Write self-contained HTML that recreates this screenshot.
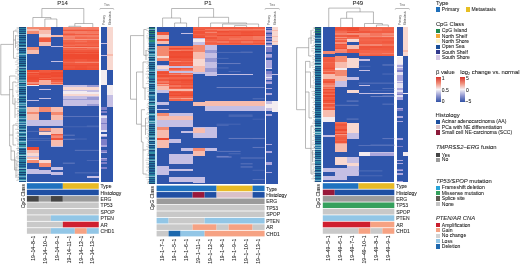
<!DOCTYPE html>
<html><head><meta charset="utf-8"><style>
html,body{margin:0;padding:0;background:#fff;}
body{width:520px;height:264px;overflow:hidden;}
svg{display:block;font-family:"Liberation Sans",sans-serif;filter:blur(0.4px);}
rect{shape-rendering:crispEdges;}
rect.a{shape-rendering:auto;}
text{stroke:currentColor;stroke-width:0.07px;}
</style></head><body>
<svg width="520" height="264" viewBox="0 0 520 264">
<rect width="520" height="264" fill="#fff"/>
<rect x="26.90" y="27.00" width="71.88" height="154.50" fill="#2f55ab"/>
<rect x="26.90" y="27.00" width="11.98" height="2.00" fill="#f48a70"/>
<rect x="26.90" y="29.00" width="11.98" height="2.00" fill="#f7bcae"/>
<rect x="26.90" y="31.00" width="11.98" height="2.80" fill="#f48a70"/>
<rect x="26.90" y="47.00" width="11.98" height="3.00" fill="#f48a70"/>
<rect x="26.90" y="50.00" width="11.98" height="3.70" fill="#f7bcae"/>
<rect x="26.90" y="70.00" width="11.98" height="1.10" fill="#ee4c32"/>
<rect x="26.90" y="71.10" width="11.98" height="0.90" fill="#ee4c32"/>
<rect x="26.90" y="72.00" width="11.98" height="0.90" fill="#f46e55"/>
<rect x="26.90" y="72.90" width="11.98" height="0.90" fill="#ee4a30"/>
<rect x="26.90" y="73.80" width="11.98" height="1.60" fill="#f1593f"/>
<rect x="26.90" y="75.40" width="11.98" height="2.00" fill="#ef5036"/>
<rect x="26.90" y="77.40" width="11.98" height="1.60" fill="#ee4a30"/>
<rect x="26.90" y="79.00" width="11.98" height="1.10" fill="#ee4c32"/>
<rect x="26.90" y="80.10" width="11.98" height="0.30" fill="#ee4a30"/>
<rect x="26.90" y="80.40" width="11.98" height="1.60" fill="#f05339"/>
<rect x="26.90" y="82.00" width="11.98" height="2.00" fill="#f68e7a"/>
<rect x="26.90" y="84.00" width="11.98" height="0.80" fill="#f15a40"/>
<rect x="26.90" y="84.80" width="11.98" height="1.20" fill="#f3ecf0"/>
<rect x="26.90" y="100.00" width="11.98" height="1.00" fill="#c5bfe4"/>
<rect x="26.90" y="107.20" width="11.98" height="4.80" fill="#f7bcae"/>
<rect x="26.90" y="112.00" width="11.98" height="2.00" fill="#f48a70"/>
<rect x="26.90" y="114.00" width="11.98" height="6.20" fill="#f7bcae"/>
<rect x="26.90" y="120.20" width="11.98" height="6.00" fill="#c5bfe4"/>
<rect x="26.90" y="146.60" width="11.98" height="2.90" fill="#ec4a30"/>
<rect x="26.90" y="149.50" width="11.98" height="3.50" fill="#f7bcae"/>
<rect x="26.90" y="153.00" width="11.98" height="3.00" fill="#f8d8d0"/>
<rect x="26.90" y="156.00" width="11.98" height="1.00" fill="#c5bfe4"/>
<rect x="26.90" y="157.00" width="11.98" height="2.00" fill="#f7bcae"/>
<rect x="26.90" y="159.00" width="11.98" height="1.00" fill="#f3ecf0"/>
<rect x="26.90" y="160.00" width="11.98" height="3.40" fill="#f48a70"/>
<rect x="26.90" y="169.40" width="11.98" height="4.30" fill="#c5bfe4"/>
<rect x="38.88" y="27.00" width="11.98" height="3.00" fill="#f48a70"/>
<rect x="38.88" y="30.00" width="11.98" height="3.80" fill="#f7bcae"/>
<rect x="38.88" y="33.80" width="11.98" height="2.70" fill="#f8d8d0"/>
<rect x="38.88" y="36.50" width="11.98" height="1.00" fill="#f48a70"/>
<rect x="38.88" y="37.50" width="11.98" height="0.60" fill="#f7bcae"/>
<rect x="38.88" y="38.10" width="11.98" height="4.30" fill="#f05a40"/>
<rect x="38.88" y="42.40" width="11.98" height="3.50" fill="#f7bcae"/>
<rect x="38.88" y="70.00" width="11.98" height="1.30" fill="#f15b41"/>
<rect x="38.88" y="71.30" width="11.98" height="0.90" fill="#f1593f"/>
<rect x="38.88" y="72.20" width="11.98" height="1.10" fill="#f0563c"/>
<rect x="38.88" y="73.30" width="11.98" height="1.30" fill="#ee4a30"/>
<rect x="38.88" y="74.60" width="11.98" height="2.00" fill="#ef5036"/>
<rect x="38.88" y="76.60" width="11.98" height="1.30" fill="#ee4a30"/>
<rect x="38.88" y="77.90" width="11.98" height="0.90" fill="#f3664c"/>
<rect x="38.88" y="78.80" width="11.98" height="1.60" fill="#ee4a30"/>
<rect x="38.88" y="80.40" width="11.98" height="1.10" fill="#f8ae9e"/>
<rect x="38.88" y="81.50" width="11.98" height="1.30" fill="#f8ad9d"/>
<rect x="38.88" y="82.80" width="11.98" height="0.90" fill="#f8ae9e"/>
<rect x="38.88" y="83.70" width="11.98" height="0.90" fill="#f8ae9e"/>
<rect x="38.88" y="84.60" width="11.98" height="0.20" fill="#f7a08e"/>
<rect x="38.88" y="89.00" width="11.98" height="1.00" fill="#c5bfe4"/>
<rect x="38.88" y="97.70" width="11.98" height="1.30" fill="#c5bfe4"/>
<rect x="38.88" y="107.20" width="11.98" height="5.20" fill="#f48a70"/>
<rect x="38.88" y="120.20" width="11.98" height="6.00" fill="#c5bfe4"/>
<rect x="38.88" y="128.00" width="11.98" height="4.00" fill="#f48a70"/>
<rect x="38.88" y="132.00" width="11.98" height="2.90" fill="#f8d8d0"/>
<rect x="38.88" y="160.00" width="11.98" height="3.40" fill="#f8d8d0"/>
<rect x="38.88" y="163.40" width="11.98" height="3.40" fill="#f48a70"/>
<rect x="38.88" y="170.30" width="11.98" height="3.40" fill="#c5bfe4"/>
<rect x="50.86" y="34.60" width="11.98" height="2.60" fill="#f7bcae"/>
<rect x="50.86" y="45.90" width="11.98" height="0.90" fill="#c5bfe4"/>
<rect x="50.86" y="61.00" width="11.98" height="1.00" fill="#c5bfe4"/>
<rect x="50.86" y="70.00" width="11.98" height="1.10" fill="#ef5238"/>
<rect x="50.86" y="71.10" width="11.98" height="0.90" fill="#f15a40"/>
<rect x="50.86" y="72.00" width="11.98" height="1.60" fill="#ee4a30"/>
<rect x="50.86" y="73.60" width="11.98" height="1.10" fill="#ef4d33"/>
<rect x="50.86" y="74.70" width="11.98" height="1.10" fill="#ee4a30"/>
<rect x="50.86" y="75.80" width="11.98" height="1.30" fill="#ee4a30"/>
<rect x="50.86" y="77.10" width="11.98" height="2.00" fill="#f1593f"/>
<rect x="50.86" y="79.10" width="11.98" height="1.30" fill="#ee4a30"/>
<rect x="50.86" y="80.40" width="11.98" height="1.10" fill="#f25f45"/>
<rect x="50.86" y="81.50" width="11.98" height="1.30" fill="#f5836d"/>
<rect x="50.86" y="82.80" width="11.98" height="1.10" fill="#f3644a"/>
<rect x="50.86" y="83.90" width="11.98" height="0.90" fill="#f7a694"/>
<rect x="50.86" y="107.20" width="11.98" height="4.80" fill="#f7bcae"/>
<rect x="50.86" y="112.00" width="11.98" height="3.00" fill="#f48a70"/>
<rect x="50.86" y="115.00" width="11.98" height="5.20" fill="#f7bcae"/>
<rect x="50.86" y="120.20" width="11.98" height="6.00" fill="#c5bfe4"/>
<rect x="50.86" y="128.00" width="11.98" height="6.00" fill="#f7bcae"/>
<rect x="50.86" y="134.00" width="11.98" height="1.30" fill="#f15d43"/>
<rect x="50.86" y="135.30" width="11.98" height="1.10" fill="#f47962"/>
<rect x="50.86" y="136.40" width="11.98" height="1.60" fill="#f58772"/>
<rect x="50.86" y="138.00" width="11.98" height="2.00" fill="#f0553b"/>
<rect x="50.86" y="140.00" width="11.98" height="6.00" fill="#f7bcae"/>
<rect x="50.86" y="146.00" width="11.98" height="1.00" fill="#c5bfe4"/>
<rect x="50.86" y="166.80" width="11.98" height="3.50" fill="#c5bfe4"/>
<rect x="50.86" y="172.00" width="11.98" height="2.60" fill="#c5bfe4"/>
<rect x="62.84" y="27.00" width="11.98" height="1.60" fill="#f5826c"/>
<rect x="74.82" y="27.00" width="11.98" height="1.60" fill="#f5826b"/>
<rect x="86.80" y="27.00" width="11.98" height="1.60" fill="#f57c65"/>
<rect x="62.84" y="28.60" width="11.98" height="1.30" fill="#f4765e"/>
<rect x="74.82" y="28.60" width="11.98" height="1.30" fill="#f4745c"/>
<rect x="86.80" y="28.60" width="11.98" height="1.30" fill="#f4755e"/>
<rect x="62.84" y="29.90" width="11.98" height="0.90" fill="#f0563c"/>
<rect x="74.82" y="29.90" width="11.98" height="0.90" fill="#f0573d"/>
<rect x="86.80" y="29.90" width="11.98" height="0.90" fill="#f1593f"/>
<rect x="62.84" y="30.80" width="11.98" height="2.00" fill="#f57c65"/>
<rect x="74.82" y="30.80" width="11.98" height="2.00" fill="#f57d66"/>
<rect x="86.80" y="30.80" width="11.98" height="2.00" fill="#f4775f"/>
<rect x="62.84" y="32.80" width="11.98" height="1.10" fill="#f46d54"/>
<rect x="74.82" y="32.80" width="11.98" height="1.10" fill="#f47c65"/>
<rect x="86.80" y="32.80" width="11.98" height="1.10" fill="#f57c65"/>
<rect x="62.84" y="33.90" width="11.98" height="0.90" fill="#f0583e"/>
<rect x="74.82" y="33.90" width="11.98" height="0.90" fill="#f15c42"/>
<rect x="86.80" y="33.90" width="11.98" height="0.90" fill="#f25f45"/>
<rect x="62.84" y="34.80" width="11.98" height="1.30" fill="#f4745c"/>
<rect x="74.82" y="34.80" width="11.98" height="1.30" fill="#f57d66"/>
<rect x="86.80" y="34.80" width="11.98" height="1.30" fill="#f57d66"/>
<rect x="62.84" y="36.10" width="11.98" height="1.30" fill="#f58772"/>
<rect x="74.82" y="36.10" width="11.98" height="1.30" fill="#f47a63"/>
<rect x="86.80" y="36.10" width="11.98" height="1.30" fill="#f57d66"/>
<rect x="62.84" y="37.40" width="11.98" height="1.30" fill="#f57e67"/>
<rect x="74.82" y="37.40" width="11.98" height="1.30" fill="#f3684e"/>
<rect x="86.80" y="37.40" width="11.98" height="1.30" fill="#f36b52"/>
<rect x="62.84" y="38.70" width="11.98" height="0.90" fill="#f68e79"/>
<rect x="74.82" y="38.70" width="11.98" height="0.90" fill="#f79986"/>
<rect x="86.80" y="38.70" width="11.98" height="0.90" fill="#f6937f"/>
<rect x="62.84" y="39.60" width="11.98" height="1.30" fill="#f26349"/>
<rect x="74.82" y="39.60" width="11.98" height="1.30" fill="#f3664c"/>
<rect x="86.80" y="39.60" width="11.98" height="1.30" fill="#f26147"/>
<rect x="62.84" y="40.90" width="11.98" height="0.90" fill="#f3664c"/>
<rect x="74.82" y="40.90" width="11.98" height="0.90" fill="#f4725a"/>
<rect x="86.80" y="40.90" width="11.98" height="0.90" fill="#f26147"/>
<rect x="62.84" y="41.80" width="11.98" height="0.90" fill="#f25f45"/>
<rect x="74.82" y="41.80" width="11.98" height="0.90" fill="#f26147"/>
<rect x="86.80" y="41.80" width="11.98" height="0.90" fill="#f15d43"/>
<rect x="62.84" y="42.70" width="11.98" height="1.10" fill="#f15b41"/>
<rect x="74.82" y="42.70" width="11.98" height="1.10" fill="#f15c42"/>
<rect x="86.80" y="42.70" width="11.98" height="1.10" fill="#f26046"/>
<rect x="62.84" y="43.80" width="11.98" height="0.90" fill="#f36349"/>
<rect x="74.82" y="43.80" width="11.98" height="0.90" fill="#f36b52"/>
<rect x="86.80" y="43.80" width="11.98" height="0.90" fill="#f36349"/>
<rect x="62.84" y="44.70" width="11.98" height="1.10" fill="#f36d54"/>
<rect x="74.82" y="44.70" width="11.98" height="1.10" fill="#f3694f"/>
<rect x="86.80" y="44.70" width="11.98" height="1.10" fill="#f3664c"/>
<rect x="62.84" y="45.80" width="11.98" height="1.30" fill="#f0573d"/>
<rect x="74.82" y="45.80" width="11.98" height="1.30" fill="#ef5137"/>
<rect x="86.80" y="45.80" width="11.98" height="1.30" fill="#f0543a"/>
<rect x="62.84" y="47.10" width="11.98" height="0.90" fill="#f68e7a"/>
<rect x="74.82" y="47.10" width="11.98" height="0.90" fill="#f6927e"/>
<rect x="86.80" y="47.10" width="11.98" height="0.90" fill="#f68e7a"/>
<rect x="62.84" y="48.00" width="11.98" height="1.10" fill="#f26349"/>
<rect x="74.82" y="48.00" width="11.98" height="1.10" fill="#f25f45"/>
<rect x="86.80" y="48.00" width="11.98" height="1.10" fill="#f36d54"/>
<rect x="62.84" y="49.10" width="11.98" height="1.30" fill="#f3674d"/>
<rect x="74.82" y="49.10" width="11.98" height="1.30" fill="#f36a50"/>
<rect x="86.80" y="49.10" width="11.98" height="1.30" fill="#f3674e"/>
<rect x="62.84" y="50.40" width="11.98" height="1.60" fill="#f0553b"/>
<rect x="74.82" y="50.40" width="11.98" height="1.60" fill="#f0573d"/>
<rect x="86.80" y="50.40" width="11.98" height="1.60" fill="#f0563c"/>
<rect x="62.84" y="52.00" width="11.98" height="0.90" fill="#ee4c32"/>
<rect x="74.82" y="52.00" width="11.98" height="0.90" fill="#ee4a30"/>
<rect x="86.80" y="52.00" width="11.98" height="0.90" fill="#ee4a30"/>
<rect x="62.84" y="52.90" width="11.98" height="1.30" fill="#f15a40"/>
<rect x="74.82" y="52.90" width="11.98" height="1.30" fill="#f25f45"/>
<rect x="86.80" y="52.90" width="11.98" height="1.30" fill="#f15a40"/>
<rect x="62.84" y="54.20" width="11.98" height="2.00" fill="#ee4a30"/>
<rect x="74.82" y="54.20" width="11.98" height="2.00" fill="#ee4a30"/>
<rect x="86.80" y="54.20" width="11.98" height="2.00" fill="#ee4a30"/>
<rect x="62.84" y="56.20" width="11.98" height="1.10" fill="#ee4a30"/>
<rect x="74.82" y="56.20" width="11.98" height="1.10" fill="#ee4a30"/>
<rect x="86.80" y="56.20" width="11.98" height="1.10" fill="#ee4a30"/>
<rect x="62.84" y="57.30" width="11.98" height="2.00" fill="#ee4b31"/>
<rect x="74.82" y="57.30" width="11.98" height="2.00" fill="#ee4a30"/>
<rect x="86.80" y="57.30" width="11.98" height="2.00" fill="#ee4a30"/>
<rect x="62.84" y="59.30" width="11.98" height="2.00" fill="#f05339"/>
<rect x="74.82" y="59.30" width="11.98" height="2.00" fill="#f0573d"/>
<rect x="86.80" y="59.30" width="11.98" height="2.00" fill="#ef5137"/>
<rect x="62.84" y="61.30" width="11.98" height="0.70" fill="#f1593f"/>
<rect x="74.82" y="61.30" width="11.98" height="0.70" fill="#f26046"/>
<rect x="86.80" y="61.30" width="11.98" height="0.70" fill="#f15e44"/>
<rect x="62.84" y="62.00" width="11.98" height="1.30" fill="#f36b52"/>
<rect x="74.82" y="62.00" width="11.98" height="1.30" fill="#f5816b"/>
<rect x="86.80" y="62.00" width="11.98" height="1.30" fill="#f5836d"/>
<rect x="62.84" y="63.30" width="11.98" height="2.00" fill="#f0573d"/>
<rect x="74.82" y="63.30" width="11.98" height="2.00" fill="#f1583e"/>
<rect x="86.80" y="63.30" width="11.98" height="2.00" fill="#f0553b"/>
<rect x="62.84" y="65.30" width="11.98" height="1.10" fill="#ef4e34"/>
<rect x="74.82" y="65.30" width="11.98" height="1.10" fill="#ef4e34"/>
<rect x="86.80" y="65.30" width="11.98" height="1.10" fill="#ef5036"/>
<rect x="62.84" y="66.40" width="11.98" height="1.30" fill="#f0573d"/>
<rect x="74.82" y="66.40" width="11.98" height="1.30" fill="#ef5238"/>
<rect x="86.80" y="66.40" width="11.98" height="1.30" fill="#f0573d"/>
<rect x="62.84" y="67.70" width="11.98" height="1.30" fill="#ef5238"/>
<rect x="74.82" y="67.70" width="11.98" height="1.30" fill="#ef4e34"/>
<rect x="86.80" y="67.70" width="11.98" height="1.30" fill="#ef5238"/>
<rect x="62.84" y="69.00" width="11.98" height="1.00" fill="#ef4d33"/>
<rect x="74.82" y="69.00" width="11.98" height="1.00" fill="#ef4d33"/>
<rect x="86.80" y="69.00" width="11.98" height="1.00" fill="#f05339"/>
<rect x="62.84" y="84.80" width="35.94" height="1.70" fill="#c5bfe4"/>
<rect x="62.84" y="86.50" width="35.94" height="3.50" fill="#f8d8d0"/>
<rect x="62.84" y="90.00" width="35.94" height="1.00" fill="#c5bfe4"/>
<rect x="62.84" y="91.00" width="35.94" height="3.00" fill="#f3ecf0"/>
<rect x="62.84" y="94.00" width="35.94" height="2.00" fill="#f8d8d0"/>
<rect x="62.84" y="96.00" width="35.94" height="3.00" fill="#c5bfe4"/>
<rect x="62.84" y="99.00" width="35.94" height="1.00" fill="#9a9bd4"/>
<rect x="62.84" y="100.00" width="35.94" height="4.00" fill="#c5bfe4"/>
<rect x="62.84" y="104.00" width="35.94" height="2.30" fill="#c5bfe4"/>
<rect x="86.80" y="84.80" width="11.98" height="1.70" fill="#9a9bd4"/>
<rect x="86.80" y="89.70" width="11.98" height="2.50" fill="#c5bfe4"/>
<rect x="86.80" y="97.20" width="11.98" height="2.50" fill="#9a9bd4"/>
<rect x="86.80" y="103.50" width="11.98" height="2.80" fill="#9a9bd4"/>
<rect x="86.80" y="176.30" width="11.98" height="1.70" fill="#c5bfe4"/>
<rect x="62.84" y="134.81" width="11.98" height="0.65" fill="#7c8cc8" class="a"/>
<rect x="74.82" y="172.44" width="23.96" height="0.84" fill="#5c74bc" class="a"/>
<rect x="62.84" y="162.72" width="11.98" height="0.84" fill="#7083c4" class="a"/>
<rect x="62.84" y="139.08" width="11.98" height="0.63" fill="#808fca" class="a"/>
<rect x="86.80" y="125.80" width="11.98" height="0.55" fill="#6c80c2" class="a"/>
<rect x="74.82" y="149.91" width="23.96" height="0.59" fill="#7989c7" class="a"/>
<rect x="86.80" y="160.02" width="11.98" height="0.77" fill="#546fb9" class="a"/>
<rect x="62.84" y="116.04" width="35.94" height="0.57" fill="#7c8cc8" class="a"/>
<rect x="62.84" y="126.46" width="35.94" height="0.73" fill="#4e6bb7" class="a"/>
<rect x="62.84" y="138.75" width="23.96" height="0.54" fill="#6279be" class="a"/>
<rect x="26.90" y="138.51" width="23.96" height="0.59" fill="#5b74bc" class="a"/>
<rect x="26.90" y="140.26" width="23.96" height="0.51" fill="#637abf" class="a"/>
<rect x="26.90" y="130.94" width="23.96" height="0.76" fill="#5772ba" class="a"/>
<rect x="101.00" y="27.00" width="5.90" height="16.00" fill="#2f55ab"/>
<rect x="101.00" y="43.00" width="5.90" height="1.00" fill="#c5bfe4"/>
<rect x="101.00" y="44.00" width="5.90" height="11.00" fill="#2f55ab"/>
<rect x="101.00" y="55.00" width="5.90" height="1.00" fill="#c5bfe4"/>
<rect x="101.00" y="56.00" width="5.90" height="14.00" fill="#2f55ab"/>
<rect x="101.00" y="70.00" width="5.90" height="14.80" fill="#f3ecf0"/>
<rect x="101.00" y="84.80" width="5.90" height="21.70" fill="#2f55ab"/>
<rect x="101.00" y="106.50" width="5.90" height="5.50" fill="#f3ecf0"/>
<rect x="101.00" y="112.00" width="5.90" height="2.00" fill="#c5bfe4"/>
<rect x="101.00" y="114.00" width="5.90" height="2.00" fill="#2f55ab"/>
<rect x="101.00" y="116.00" width="5.90" height="2.00" fill="#c5bfe4"/>
<rect x="101.00" y="118.00" width="5.90" height="3.00" fill="#9a9bd4"/>
<rect x="101.00" y="121.00" width="5.90" height="2.00" fill="#c5bfe4"/>
<rect x="101.00" y="123.00" width="5.90" height="3.00" fill="#2f55ab"/>
<rect x="101.00" y="126.00" width="5.90" height="2.00" fill="#c5bfe4"/>
<rect x="101.00" y="128.00" width="5.90" height="3.00" fill="#2f55ab"/>
<rect x="101.00" y="131.00" width="5.90" height="2.00" fill="#9a9bd4"/>
<rect x="101.00" y="133.00" width="5.90" height="3.00" fill="#2f55ab"/>
<rect x="101.00" y="136.00" width="5.90" height="2.00" fill="#c5bfe4"/>
<rect x="101.00" y="138.00" width="5.90" height="3.00" fill="#2f55ab"/>
<rect x="101.00" y="141.00" width="5.90" height="2.00" fill="#c5bfe4"/>
<rect x="101.00" y="143.00" width="5.90" height="3.00" fill="#2f55ab"/>
<rect x="101.00" y="146.00" width="5.90" height="1.00" fill="#c5bfe4"/>
<rect x="101.00" y="147.00" width="5.90" height="13.00" fill="#2f55ab"/>
<rect x="101.00" y="160.00" width="5.90" height="2.00" fill="#c5bfe4"/>
<rect x="101.00" y="162.00" width="5.90" height="2.00" fill="#2f55ab"/>
<rect x="101.00" y="164.00" width="5.90" height="2.00" fill="#9a9bd4"/>
<rect x="101.00" y="166.00" width="5.90" height="2.00" fill="#2f55ab"/>
<rect x="101.00" y="168.00" width="5.90" height="4.00" fill="#c5bfe4"/>
<rect x="101.00" y="172.00" width="5.90" height="9.50" fill="#2f55ab"/>
<rect x="101.00" y="106.50" width="5.90" height="1.57" fill="#7e7fc8"/>
<rect x="101.00" y="108.07" width="5.90" height="1.85" fill="#7e7fc8"/>
<rect x="101.00" y="109.91" width="5.90" height="1.20" fill="#2f55ab"/>
<rect x="101.00" y="111.11" width="5.90" height="1.59" fill="#7e7fc8"/>
<rect x="101.00" y="112.71" width="5.90" height="1.86" fill="#2f55ab"/>
<rect x="101.00" y="114.56" width="5.90" height="1.18" fill="#aba6dc"/>
<rect x="101.00" y="115.75" width="5.90" height="1.80" fill="#e4e0f0"/>
<rect x="101.00" y="117.55" width="5.90" height="1.85" fill="#aba6dc"/>
<rect x="101.00" y="119.40" width="5.90" height="2.14" fill="#aba6dc"/>
<rect x="101.00" y="121.54" width="5.90" height="1.81" fill="#aba6dc"/>
<rect x="101.00" y="123.35" width="5.90" height="0.84" fill="#7e7fc8"/>
<rect x="101.00" y="124.19" width="5.90" height="0.87" fill="#aba6dc"/>
<rect x="101.00" y="125.06" width="5.90" height="1.25" fill="#aba6dc"/>
<rect x="101.00" y="126.31" width="5.90" height="1.03" fill="#aba6dc"/>
<rect x="101.00" y="127.34" width="5.90" height="1.98" fill="#aba6dc"/>
<rect x="101.00" y="129.33" width="5.90" height="1.03" fill="#aba6dc"/>
<rect x="101.00" y="130.35" width="5.90" height="2.07" fill="#e4e0f0"/>
<rect x="101.00" y="132.43" width="5.90" height="1.95" fill="#2f55ab"/>
<rect x="101.00" y="134.38" width="5.90" height="1.49" fill="#e4e0f0"/>
<rect x="101.00" y="135.87" width="5.90" height="1.34" fill="#aba6dc"/>
<rect x="101.00" y="137.22" width="5.90" height="1.63" fill="#2f55ab"/>
<rect x="101.00" y="138.85" width="5.90" height="1.15" fill="#7e7fc8"/>
<rect x="101.00" y="140.00" width="5.90" height="1.26" fill="#7e7fc8"/>
<rect x="101.00" y="141.26" width="5.90" height="2.14" fill="#7e7fc8"/>
<rect x="101.00" y="143.40" width="5.90" height="1.91" fill="#7e7fc8"/>
<rect x="101.00" y="145.31" width="5.90" height="0.80" fill="#aba6dc"/>
<rect x="101.00" y="146.11" width="5.90" height="1.15" fill="#aba6dc"/>
<rect x="101.00" y="147.26" width="5.90" height="1.41" fill="#2f55ab"/>
<rect x="101.00" y="148.66" width="5.90" height="1.56" fill="#2f55ab"/>
<rect x="101.00" y="150.22" width="5.90" height="1.96" fill="#7e7fc8"/>
<rect x="101.00" y="152.18" width="5.90" height="1.28" fill="#aba6dc"/>
<rect x="101.00" y="153.46" width="5.90" height="2.04" fill="#2f55ab"/>
<rect x="101.00" y="155.51" width="5.90" height="0.97" fill="#2f55ab"/>
<rect x="101.00" y="156.48" width="5.90" height="1.87" fill="#2f55ab"/>
<rect x="101.00" y="158.35" width="5.90" height="1.06" fill="#aba6dc"/>
<rect x="101.00" y="159.41" width="5.90" height="1.25" fill="#7e7fc8"/>
<rect x="101.00" y="160.66" width="5.90" height="1.04" fill="#2f55ab"/>
<rect x="101.00" y="161.70" width="5.90" height="1.34" fill="#7e7fc8"/>
<rect x="101.00" y="163.04" width="5.90" height="0.99" fill="#7e7fc8"/>
<rect x="101.00" y="164.03" width="5.90" height="1.38" fill="#2f55ab"/>
<rect x="101.00" y="165.42" width="5.90" height="1.09" fill="#2f55ab"/>
<rect x="101.00" y="166.51" width="5.90" height="2.10" fill="#7e7fc8"/>
<rect x="101.00" y="168.61" width="5.90" height="2.12" fill="#2f55ab"/>
<rect x="101.00" y="170.73" width="5.90" height="1.13" fill="#2f55ab"/>
<rect x="101.00" y="171.86" width="5.90" height="1.71" fill="#2f55ab"/>
<rect x="101.00" y="173.57" width="5.90" height="2.18" fill="#2f55ab"/>
<rect x="101.00" y="175.75" width="5.90" height="1.13" fill="#2f55ab"/>
<rect x="101.00" y="176.88" width="5.90" height="1.03" fill="#2f55ab"/>
<rect x="101.00" y="177.91" width="5.90" height="1.14" fill="#2f55ab"/>
<rect x="101.00" y="179.05" width="5.90" height="2.11" fill="#2f55ab"/>
<rect x="101.00" y="181.16" width="5.90" height="0.34" fill="#2f55ab"/>
<rect x="106.90" y="27.00" width="5.90" height="27.00" fill="#f8d8d0"/>
<rect x="106.90" y="54.00" width="5.90" height="2.00" fill="#f7bcae"/>
<rect x="106.90" y="56.00" width="5.90" height="14.00" fill="#f8d8d0"/>
<rect x="106.90" y="70.00" width="5.90" height="14.80" fill="#2f55ab"/>
<rect x="106.90" y="84.80" width="5.90" height="10.20" fill="#f3ecf0"/>
<rect x="106.90" y="95.00" width="5.90" height="11.50" fill="#c5bfe4"/>
<rect x="106.90" y="106.50" width="5.90" height="75.00" fill="#2f55ab"/>
<rect x="18.60" y="27.00" width="7.00" height="154.50" fill="#1f5e8c"/>
<rect x="18.60" y="27.00" width="7.00" height="0.73" fill="#19467a"/>
<rect x="18.60" y="27.73" width="7.00" height="1.05" fill="#2a84a0"/>
<rect x="18.60" y="28.78" width="7.00" height="0.50" fill="#6aa8c4"/>
<rect x="18.60" y="29.28" width="7.00" height="0.65" fill="#1c5086"/>
<rect x="18.60" y="29.92" width="7.00" height="0.81" fill="#2578a0"/>
<rect x="18.60" y="30.74" width="7.00" height="0.95" fill="#1c5086"/>
<rect x="18.60" y="31.68" width="7.00" height="0.93" fill="#2a84a0"/>
<rect x="18.60" y="32.62" width="7.00" height="1.05" fill="#174272"/>
<rect x="18.60" y="33.67" width="7.00" height="0.82" fill="#2a84a0"/>
<rect x="18.60" y="34.48" width="7.00" height="0.50" fill="#6aa8c4"/>
<rect x="18.60" y="34.98" width="7.00" height="0.94" fill="#19467a"/>
<rect x="18.60" y="35.93" width="7.00" height="1.28" fill="#2270a0"/>
<rect x="18.60" y="37.21" width="7.00" height="0.98" fill="#174272"/>
<rect x="18.60" y="38.19" width="7.00" height="1.27" fill="#2578a0"/>
<rect x="18.60" y="39.46" width="7.00" height="0.94" fill="#1c5086"/>
<rect x="18.60" y="40.40" width="7.00" height="1.18" fill="#2578a0"/>
<rect x="18.60" y="41.58" width="7.00" height="1.02" fill="#19467a"/>
<rect x="18.60" y="42.60" width="7.00" height="1.08" fill="#2270a0"/>
<rect x="18.60" y="43.68" width="7.00" height="0.66" fill="#19467a"/>
<rect x="18.60" y="44.34" width="7.00" height="0.97" fill="#318ea4"/>
<rect x="18.60" y="45.31" width="7.00" height="0.85" fill="#174272"/>
<rect x="18.60" y="46.16" width="7.00" height="1.26" fill="#2270a0"/>
<rect x="18.60" y="47.41" width="7.00" height="0.50" fill="#8cc4d8"/>
<rect x="18.60" y="47.91" width="7.00" height="1.02" fill="#174272"/>
<rect x="18.60" y="48.94" width="7.00" height="1.05" fill="#2270a0"/>
<rect x="18.60" y="49.99" width="7.00" height="0.72" fill="#19467a"/>
<rect x="18.60" y="50.71" width="7.00" height="1.20" fill="#2270a0"/>
<rect x="18.60" y="51.91" width="7.00" height="0.50" fill="#78b4cc"/>
<rect x="18.60" y="52.41" width="7.00" height="0.64" fill="#1c5086"/>
<rect x="18.60" y="53.05" width="7.00" height="1.13" fill="#318ea4"/>
<rect x="18.60" y="54.19" width="7.00" height="0.50" fill="#78b4cc"/>
<rect x="18.60" y="54.69" width="7.00" height="0.79" fill="#174272"/>
<rect x="18.60" y="55.47" width="7.00" height="1.17" fill="#2270a0"/>
<rect x="18.60" y="56.64" width="7.00" height="0.50" fill="#8cc4d8"/>
<rect x="18.60" y="57.14" width="7.00" height="0.92" fill="#174272"/>
<rect x="18.60" y="58.06" width="7.00" height="0.88" fill="#2270a0"/>
<rect x="18.60" y="58.94" width="7.00" height="0.50" fill="#78b4cc"/>
<rect x="18.60" y="59.44" width="7.00" height="0.80" fill="#19467a"/>
<rect x="18.60" y="60.25" width="7.00" height="0.97" fill="#2578a0"/>
<rect x="18.60" y="61.22" width="7.00" height="1.05" fill="#1c5086"/>
<rect x="18.60" y="62.27" width="7.00" height="1.13" fill="#2270a0"/>
<rect x="18.60" y="63.40" width="7.00" height="0.79" fill="#174272"/>
<rect x="18.60" y="64.20" width="7.00" height="1.23" fill="#2a84a0"/>
<rect x="18.60" y="65.42" width="7.00" height="0.86" fill="#174272"/>
<rect x="18.60" y="66.28" width="7.00" height="1.08" fill="#2578a0"/>
<rect x="18.60" y="67.36" width="7.00" height="0.50" fill="#78b4cc"/>
<rect x="18.60" y="67.86" width="7.00" height="0.88" fill="#1c5086"/>
<rect x="18.60" y="68.75" width="7.00" height="0.90" fill="#318ea4"/>
<rect x="18.60" y="69.65" width="7.00" height="0.81" fill="#1c5086"/>
<rect x="18.60" y="70.46" width="7.00" height="0.80" fill="#318ea4"/>
<rect x="18.60" y="71.26" width="7.00" height="0.83" fill="#174272"/>
<rect x="18.60" y="72.09" width="7.00" height="0.81" fill="#318ea4"/>
<rect x="18.60" y="72.90" width="7.00" height="0.50" fill="#78b4cc"/>
<rect x="18.60" y="73.40" width="7.00" height="1.03" fill="#174272"/>
<rect x="18.60" y="74.43" width="7.00" height="1.20" fill="#2578a0"/>
<rect x="18.60" y="75.63" width="7.00" height="1.02" fill="#1c5086"/>
<rect x="18.60" y="76.65" width="7.00" height="1.14" fill="#2a84a0"/>
<rect x="18.60" y="77.79" width="7.00" height="0.50" fill="#78b4cc"/>
<rect x="18.60" y="78.29" width="7.00" height="0.98" fill="#1c5086"/>
<rect x="18.60" y="79.26" width="7.00" height="0.94" fill="#2a84a0"/>
<rect x="18.60" y="80.20" width="7.00" height="0.50" fill="#6aa8c4"/>
<rect x="18.60" y="80.70" width="7.00" height="0.75" fill="#19467a"/>
<rect x="18.60" y="81.45" width="7.00" height="0.88" fill="#318ea4"/>
<rect x="18.60" y="82.33" width="7.00" height="0.50" fill="#78b4cc"/>
<rect x="18.60" y="82.83" width="7.00" height="0.92" fill="#174272"/>
<rect x="18.60" y="83.76" width="7.00" height="0.95" fill="#318ea4"/>
<rect x="18.60" y="84.70" width="7.00" height="0.66" fill="#1c5086"/>
<rect x="18.60" y="85.36" width="7.00" height="0.96" fill="#2270a0"/>
<rect x="18.60" y="86.32" width="7.00" height="0.50" fill="#78b4cc"/>
<rect x="18.60" y="86.82" width="7.00" height="0.73" fill="#1c5086"/>
<rect x="18.60" y="87.54" width="7.00" height="1.17" fill="#2a84a0"/>
<rect x="18.60" y="88.71" width="7.00" height="1.01" fill="#174272"/>
<rect x="18.60" y="89.72" width="7.00" height="0.81" fill="#2270a0"/>
<rect x="18.60" y="90.53" width="7.00" height="0.50" fill="#78b4cc"/>
<rect x="18.60" y="91.03" width="7.00" height="0.82" fill="#19467a"/>
<rect x="18.60" y="91.85" width="7.00" height="1.05" fill="#2578a0"/>
<rect x="18.60" y="92.90" width="7.00" height="0.50" fill="#78b4cc"/>
<rect x="18.60" y="93.40" width="7.00" height="0.71" fill="#174272"/>
<rect x="18.60" y="94.12" width="7.00" height="1.12" fill="#2270a0"/>
<rect x="18.60" y="95.24" width="7.00" height="0.50" fill="#6aa8c4"/>
<rect x="18.60" y="95.74" width="7.00" height="0.63" fill="#1c5086"/>
<rect x="18.60" y="96.37" width="7.00" height="0.95" fill="#2270a0"/>
<rect x="18.60" y="97.32" width="7.00" height="0.64" fill="#19467a"/>
<rect x="18.60" y="97.95" width="7.00" height="0.84" fill="#318ea4"/>
<rect x="18.60" y="98.79" width="7.00" height="0.81" fill="#1c5086"/>
<rect x="18.60" y="99.60" width="7.00" height="0.93" fill="#2578a0"/>
<rect x="18.60" y="100.53" width="7.00" height="0.50" fill="#78b4cc"/>
<rect x="18.60" y="101.03" width="7.00" height="1.08" fill="#174272"/>
<rect x="18.60" y="102.11" width="7.00" height="1.09" fill="#2578a0"/>
<rect x="18.60" y="103.19" width="7.00" height="0.50" fill="#6aa8c4"/>
<rect x="18.60" y="103.69" width="7.00" height="0.79" fill="#174272"/>
<rect x="18.60" y="104.48" width="7.00" height="0.97" fill="#2a84a0"/>
<rect x="18.60" y="105.46" width="7.00" height="0.50" fill="#6aa8c4"/>
<rect x="18.60" y="105.96" width="7.00" height="0.85" fill="#1c5086"/>
<rect x="18.60" y="106.80" width="7.00" height="1.27" fill="#2578a0"/>
<rect x="18.60" y="108.07" width="7.00" height="0.50" fill="#6aa8c4"/>
<rect x="18.60" y="108.57" width="7.00" height="0.76" fill="#1c5086"/>
<rect x="18.60" y="109.33" width="7.00" height="1.24" fill="#2a84a0"/>
<rect x="18.60" y="110.57" width="7.00" height="0.70" fill="#19467a"/>
<rect x="18.60" y="111.27" width="7.00" height="0.96" fill="#2578a0"/>
<rect x="18.60" y="112.23" width="7.00" height="0.81" fill="#19467a"/>
<rect x="18.60" y="113.05" width="7.00" height="0.93" fill="#318ea4"/>
<rect x="18.60" y="113.98" width="7.00" height="0.50" fill="#8cc4d8"/>
<rect x="18.60" y="114.48" width="7.00" height="1.06" fill="#174272"/>
<rect x="18.60" y="115.54" width="7.00" height="1.22" fill="#318ea4"/>
<rect x="18.60" y="116.76" width="7.00" height="0.63" fill="#174272"/>
<rect x="18.60" y="117.39" width="7.00" height="0.82" fill="#2578a0"/>
<rect x="18.60" y="118.21" width="7.00" height="0.50" fill="#78b4cc"/>
<rect x="18.60" y="118.71" width="7.00" height="0.73" fill="#174272"/>
<rect x="18.60" y="119.44" width="7.00" height="0.97" fill="#2578a0"/>
<rect x="18.60" y="120.41" width="7.00" height="0.77" fill="#1c5086"/>
<rect x="18.60" y="121.18" width="7.00" height="0.86" fill="#318ea4"/>
<rect x="18.60" y="122.04" width="7.00" height="0.50" fill="#6aa8c4"/>
<rect x="18.60" y="122.54" width="7.00" height="0.67" fill="#174272"/>
<rect x="18.60" y="123.20" width="7.00" height="1.08" fill="#2270a0"/>
<rect x="18.60" y="124.28" width="7.00" height="0.50" fill="#78b4cc"/>
<rect x="18.60" y="124.78" width="7.00" height="0.79" fill="#1c5086"/>
<rect x="18.60" y="125.57" width="7.00" height="1.30" fill="#2a84a0"/>
<rect x="18.60" y="126.87" width="7.00" height="0.50" fill="#78b4cc"/>
<rect x="18.60" y="127.37" width="7.00" height="0.91" fill="#1c5086"/>
<rect x="18.60" y="128.27" width="7.00" height="1.19" fill="#2a84a0"/>
<rect x="18.60" y="129.46" width="7.00" height="0.50" fill="#6aa8c4"/>
<rect x="18.60" y="129.96" width="7.00" height="0.88" fill="#174272"/>
<rect x="18.60" y="130.85" width="7.00" height="1.28" fill="#2578a0"/>
<rect x="18.60" y="132.12" width="7.00" height="0.50" fill="#8cc4d8"/>
<rect x="18.60" y="132.62" width="7.00" height="0.83" fill="#174272"/>
<rect x="18.60" y="133.45" width="7.00" height="0.94" fill="#2a84a0"/>
<rect x="18.60" y="134.39" width="7.00" height="0.91" fill="#1c5086"/>
<rect x="18.60" y="135.30" width="7.00" height="0.81" fill="#2a84a0"/>
<rect x="18.60" y="136.11" width="7.00" height="0.50" fill="#78b4cc"/>
<rect x="18.60" y="136.61" width="7.00" height="0.99" fill="#19467a"/>
<rect x="18.60" y="137.60" width="7.00" height="1.09" fill="#2578a0"/>
<rect x="18.60" y="138.69" width="7.00" height="0.50" fill="#8cc4d8"/>
<rect x="18.60" y="139.19" width="7.00" height="0.68" fill="#19467a"/>
<rect x="18.60" y="139.87" width="7.00" height="1.22" fill="#2578a0"/>
<rect x="18.60" y="141.09" width="7.00" height="0.50" fill="#8cc4d8"/>
<rect x="18.60" y="141.59" width="7.00" height="0.88" fill="#174272"/>
<rect x="18.60" y="142.47" width="7.00" height="1.16" fill="#318ea4"/>
<rect x="18.60" y="143.62" width="7.00" height="0.50" fill="#78b4cc"/>
<rect x="18.60" y="144.12" width="7.00" height="0.62" fill="#174272"/>
<rect x="18.60" y="144.74" width="7.00" height="0.81" fill="#318ea4"/>
<rect x="18.60" y="145.55" width="7.00" height="0.82" fill="#1c5086"/>
<rect x="18.60" y="146.37" width="7.00" height="0.96" fill="#318ea4"/>
<rect x="18.60" y="147.33" width="7.00" height="0.50" fill="#8cc4d8"/>
<rect x="18.60" y="147.83" width="7.00" height="0.66" fill="#174272"/>
<rect x="18.60" y="148.49" width="7.00" height="0.91" fill="#2270a0"/>
<rect x="18.60" y="149.39" width="7.00" height="0.93" fill="#174272"/>
<rect x="18.60" y="150.33" width="7.00" height="0.93" fill="#2270a0"/>
<rect x="18.60" y="151.25" width="7.00" height="0.72" fill="#1c5086"/>
<rect x="18.60" y="151.98" width="7.00" height="0.84" fill="#2578a0"/>
<rect x="18.60" y="152.82" width="7.00" height="0.50" fill="#8cc4d8"/>
<rect x="18.60" y="153.32" width="7.00" height="1.07" fill="#19467a"/>
<rect x="18.60" y="154.39" width="7.00" height="1.00" fill="#318ea4"/>
<rect x="18.60" y="155.38" width="7.00" height="0.50" fill="#8cc4d8"/>
<rect x="18.60" y="155.88" width="7.00" height="1.00" fill="#19467a"/>
<rect x="18.60" y="156.88" width="7.00" height="1.09" fill="#318ea4"/>
<rect x="18.60" y="157.97" width="7.00" height="0.65" fill="#19467a"/>
<rect x="18.60" y="158.62" width="7.00" height="1.11" fill="#318ea4"/>
<rect x="18.60" y="159.73" width="7.00" height="0.71" fill="#19467a"/>
<rect x="18.60" y="160.44" width="7.00" height="1.20" fill="#2578a0"/>
<rect x="18.60" y="161.64" width="7.00" height="0.50" fill="#8cc4d8"/>
<rect x="18.60" y="162.14" width="7.00" height="0.96" fill="#174272"/>
<rect x="18.60" y="163.10" width="7.00" height="0.81" fill="#2a84a0"/>
<rect x="18.60" y="163.92" width="7.00" height="0.50" fill="#8cc4d8"/>
<rect x="18.60" y="164.42" width="7.00" height="1.03" fill="#1c5086"/>
<rect x="18.60" y="165.45" width="7.00" height="0.88" fill="#2270a0"/>
<rect x="18.60" y="166.32" width="7.00" height="0.85" fill="#1c5086"/>
<rect x="18.60" y="167.18" width="7.00" height="1.13" fill="#2a84a0"/>
<rect x="18.60" y="168.31" width="7.00" height="0.50" fill="#78b4cc"/>
<rect x="18.60" y="168.81" width="7.00" height="0.75" fill="#19467a"/>
<rect x="18.60" y="169.56" width="7.00" height="1.15" fill="#318ea4"/>
<rect x="18.60" y="170.72" width="7.00" height="0.66" fill="#174272"/>
<rect x="18.60" y="171.38" width="7.00" height="0.90" fill="#318ea4"/>
<rect x="18.60" y="172.29" width="7.00" height="0.99" fill="#174272"/>
<rect x="18.60" y="173.28" width="7.00" height="1.21" fill="#2a84a0"/>
<rect x="18.60" y="174.49" width="7.00" height="0.69" fill="#174272"/>
<rect x="18.60" y="175.17" width="7.00" height="1.02" fill="#2578a0"/>
<rect x="18.60" y="176.19" width="7.00" height="0.50" fill="#6aa8c4"/>
<rect x="18.60" y="176.69" width="7.00" height="0.73" fill="#174272"/>
<rect x="18.60" y="177.42" width="7.00" height="0.83" fill="#2578a0"/>
<rect x="18.60" y="178.25" width="7.00" height="0.87" fill="#1c5086"/>
<rect x="18.60" y="179.12" width="7.00" height="1.23" fill="#318ea4"/>
<rect x="18.60" y="180.35" width="7.00" height="0.50" fill="#8cc4d8"/>
<rect x="18.60" y="180.85" width="7.00" height="0.65" fill="#1c5086"/>
<rect x="25.60" y="27.00" width="1.20" height="154.50" fill="#c4e6f5"/>
<rect x="17.70" y="27.50" width="0.8" height="1.15" fill="#3a3a4a" opacity="0.51" class="a"/>
<rect x="17.70" y="30.70" width="0.8" height="0.56" fill="#3a3a4a" opacity="0.48" class="a"/>
<rect x="17.70" y="32.37" width="0.8" height="0.63" fill="#3a3a4a" opacity="0.43" class="a"/>
<rect x="17.70" y="35.62" width="0.8" height="0.90" fill="#3a3a4a" opacity="0.50" class="a"/>
<rect x="17.70" y="38.66" width="0.8" height="0.73" fill="#3a3a4a" opacity="0.30" class="a"/>
<rect x="17.70" y="41.36" width="0.8" height="1.00" fill="#3a3a4a" opacity="0.62" class="a"/>
<rect x="17.70" y="44.12" width="0.8" height="1.19" fill="#3a3a4a" opacity="0.67" class="a"/>
<rect x="17.70" y="46.64" width="0.8" height="1.00" fill="#3a3a4a" opacity="0.54" class="a"/>
<rect x="17.70" y="48.93" width="0.8" height="0.91" fill="#3a3a4a" opacity="0.58" class="a"/>
<rect x="17.70" y="52.63" width="0.8" height="1.42" fill="#3a3a4a" opacity="0.44" class="a"/>
<rect x="17.70" y="56.27" width="0.8" height="0.55" fill="#3a3a4a" opacity="0.34" class="a"/>
<rect x="17.70" y="58.75" width="0.8" height="1.38" fill="#3a3a4a" opacity="0.38" class="a"/>
<rect x="17.70" y="62.61" width="0.8" height="1.38" fill="#3a3a4a" opacity="0.46" class="a"/>
<rect x="17.70" y="66.32" width="0.8" height="1.35" fill="#3a3a4a" opacity="0.49" class="a"/>
<rect x="17.70" y="70.01" width="0.8" height="1.24" fill="#3a3a4a" opacity="0.60" class="a"/>
<rect x="17.70" y="73.93" width="0.8" height="1.40" fill="#3a3a4a" opacity="0.78" class="a"/>
<rect x="17.70" y="77.38" width="0.8" height="0.68" fill="#3a3a4a" opacity="0.43" class="a"/>
<rect x="17.70" y="79.34" width="0.8" height="1.07" fill="#3a3a4a" opacity="0.68" class="a"/>
<rect x="17.70" y="81.32" width="0.8" height="1.18" fill="#3a3a4a" opacity="0.66" class="a"/>
<rect x="17.70" y="84.07" width="0.8" height="1.02" fill="#3a3a4a" opacity="0.38" class="a"/>
<rect x="17.70" y="87.49" width="0.8" height="0.54" fill="#3a3a4a" opacity="0.79" class="a"/>
<rect x="17.70" y="90.61" width="0.8" height="1.13" fill="#3a3a4a" opacity="0.43" class="a"/>
<rect x="17.70" y="94.54" width="0.8" height="1.46" fill="#3a3a4a" opacity="0.37" class="a"/>
<rect x="17.70" y="98.51" width="0.8" height="1.34" fill="#3a3a4a" opacity="0.63" class="a"/>
<rect x="17.70" y="102.19" width="0.8" height="0.95" fill="#3a3a4a" opacity="0.76" class="a"/>
<rect x="17.70" y="106.07" width="0.8" height="0.88" fill="#3a3a4a" opacity="0.70" class="a"/>
<rect x="17.70" y="108.71" width="0.8" height="0.66" fill="#3a3a4a" opacity="0.46" class="a"/>
<rect x="17.70" y="110.45" width="0.8" height="1.41" fill="#3a3a4a" opacity="0.78" class="a"/>
<rect x="17.70" y="112.92" width="0.8" height="1.10" fill="#3a3a4a" opacity="0.50" class="a"/>
<rect x="17.70" y="115.08" width="0.8" height="0.80" fill="#3a3a4a" opacity="0.42" class="a"/>
<rect x="17.70" y="118.33" width="0.8" height="0.50" fill="#3a3a4a" opacity="0.39" class="a"/>
<rect x="17.70" y="120.60" width="0.8" height="0.52" fill="#3a3a4a" opacity="0.61" class="a"/>
<rect x="17.70" y="123.25" width="0.8" height="1.34" fill="#3a3a4a" opacity="0.40" class="a"/>
<rect x="17.70" y="126.01" width="0.8" height="1.04" fill="#3a3a4a" opacity="0.44" class="a"/>
<rect x="17.70" y="129.14" width="0.8" height="0.75" fill="#3a3a4a" opacity="0.64" class="a"/>
<rect x="17.70" y="132.43" width="0.8" height="1.31" fill="#3a3a4a" opacity="0.79" class="a"/>
<rect x="17.70" y="135.74" width="0.8" height="0.99" fill="#3a3a4a" opacity="0.73" class="a"/>
<rect x="17.70" y="139.23" width="0.8" height="1.07" fill="#3a3a4a" opacity="0.49" class="a"/>
<rect x="17.70" y="141.72" width="0.8" height="0.61" fill="#3a3a4a" opacity="0.70" class="a"/>
<rect x="17.70" y="143.39" width="0.8" height="1.25" fill="#3a3a4a" opacity="0.57" class="a"/>
<rect x="17.70" y="147.56" width="0.8" height="1.26" fill="#3a3a4a" opacity="0.79" class="a"/>
<rect x="17.70" y="149.92" width="0.8" height="1.00" fill="#3a3a4a" opacity="0.59" class="a"/>
<rect x="17.70" y="152.41" width="0.8" height="1.00" fill="#3a3a4a" opacity="0.48" class="a"/>
<rect x="17.70" y="155.37" width="0.8" height="0.50" fill="#3a3a4a" opacity="0.52" class="a"/>
<rect x="17.70" y="157.66" width="0.8" height="0.80" fill="#3a3a4a" opacity="0.50" class="a"/>
<rect x="17.70" y="160.99" width="0.8" height="1.18" fill="#3a3a4a" opacity="0.55" class="a"/>
<rect x="17.70" y="164.40" width="0.8" height="0.88" fill="#3a3a4a" opacity="0.40" class="a"/>
<rect x="17.70" y="166.08" width="0.8" height="0.78" fill="#3a3a4a" opacity="0.60" class="a"/>
<rect x="17.70" y="169.60" width="0.8" height="1.33" fill="#3a3a4a" opacity="0.56" class="a"/>
<rect x="17.70" y="173.90" width="0.8" height="0.96" fill="#3a3a4a" opacity="0.72" class="a"/>
<rect x="17.70" y="176.56" width="0.8" height="1.24" fill="#3a3a4a" opacity="0.79" class="a"/>
<rect x="17.70" y="179.28" width="0.8" height="0.67" fill="#3a3a4a" opacity="0.61" class="a"/>
<rect x="156.60" y="27.30" width="108.00" height="156.70" fill="#2f55ab"/>
<rect x="156.60" y="31.70" width="12.00" height="3.30" fill="#f05a40"/>
<rect x="156.60" y="35.00" width="12.00" height="3.50" fill="#f7bcae"/>
<rect x="156.60" y="38.50" width="12.00" height="2.50" fill="#f05a40"/>
<rect x="156.60" y="41.00" width="12.00" height="2.80" fill="#f7bcae"/>
<rect x="156.60" y="45.90" width="12.00" height="10.10" fill="#f48a70"/>
<rect x="156.60" y="56.00" width="12.00" height="2.00" fill="#f8d8d0"/>
<rect x="156.60" y="58.00" width="12.00" height="2.70" fill="#f48a70"/>
<rect x="156.60" y="64.70" width="12.00" height="6.10" fill="#c5bfe4"/>
<rect x="156.60" y="66.00" width="12.00" height="3.00" fill="#f8d8d0"/>
<rect x="156.60" y="70.80" width="12.00" height="0.90" fill="#f0573d"/>
<rect x="156.60" y="71.70" width="12.00" height="2.00" fill="#ef4e34"/>
<rect x="156.60" y="73.70" width="12.00" height="1.10" fill="#f26147"/>
<rect x="156.60" y="74.80" width="12.00" height="2.00" fill="#ef4e34"/>
<rect x="156.60" y="76.80" width="12.00" height="1.20" fill="#f3654b"/>
<rect x="156.60" y="78.00" width="12.00" height="0.90" fill="#f47058"/>
<rect x="156.60" y="78.90" width="12.00" height="2.00" fill="#f1593f"/>
<rect x="156.60" y="80.90" width="12.00" height="1.60" fill="#f47962"/>
<rect x="156.60" y="82.50" width="12.00" height="1.30" fill="#f15b41"/>
<rect x="156.60" y="83.80" width="12.00" height="0.90" fill="#f7a492"/>
<rect x="156.60" y="84.70" width="12.00" height="0.90" fill="#f5816b"/>
<rect x="156.60" y="85.60" width="12.00" height="0.70" fill="#f5806a"/>
<rect x="156.60" y="86.30" width="12.00" height="4.00" fill="#f7bcae"/>
<rect x="156.60" y="90.30" width="12.00" height="2.70" fill="#c5bfe4"/>
<rect x="156.60" y="102.40" width="12.00" height="2.10" fill="#c5bfe4"/>
<rect x="156.60" y="108.50" width="12.00" height="1.30" fill="#c5bfe4"/>
<rect x="156.60" y="112.50" width="12.00" height="3.50" fill="#f48a70"/>
<rect x="156.60" y="116.00" width="12.00" height="4.00" fill="#f7bcae"/>
<rect x="156.60" y="120.00" width="12.00" height="6.70" fill="#c5bfe4"/>
<rect x="156.60" y="127.40" width="12.00" height="2.60" fill="#f48a70"/>
<rect x="156.60" y="130.00" width="12.00" height="7.50" fill="#f7bcae"/>
<rect x="156.60" y="137.50" width="12.00" height="2.50" fill="#ec4a30"/>
<rect x="156.60" y="140.00" width="12.00" height="8.00" fill="#f7bcae"/>
<rect x="156.60" y="165.70" width="12.00" height="8.80" fill="#c5bfe4"/>
<rect x="168.60" y="45.90" width="12.00" height="2.00" fill="#f46e55"/>
<rect x="180.60" y="45.90" width="12.00" height="2.00" fill="#f46d54"/>
<rect x="168.60" y="47.90" width="12.00" height="1.10" fill="#ee4a30"/>
<rect x="180.60" y="47.90" width="12.00" height="1.10" fill="#ee4c32"/>
<rect x="168.60" y="49.00" width="12.00" height="1.10" fill="#f15b41"/>
<rect x="180.60" y="49.00" width="12.00" height="1.10" fill="#f25f45"/>
<rect x="168.60" y="50.10" width="12.00" height="1.10" fill="#f5826b"/>
<rect x="180.60" y="50.10" width="12.00" height="1.10" fill="#f4775f"/>
<rect x="168.60" y="51.20" width="12.00" height="1.60" fill="#ef4d33"/>
<rect x="180.60" y="51.20" width="12.00" height="1.60" fill="#ee4c32"/>
<rect x="168.60" y="52.80" width="12.00" height="1.10" fill="#ef4f35"/>
<rect x="180.60" y="52.80" width="12.00" height="1.10" fill="#ef5036"/>
<rect x="168.60" y="53.90" width="12.00" height="1.60" fill="#ef5036"/>
<rect x="180.60" y="53.90" width="12.00" height="1.60" fill="#ef5036"/>
<rect x="168.60" y="55.50" width="12.00" height="2.00" fill="#ee4a30"/>
<rect x="180.60" y="55.50" width="12.00" height="2.00" fill="#ee4b31"/>
<rect x="168.60" y="57.50" width="12.00" height="1.60" fill="#f0573d"/>
<rect x="180.60" y="57.50" width="12.00" height="1.60" fill="#f0553b"/>
<rect x="168.60" y="59.10" width="12.00" height="0.90" fill="#f0563c"/>
<rect x="180.60" y="59.10" width="12.00" height="0.90" fill="#f15a40"/>
<rect x="168.60" y="60.00" width="12.00" height="1.30" fill="#f0563c"/>
<rect x="180.60" y="60.00" width="12.00" height="1.30" fill="#f0573d"/>
<rect x="168.60" y="61.30" width="12.00" height="1.10" fill="#f58069"/>
<rect x="180.60" y="61.30" width="12.00" height="1.10" fill="#f46e55"/>
<rect x="168.60" y="62.40" width="12.00" height="1.60" fill="#f0553b"/>
<rect x="180.60" y="62.40" width="12.00" height="1.60" fill="#f1583e"/>
<rect x="168.60" y="64.00" width="12.00" height="1.30" fill="#f15c42"/>
<rect x="180.60" y="64.00" width="12.00" height="1.30" fill="#f26248"/>
<rect x="168.60" y="65.30" width="12.00" height="0.70" fill="#f0543a"/>
<rect x="180.60" y="65.30" width="12.00" height="0.70" fill="#f1593f"/>
<rect x="168.60" y="66.00" width="24.00" height="2.00" fill="#c5bfe4"/>
<rect x="168.60" y="68.00" width="12.00" height="1.30" fill="#f0553b"/>
<rect x="180.60" y="68.00" width="12.00" height="1.30" fill="#f15e44"/>
<rect x="168.60" y="69.30" width="12.00" height="0.90" fill="#f26046"/>
<rect x="180.60" y="69.30" width="12.00" height="0.90" fill="#f46e56"/>
<rect x="168.60" y="70.20" width="12.00" height="0.60" fill="#f57f69"/>
<rect x="180.60" y="70.20" width="12.00" height="0.60" fill="#f5846e"/>
<rect x="168.60" y="70.80" width="24.00" height="2.00" fill="#c5bfe4"/>
<rect x="168.60" y="72.80" width="12.00" height="1.30" fill="#f26147"/>
<rect x="180.60" y="72.80" width="12.00" height="1.30" fill="#f47158"/>
<rect x="168.60" y="74.10" width="12.00" height="1.30" fill="#f57e67"/>
<rect x="180.60" y="74.10" width="12.00" height="1.30" fill="#f68d79"/>
<rect x="168.60" y="75.40" width="12.00" height="1.30" fill="#ef5137"/>
<rect x="180.60" y="75.40" width="12.00" height="1.30" fill="#ef5036"/>
<rect x="168.60" y="76.70" width="12.00" height="2.00" fill="#f3654b"/>
<rect x="180.60" y="76.70" width="12.00" height="2.00" fill="#f3654b"/>
<rect x="168.60" y="78.70" width="12.00" height="1.30" fill="#f0563c"/>
<rect x="180.60" y="78.70" width="12.00" height="1.30" fill="#ef5238"/>
<rect x="168.60" y="80.00" width="12.00" height="1.30" fill="#ee4b31"/>
<rect x="180.60" y="80.00" width="12.00" height="1.30" fill="#ee4a30"/>
<rect x="168.60" y="81.30" width="12.00" height="2.00" fill="#f15b41"/>
<rect x="180.60" y="81.30" width="12.00" height="2.00" fill="#ef5238"/>
<rect x="168.60" y="83.30" width="12.00" height="0.90" fill="#f1593f"/>
<rect x="180.60" y="83.30" width="12.00" height="0.90" fill="#f0583e"/>
<rect x="168.60" y="84.20" width="12.00" height="1.10" fill="#ef4f35"/>
<rect x="180.60" y="84.20" width="12.00" height="1.10" fill="#ef4e34"/>
<rect x="168.60" y="85.30" width="12.00" height="1.30" fill="#f4745c"/>
<rect x="180.60" y="85.30" width="12.00" height="1.30" fill="#f36349"/>
<rect x="168.60" y="86.60" width="12.00" height="0.90" fill="#f0573d"/>
<rect x="180.60" y="86.60" width="12.00" height="0.90" fill="#ef5036"/>
<rect x="168.60" y="87.50" width="12.00" height="0.90" fill="#ef4f35"/>
<rect x="180.60" y="87.50" width="12.00" height="0.90" fill="#f0583e"/>
<rect x="168.60" y="88.40" width="12.00" height="0.60" fill="#f3674d"/>
<rect x="180.60" y="88.40" width="12.00" height="0.60" fill="#f3674d"/>
<rect x="168.60" y="89.00" width="24.00" height="2.00" fill="#f7bcae"/>
<rect x="168.60" y="91.00" width="12.00" height="1.30" fill="#f15c42"/>
<rect x="180.60" y="91.00" width="12.00" height="1.30" fill="#f26248"/>
<rect x="168.60" y="92.30" width="12.00" height="1.10" fill="#ef4e34"/>
<rect x="180.60" y="92.30" width="12.00" height="1.10" fill="#f05339"/>
<rect x="168.60" y="93.40" width="12.00" height="1.30" fill="#f0573d"/>
<rect x="180.60" y="93.40" width="12.00" height="1.30" fill="#ef5137"/>
<rect x="168.60" y="94.70" width="12.00" height="0.90" fill="#ee4a30"/>
<rect x="180.60" y="94.70" width="12.00" height="0.90" fill="#ee4b31"/>
<rect x="168.60" y="95.60" width="12.00" height="0.40" fill="#f26349"/>
<rect x="180.60" y="95.60" width="12.00" height="0.40" fill="#f47159"/>
<rect x="168.60" y="96.00" width="12.00" height="1.60" fill="#f26349"/>
<rect x="180.60" y="96.00" width="12.00" height="1.60" fill="#f26147"/>
<rect x="168.60" y="97.60" width="12.00" height="1.60" fill="#f6907c"/>
<rect x="180.60" y="97.60" width="12.00" height="1.60" fill="#f7a594"/>
<rect x="168.60" y="99.20" width="12.00" height="1.30" fill="#f3664c"/>
<rect x="180.60" y="99.20" width="12.00" height="1.30" fill="#f36d54"/>
<rect x="168.60" y="100.50" width="12.00" height="0.50" fill="#f3654b"/>
<rect x="180.60" y="100.50" width="12.00" height="0.50" fill="#f47a63"/>
<rect x="168.60" y="112.50" width="24.00" height="3.50" fill="#c5bfe4"/>
<rect x="168.60" y="116.00" width="24.00" height="4.00" fill="#f7bcae"/>
<rect x="168.60" y="120.00" width="24.00" height="6.70" fill="#c5bfe4"/>
<rect x="168.60" y="157.00" width="24.00" height="6.70" fill="#c5bfe4"/>
<rect x="168.60" y="169.00" width="24.00" height="2.00" fill="#c5bfe4"/>
<rect x="168.60" y="177.00" width="24.00" height="5.00" fill="#c5bfe4"/>
<rect x="168.60" y="138.80" width="12.00" height="4.00" fill="#c5bfe4"/>
<rect x="168.60" y="153.60" width="12.00" height="3.40" fill="#c5bfe4"/>
<rect x="180.60" y="33.20" width="12.00" height="1.00" fill="#c5bfe4"/>
<rect x="180.60" y="130.70" width="12.00" height="2.70" fill="#c5bfe4"/>
<rect x="180.60" y="148.00" width="12.00" height="3.00" fill="#c5bfe4"/>
<rect x="180.60" y="153.60" width="12.00" height="3.40" fill="#c5bfe4"/>
<rect x="192.60" y="27.30" width="12.00" height="2.00" fill="#f25e44"/>
<rect x="192.60" y="29.30" width="12.00" height="1.10" fill="#f0573d"/>
<rect x="192.60" y="30.40" width="12.00" height="0.90" fill="#f3654b"/>
<rect x="192.60" y="31.30" width="12.00" height="1.30" fill="#f05339"/>
<rect x="192.60" y="32.60" width="12.00" height="1.10" fill="#f0543a"/>
<rect x="192.60" y="33.70" width="12.00" height="1.60" fill="#f26248"/>
<rect x="192.60" y="35.30" width="12.00" height="0.90" fill="#f0563c"/>
<rect x="192.60" y="36.20" width="12.00" height="0.90" fill="#f0553b"/>
<rect x="192.60" y="37.10" width="12.00" height="0.70" fill="#ee4b31"/>
<rect x="192.60" y="37.80" width="12.00" height="6.70" fill="#c5bfe4"/>
<rect x="192.60" y="39.00" width="12.00" height="3.00" fill="#f3ecf0"/>
<rect x="192.60" y="45.00" width="12.00" height="7.00" fill="#f48a70"/>
<rect x="192.60" y="52.00" width="12.00" height="6.60" fill="#f7bcae"/>
<rect x="192.60" y="58.60" width="12.00" height="7.40" fill="#f8d8d0"/>
<rect x="192.60" y="66.00" width="12.00" height="5.50" fill="#f7bcae"/>
<rect x="192.60" y="71.50" width="12.00" height="2.50" fill="#c5bfe4"/>
<rect x="192.60" y="101.80" width="12.00" height="4.00" fill="#f7bcae"/>
<rect x="192.60" y="126.70" width="12.00" height="10.80" fill="#c5bfe4"/>
<rect x="192.60" y="128.00" width="12.00" height="5.00" fill="#f7bcae"/>
<rect x="192.60" y="147.50" width="12.00" height="3.50" fill="#f48a70"/>
<rect x="192.60" y="151.00" width="12.00" height="5.00" fill="#f7bcae"/>
<rect x="192.60" y="177.00" width="12.00" height="6.00" fill="#c5bfe4"/>
<rect x="204.60" y="27.30" width="12.00" height="1.30" fill="#f15c42"/>
<rect x="204.60" y="28.60" width="12.00" height="0.90" fill="#f47962"/>
<rect x="204.60" y="29.50" width="12.00" height="2.00" fill="#f25e44"/>
<rect x="204.60" y="31.50" width="12.00" height="1.10" fill="#f5846e"/>
<rect x="204.60" y="32.60" width="12.00" height="2.00" fill="#f15d43"/>
<rect x="204.60" y="34.60" width="12.00" height="1.30" fill="#f26147"/>
<rect x="204.60" y="35.90" width="12.00" height="1.10" fill="#f46e55"/>
<rect x="204.60" y="37.00" width="12.00" height="2.00" fill="#f0553b"/>
<rect x="204.60" y="39.00" width="12.00" height="1.60" fill="#f26248"/>
<rect x="204.60" y="40.60" width="12.00" height="1.60" fill="#f4735b"/>
<rect x="204.60" y="42.20" width="12.00" height="0.90" fill="#f3644a"/>
<rect x="204.60" y="43.10" width="12.00" height="1.30" fill="#f25e44"/>
<rect x="204.60" y="44.40" width="12.00" height="0.60" fill="#f36b51"/>
<rect x="204.60" y="45.00" width="12.00" height="5.00" fill="#c5bfe4"/>
<rect x="204.60" y="50.00" width="12.00" height="3.00" fill="#9a9bd4"/>
<rect x="204.60" y="53.00" width="12.00" height="5.00" fill="#c5bfe4"/>
<rect x="204.60" y="58.00" width="12.00" height="4.00" fill="#9a9bd4"/>
<rect x="204.60" y="62.00" width="12.00" height="6.00" fill="#c5bfe4"/>
<rect x="204.60" y="68.00" width="12.00" height="4.00" fill="#9a9bd4"/>
<rect x="204.60" y="72.00" width="12.00" height="3.50" fill="#c5bfe4"/>
<rect x="204.60" y="101.00" width="12.00" height="4.80" fill="#f7bcae"/>
<rect x="204.60" y="105.80" width="12.00" height="5.20" fill="#c5bfe4"/>
<rect x="204.60" y="126.70" width="12.00" height="10.80" fill="#c5bfe4"/>
<rect x="204.60" y="148.00" width="12.00" height="3.00" fill="#c5bfe4"/>
<rect x="216.60" y="27.30" width="12.00" height="1.60" fill="#f15a40"/>
<rect x="228.60" y="27.30" width="12.00" height="1.60" fill="#f1593f"/>
<rect x="240.60" y="27.30" width="12.00" height="1.60" fill="#f15a40"/>
<rect x="252.60" y="27.30" width="12.00" height="1.60" fill="#f15e44"/>
<rect x="216.60" y="28.90" width="12.00" height="0.90" fill="#f47a63"/>
<rect x="228.60" y="28.90" width="12.00" height="0.90" fill="#f57e68"/>
<rect x="240.60" y="28.90" width="12.00" height="0.90" fill="#f4775f"/>
<rect x="252.60" y="28.90" width="12.00" height="0.90" fill="#f57d66"/>
<rect x="216.60" y="29.80" width="12.00" height="1.30" fill="#f47158"/>
<rect x="228.60" y="29.80" width="12.00" height="1.30" fill="#f3674e"/>
<rect x="240.60" y="29.80" width="12.00" height="1.30" fill="#f3674d"/>
<rect x="252.60" y="29.80" width="12.00" height="1.30" fill="#f3654b"/>
<rect x="216.60" y="31.10" width="12.00" height="1.10" fill="#ef4e34"/>
<rect x="228.60" y="31.10" width="12.00" height="1.10" fill="#f0543a"/>
<rect x="240.60" y="31.10" width="12.00" height="1.10" fill="#f05339"/>
<rect x="252.60" y="31.10" width="12.00" height="1.10" fill="#ef5238"/>
<rect x="216.60" y="32.20" width="12.00" height="1.10" fill="#f0563c"/>
<rect x="228.60" y="32.20" width="12.00" height="1.10" fill="#f15a40"/>
<rect x="240.60" y="32.20" width="12.00" height="1.10" fill="#ef5137"/>
<rect x="252.60" y="32.20" width="12.00" height="1.10" fill="#f0563c"/>
<rect x="216.60" y="33.30" width="12.00" height="2.00" fill="#f25e44"/>
<rect x="228.60" y="33.30" width="12.00" height="2.00" fill="#f15c42"/>
<rect x="240.60" y="33.30" width="12.00" height="2.00" fill="#f0553b"/>
<rect x="252.60" y="33.30" width="12.00" height="2.00" fill="#f0573d"/>
<rect x="216.60" y="35.30" width="12.00" height="1.10" fill="#ee4a30"/>
<rect x="228.60" y="35.30" width="12.00" height="1.10" fill="#ee4a30"/>
<rect x="240.60" y="35.30" width="12.00" height="1.10" fill="#ee4a30"/>
<rect x="252.60" y="35.30" width="12.00" height="1.10" fill="#ef4d33"/>
<rect x="216.60" y="36.40" width="12.00" height="1.60" fill="#f3684e"/>
<rect x="228.60" y="36.40" width="12.00" height="1.60" fill="#f3674d"/>
<rect x="240.60" y="36.40" width="12.00" height="1.60" fill="#f46e55"/>
<rect x="252.60" y="36.40" width="12.00" height="1.60" fill="#f47b63"/>
<rect x="216.60" y="38.00" width="12.00" height="1.60" fill="#f3664c"/>
<rect x="228.60" y="38.00" width="12.00" height="1.60" fill="#f4735b"/>
<rect x="240.60" y="38.00" width="12.00" height="1.60" fill="#f46f56"/>
<rect x="252.60" y="38.00" width="12.00" height="1.60" fill="#f47962"/>
<rect x="216.60" y="39.60" width="12.00" height="1.60" fill="#f0573d"/>
<rect x="228.60" y="39.60" width="12.00" height="1.60" fill="#f1593f"/>
<rect x="240.60" y="39.60" width="12.00" height="1.60" fill="#f1593f"/>
<rect x="252.60" y="39.60" width="12.00" height="1.60" fill="#f05339"/>
<rect x="216.60" y="41.20" width="12.00" height="1.60" fill="#f47760"/>
<rect x="228.60" y="41.20" width="12.00" height="1.60" fill="#f26349"/>
<rect x="240.60" y="41.20" width="12.00" height="1.60" fill="#f4765e"/>
<rect x="252.60" y="41.20" width="12.00" height="1.60" fill="#f3664c"/>
<rect x="216.60" y="42.80" width="12.00" height="1.60" fill="#f0573d"/>
<rect x="228.60" y="42.80" width="12.00" height="1.60" fill="#f0543a"/>
<rect x="240.60" y="42.80" width="12.00" height="1.60" fill="#f15d43"/>
<rect x="252.60" y="42.80" width="12.00" height="1.60" fill="#f0553b"/>
<rect x="216.60" y="44.40" width="12.00" height="0.80" fill="#f3644a"/>
<rect x="228.60" y="44.40" width="12.00" height="0.80" fill="#f3654b"/>
<rect x="240.60" y="44.40" width="12.00" height="0.80" fill="#f25f45"/>
<rect x="252.60" y="44.40" width="12.00" height="0.80" fill="#f3684f"/>
<rect x="216.60" y="101.00" width="48.00" height="5.00" fill="#f7bcae"/>
<rect x="216.60" y="106.00" width="48.00" height="5.20" fill="#c5bfe4"/>
<rect x="204.60" y="73.70" width="48.00" height="1.00" fill="#c5bfe4"/>
<rect x="228.60" y="114.72" width="24.00" height="0.78" fill="#6078be" class="a"/>
<rect x="252.60" y="118.79" width="12.00" height="0.67" fill="#4e6bb7" class="a"/>
<rect x="252.60" y="138.25" width="12.00" height="0.84" fill="#5671ba" class="a"/>
<rect x="252.60" y="169.83" width="12.00" height="0.70" fill="#526eb8" class="a"/>
<rect x="252.60" y="146.97" width="12.00" height="0.61" fill="#808eca" class="a"/>
<rect x="216.60" y="124.82" width="12.00" height="0.57" fill="#6b80c2" class="a"/>
<rect x="228.60" y="116.33" width="24.00" height="0.53" fill="#5b74bc" class="a"/>
<rect x="216.60" y="155.96" width="12.00" height="0.68" fill="#798ac7" class="a"/>
<rect x="240.60" y="157.62" width="24.00" height="0.78" fill="#697ec1" class="a"/>
<rect x="216.60" y="123.76" width="24.00" height="0.74" fill="#506cb7" class="a"/>
<rect x="228.60" y="137.95" width="36.00" height="0.89" fill="#6d81c2" class="a"/>
<rect x="216.60" y="150.91" width="24.00" height="0.81" fill="#677dc0" class="a"/>
<rect x="252.60" y="179.34" width="12.00" height="0.67" fill="#667cc0" class="a"/>
<rect x="240.60" y="166.54" width="12.00" height="0.85" fill="#6f82c3" class="a"/>
<rect x="240.60" y="163.54" width="12.00" height="0.67" fill="#7184c4" class="a"/>
<rect x="228.60" y="153.39" width="12.00" height="0.82" fill="#536eb9" class="a"/>
<rect x="216.60" y="67.65" width="12.00" height="0.62" fill="#6178be" class="a"/>
<rect x="216.60" y="57.91" width="12.00" height="0.71" fill="#5570ba" class="a"/>
<rect x="252.60" y="98.44" width="12.00" height="0.78" fill="#6279be" class="a"/>
<rect x="216.60" y="63.28" width="24.00" height="0.75" fill="#7989c7" class="a"/>
<rect x="216.60" y="51.94" width="36.00" height="0.88" fill="#526eb8" class="a"/>
<rect x="240.60" y="51.71" width="12.00" height="0.54" fill="#5f77bd" class="a"/>
<rect x="228.60" y="71.23" width="12.00" height="0.80" fill="#546fb9" class="a"/>
<rect x="216.60" y="87.16" width="48.00" height="0.77" fill="#7f8eca" class="a"/>
<rect x="216.60" y="156.60" width="15.00" height="0.80" fill="#8890d0" class="a"/>
<rect x="266.20" y="27.30" width="6.10" height="2.70" fill="#9a9bd4"/>
<rect x="266.20" y="30.00" width="6.10" height="2.00" fill="#2f55ab"/>
<rect x="266.20" y="32.00" width="6.10" height="2.00" fill="#c5bfe4"/>
<rect x="266.20" y="34.00" width="6.10" height="2.00" fill="#9a9bd4"/>
<rect x="266.20" y="36.00" width="6.10" height="2.00" fill="#2f55ab"/>
<rect x="266.20" y="38.00" width="6.10" height="2.00" fill="#f7bcae"/>
<rect x="266.20" y="40.00" width="6.10" height="2.00" fill="#9a9bd4"/>
<rect x="266.20" y="42.00" width="6.10" height="3.20" fill="#2f55ab"/>
<rect x="266.20" y="45.20" width="6.10" height="2.80" fill="#c5bfe4"/>
<rect x="266.20" y="48.00" width="6.10" height="2.00" fill="#9a9bd4"/>
<rect x="266.20" y="50.00" width="6.10" height="4.00" fill="#c5bfe4"/>
<rect x="266.20" y="54.00" width="6.10" height="2.00" fill="#9a9bd4"/>
<rect x="266.20" y="56.00" width="6.10" height="4.00" fill="#c5bfe4"/>
<rect x="266.20" y="60.00" width="6.10" height="2.00" fill="#9a9bd4"/>
<rect x="266.20" y="62.00" width="6.10" height="4.00" fill="#c5bfe4"/>
<rect x="266.20" y="66.00" width="6.10" height="2.00" fill="#9a9bd4"/>
<rect x="266.20" y="68.00" width="6.10" height="4.00" fill="#c5bfe4"/>
<rect x="266.20" y="72.00" width="6.10" height="2.00" fill="#9a9bd4"/>
<rect x="266.20" y="74.00" width="6.10" height="4.00" fill="#c5bfe4"/>
<rect x="266.20" y="78.00" width="6.10" height="3.00" fill="#9a9bd4"/>
<rect x="266.20" y="81.00" width="6.10" height="103.00" fill="#2f55ab"/>
<rect x="266.20" y="101.00" width="6.10" height="3.00" fill="#c5bfe4"/>
<rect x="266.20" y="104.00" width="6.10" height="4.00" fill="#f3ecf0"/>
<rect x="266.20" y="108.00" width="6.10" height="2.50" fill="#c5bfe4"/>
<rect x="266.20" y="126.00" width="6.10" height="1.00" fill="#c5bfe4"/>
<rect x="266.20" y="130.00" width="6.10" height="1.00" fill="#c5bfe4"/>
<rect x="266.20" y="27.30" width="6.10" height="0.82" fill="#2f55ab"/>
<rect x="266.20" y="28.12" width="6.10" height="1.35" fill="#7e7fc8"/>
<rect x="266.20" y="29.47" width="6.10" height="0.99" fill="#2f55ab"/>
<rect x="266.20" y="30.46" width="6.10" height="1.12" fill="#aba6dc"/>
<rect x="266.20" y="31.59" width="6.10" height="1.01" fill="#7e7fc8"/>
<rect x="266.20" y="32.59" width="6.10" height="1.73" fill="#2f55ab"/>
<rect x="266.20" y="34.32" width="6.10" height="1.55" fill="#7e7fc8"/>
<rect x="266.20" y="35.87" width="6.10" height="1.38" fill="#aba6dc"/>
<rect x="266.20" y="37.25" width="6.10" height="0.93" fill="#2f55ab"/>
<rect x="266.20" y="38.18" width="6.10" height="2.12" fill="#7e7fc8"/>
<rect x="266.20" y="40.29" width="6.10" height="1.08" fill="#2f55ab"/>
<rect x="266.20" y="41.37" width="6.10" height="1.31" fill="#aba6dc"/>
<rect x="266.20" y="42.68" width="6.10" height="1.09" fill="#2f55ab"/>
<rect x="266.20" y="43.78" width="6.10" height="1.42" fill="#7e7fc8"/>
<rect x="266.20" y="45.20" width="6.10" height="0.91" fill="#aba6dc"/>
<rect x="266.20" y="46.11" width="6.10" height="1.22" fill="#e4e0f0"/>
<rect x="266.20" y="47.33" width="6.10" height="1.49" fill="#7e7fc8"/>
<rect x="266.20" y="48.83" width="6.10" height="0.94" fill="#7e7fc8"/>
<rect x="266.20" y="49.77" width="6.10" height="1.98" fill="#7e7fc8"/>
<rect x="266.20" y="51.75" width="6.10" height="2.12" fill="#2f55ab"/>
<rect x="266.20" y="53.87" width="6.10" height="1.32" fill="#aba6dc"/>
<rect x="266.20" y="55.19" width="6.10" height="1.86" fill="#aba6dc"/>
<rect x="266.20" y="57.05" width="6.10" height="0.81" fill="#7e7fc8"/>
<rect x="266.20" y="57.86" width="6.10" height="1.98" fill="#2f55ab"/>
<rect x="266.20" y="59.84" width="6.10" height="2.13" fill="#aba6dc"/>
<rect x="266.20" y="61.98" width="6.10" height="0.91" fill="#aba6dc"/>
<rect x="266.20" y="62.89" width="6.10" height="2.17" fill="#aba6dc"/>
<rect x="266.20" y="65.06" width="6.10" height="1.02" fill="#aba6dc"/>
<rect x="266.20" y="66.08" width="6.10" height="0.87" fill="#aba6dc"/>
<rect x="266.20" y="66.95" width="6.10" height="1.29" fill="#aba6dc"/>
<rect x="266.20" y="68.25" width="6.10" height="1.23" fill="#e4e0f0"/>
<rect x="266.20" y="69.48" width="6.10" height="1.03" fill="#2f55ab"/>
<rect x="266.20" y="70.51" width="6.10" height="1.83" fill="#7e7fc8"/>
<rect x="266.20" y="72.35" width="6.10" height="1.61" fill="#7e7fc8"/>
<rect x="266.20" y="73.95" width="6.10" height="1.62" fill="#aba6dc"/>
<rect x="266.20" y="75.57" width="6.10" height="1.26" fill="#aba6dc"/>
<rect x="266.20" y="76.84" width="6.10" height="1.36" fill="#e4e0f0"/>
<rect x="266.20" y="78.20" width="6.10" height="1.40" fill="#aba6dc"/>
<rect x="266.20" y="79.59" width="6.10" height="1.47" fill="#2f55ab"/>
<rect x="266.20" y="81.06" width="6.10" height="1.42" fill="#7e7fc8"/>
<rect x="266.20" y="82.49" width="6.10" height="0.93" fill="#aba6dc"/>
<rect x="266.20" y="83.41" width="6.10" height="0.59" fill="#aba6dc"/>
<rect x="266.20" y="84.00" width="6.10" height="1.60" fill="#2f55ab"/>
<rect x="266.20" y="85.60" width="6.10" height="1.94" fill="#2f55ab"/>
<rect x="266.20" y="87.54" width="6.10" height="1.71" fill="#aba6dc"/>
<rect x="266.20" y="89.25" width="6.10" height="2.07" fill="#2f55ab"/>
<rect x="266.20" y="91.33" width="6.10" height="1.71" fill="#2f55ab"/>
<rect x="266.20" y="93.04" width="6.10" height="1.50" fill="#aba6dc"/>
<rect x="266.20" y="94.54" width="6.10" height="1.54" fill="#2f55ab"/>
<rect x="266.20" y="96.08" width="6.10" height="2.12" fill="#2f55ab"/>
<rect x="266.20" y="98.20" width="6.10" height="1.22" fill="#2f55ab"/>
<rect x="266.20" y="99.43" width="6.10" height="0.57" fill="#2f55ab"/>
<rect x="266.20" y="112.00" width="6.10" height="1.54" fill="#2f55ab"/>
<rect x="266.20" y="113.54" width="6.10" height="1.98" fill="#aba6dc"/>
<rect x="266.20" y="115.52" width="6.10" height="2.04" fill="#2f55ab"/>
<rect x="266.20" y="117.56" width="6.10" height="2.13" fill="#2f55ab"/>
<rect x="266.20" y="119.68" width="6.10" height="1.23" fill="#2f55ab"/>
<rect x="266.20" y="120.91" width="6.10" height="1.52" fill="#2f55ab"/>
<rect x="266.20" y="122.43" width="6.10" height="1.18" fill="#2f55ab"/>
<rect x="266.20" y="123.61" width="6.10" height="1.89" fill="#2f55ab"/>
<rect x="266.20" y="125.50" width="6.10" height="0.92" fill="#2f55ab"/>
<rect x="266.20" y="126.42" width="6.10" height="1.16" fill="#2f55ab"/>
<rect x="266.20" y="127.58" width="6.10" height="1.97" fill="#2f55ab"/>
<rect x="266.20" y="129.55" width="6.10" height="2.11" fill="#2f55ab"/>
<rect x="266.20" y="131.66" width="6.10" height="1.69" fill="#2f55ab"/>
<rect x="266.20" y="133.35" width="6.10" height="1.24" fill="#2f55ab"/>
<rect x="266.20" y="134.59" width="6.10" height="1.55" fill="#2f55ab"/>
<rect x="266.20" y="136.14" width="6.10" height="1.60" fill="#2f55ab"/>
<rect x="266.20" y="137.74" width="6.10" height="1.39" fill="#2f55ab"/>
<rect x="266.20" y="139.14" width="6.10" height="1.94" fill="#2f55ab"/>
<rect x="266.20" y="141.08" width="6.10" height="1.85" fill="#2f55ab"/>
<rect x="266.20" y="142.93" width="6.10" height="1.19" fill="#2f55ab"/>
<rect x="266.20" y="144.12" width="6.10" height="1.20" fill="#aba6dc"/>
<rect x="266.20" y="145.32" width="6.10" height="1.91" fill="#2f55ab"/>
<rect x="266.20" y="147.22" width="6.10" height="1.89" fill="#2f55ab"/>
<rect x="266.20" y="149.11" width="6.10" height="2.01" fill="#2f55ab"/>
<rect x="266.20" y="151.12" width="6.10" height="1.84" fill="#aba6dc"/>
<rect x="266.20" y="152.96" width="6.10" height="1.39" fill="#2f55ab"/>
<rect x="266.20" y="154.35" width="6.10" height="0.98" fill="#2f55ab"/>
<rect x="266.20" y="155.33" width="6.10" height="1.13" fill="#2f55ab"/>
<rect x="266.20" y="156.46" width="6.10" height="0.90" fill="#2f55ab"/>
<rect x="266.20" y="157.35" width="6.10" height="0.95" fill="#2f55ab"/>
<rect x="266.20" y="158.30" width="6.10" height="1.37" fill="#2f55ab"/>
<rect x="266.20" y="159.67" width="6.10" height="2.12" fill="#2f55ab"/>
<rect x="266.20" y="161.79" width="6.10" height="1.54" fill="#aba6dc"/>
<rect x="266.20" y="163.33" width="6.10" height="1.86" fill="#aba6dc"/>
<rect x="266.20" y="165.20" width="6.10" height="1.65" fill="#2f55ab"/>
<rect x="266.20" y="166.85" width="6.10" height="0.89" fill="#2f55ab"/>
<rect x="266.20" y="167.74" width="6.10" height="1.27" fill="#2f55ab"/>
<rect x="266.20" y="169.01" width="6.10" height="1.88" fill="#2f55ab"/>
<rect x="266.20" y="170.89" width="6.10" height="1.28" fill="#2f55ab"/>
<rect x="266.20" y="172.17" width="6.10" height="1.19" fill="#aba6dc"/>
<rect x="266.20" y="173.36" width="6.10" height="1.66" fill="#2f55ab"/>
<rect x="266.20" y="175.02" width="6.10" height="1.55" fill="#2f55ab"/>
<rect x="266.20" y="176.56" width="6.10" height="1.18" fill="#2f55ab"/>
<rect x="266.20" y="177.74" width="6.10" height="2.16" fill="#2f55ab"/>
<rect x="266.20" y="179.90" width="6.10" height="1.57" fill="#2f55ab"/>
<rect x="266.20" y="181.47" width="6.10" height="1.15" fill="#2f55ab"/>
<rect x="266.20" y="182.62" width="6.10" height="1.38" fill="#2f55ab"/>
<rect x="272.30" y="27.30" width="6.10" height="17.90" fill="#f8d8d0"/>
<rect x="272.30" y="30.00" width="6.10" height="1.00" fill="#f7bcae"/>
<rect x="272.30" y="36.00" width="6.10" height="1.00" fill="#f7bcae"/>
<rect x="272.30" y="41.00" width="6.10" height="1.00" fill="#f7bcae"/>
<rect x="272.30" y="45.20" width="6.10" height="55.80" fill="#2f55ab"/>
<rect x="272.30" y="73.70" width="6.10" height="1.00" fill="#c5bfe4"/>
<rect x="272.30" y="101.00" width="6.10" height="11.00" fill="#f3ecf0"/>
<rect x="272.30" y="112.00" width="6.10" height="72.00" fill="#2f55ab"/>
<rect x="149.20" y="27.30" width="6.20" height="156.70" fill="#1f5e8c"/>
<rect x="149.20" y="27.30" width="6.20" height="0.97" fill="#19467a"/>
<rect x="149.20" y="28.27" width="6.20" height="1.13" fill="#25836a"/>
<rect x="149.20" y="29.40" width="6.20" height="0.50" fill="#6aa8c4"/>
<rect x="149.20" y="29.90" width="6.20" height="1.10" fill="#19467a"/>
<rect x="149.20" y="31.00" width="6.20" height="1.12" fill="#25836a"/>
<rect x="149.20" y="32.12" width="6.20" height="0.85" fill="#174272"/>
<rect x="149.20" y="32.97" width="6.20" height="1.25" fill="#2d8f70"/>
<rect x="149.20" y="34.22" width="6.20" height="1.05" fill="#1c5086"/>
<rect x="149.20" y="35.28" width="6.20" height="1.01" fill="#2270a0"/>
<rect x="149.20" y="36.29" width="6.20" height="0.69" fill="#19467a"/>
<rect x="149.20" y="36.98" width="6.20" height="0.89" fill="#25836a"/>
<rect x="149.20" y="37.86" width="6.20" height="0.82" fill="#1c5086"/>
<rect x="149.20" y="38.69" width="6.20" height="1.01" fill="#2578a0"/>
<rect x="149.20" y="39.69" width="6.20" height="0.68" fill="#1c5086"/>
<rect x="149.20" y="40.38" width="6.20" height="1.18" fill="#2d8f70"/>
<rect x="149.20" y="41.55" width="6.20" height="0.85" fill="#1c5086"/>
<rect x="149.20" y="42.40" width="6.20" height="1.26" fill="#2578a0"/>
<rect x="149.20" y="43.66" width="6.20" height="1.05" fill="#1c5086"/>
<rect x="149.20" y="44.71" width="6.20" height="1.03" fill="#2270a0"/>
<rect x="149.20" y="45.74" width="6.20" height="0.84" fill="#174272"/>
<rect x="149.20" y="46.58" width="6.20" height="0.91" fill="#2270a0"/>
<rect x="149.20" y="47.49" width="6.20" height="0.50" fill="#6aa8c4"/>
<rect x="149.20" y="47.99" width="6.20" height="0.99" fill="#19467a"/>
<rect x="149.20" y="48.98" width="6.20" height="1.04" fill="#318ea4"/>
<rect x="149.20" y="50.02" width="6.20" height="0.50" fill="#6aa8c4"/>
<rect x="149.20" y="50.52" width="6.20" height="0.76" fill="#174272"/>
<rect x="149.20" y="51.28" width="6.20" height="0.90" fill="#2270a0"/>
<rect x="149.20" y="52.18" width="6.20" height="0.99" fill="#174272"/>
<rect x="149.20" y="53.17" width="6.20" height="0.97" fill="#2a84a0"/>
<rect x="149.20" y="54.14" width="6.20" height="0.50" fill="#78b4cc"/>
<rect x="149.20" y="54.64" width="6.20" height="0.63" fill="#174272"/>
<rect x="149.20" y="55.27" width="6.20" height="1.13" fill="#2a84a0"/>
<rect x="149.20" y="56.40" width="6.20" height="0.50" fill="#78b4cc"/>
<rect x="149.20" y="56.90" width="6.20" height="0.98" fill="#174272"/>
<rect x="149.20" y="57.88" width="6.20" height="0.87" fill="#2a84a0"/>
<rect x="149.20" y="58.74" width="6.20" height="0.50" fill="#78b4cc"/>
<rect x="149.20" y="59.24" width="6.20" height="1.05" fill="#19467a"/>
<rect x="149.20" y="60.29" width="6.20" height="1.18" fill="#2270a0"/>
<rect x="149.20" y="61.47" width="6.20" height="0.50" fill="#8cc4d8"/>
<rect x="149.20" y="61.97" width="6.20" height="0.94" fill="#19467a"/>
<rect x="149.20" y="62.91" width="6.20" height="0.84" fill="#2578a0"/>
<rect x="149.20" y="63.75" width="6.20" height="0.96" fill="#19467a"/>
<rect x="149.20" y="64.72" width="6.20" height="0.81" fill="#2a84a0"/>
<rect x="149.20" y="65.53" width="6.20" height="0.50" fill="#78b4cc"/>
<rect x="149.20" y="66.03" width="6.20" height="0.86" fill="#174272"/>
<rect x="149.20" y="66.89" width="6.20" height="0.80" fill="#2578a0"/>
<rect x="149.20" y="67.69" width="6.20" height="1.09" fill="#19467a"/>
<rect x="149.20" y="68.77" width="6.20" height="0.80" fill="#2578a0"/>
<rect x="149.20" y="69.58" width="6.20" height="0.74" fill="#174272"/>
<rect x="149.20" y="70.32" width="6.20" height="1.04" fill="#2a84a0"/>
<rect x="149.20" y="71.36" width="6.20" height="0.50" fill="#6aa8c4"/>
<rect x="149.20" y="71.86" width="6.20" height="1.05" fill="#174272"/>
<rect x="149.20" y="72.91" width="6.20" height="1.18" fill="#2a84a0"/>
<rect x="149.20" y="74.09" width="6.20" height="0.84" fill="#174272"/>
<rect x="149.20" y="74.93" width="6.20" height="0.91" fill="#2578a0"/>
<rect x="149.20" y="75.84" width="6.20" height="0.61" fill="#1c5086"/>
<rect x="149.20" y="76.45" width="6.20" height="1.19" fill="#2a84a0"/>
<rect x="149.20" y="77.65" width="6.20" height="0.84" fill="#174272"/>
<rect x="149.20" y="78.49" width="6.20" height="0.96" fill="#2270a0"/>
<rect x="149.20" y="79.46" width="6.20" height="0.73" fill="#1c5086"/>
<rect x="149.20" y="80.19" width="6.20" height="1.29" fill="#318ea4"/>
<rect x="149.20" y="81.47" width="6.20" height="0.94" fill="#174272"/>
<rect x="149.20" y="82.41" width="6.20" height="0.93" fill="#2578a0"/>
<rect x="149.20" y="83.33" width="6.20" height="0.50" fill="#78b4cc"/>
<rect x="149.20" y="83.83" width="6.20" height="0.92" fill="#19467a"/>
<rect x="149.20" y="84.75" width="6.20" height="1.05" fill="#2270a0"/>
<rect x="149.20" y="85.81" width="6.20" height="0.72" fill="#19467a"/>
<rect x="149.20" y="86.52" width="6.20" height="1.02" fill="#2578a0"/>
<rect x="149.20" y="87.54" width="6.20" height="0.50" fill="#6aa8c4"/>
<rect x="149.20" y="88.04" width="6.20" height="0.73" fill="#19467a"/>
<rect x="149.20" y="88.77" width="6.20" height="1.01" fill="#318ea4"/>
<rect x="149.20" y="89.78" width="6.20" height="0.62" fill="#19467a"/>
<rect x="149.20" y="90.40" width="6.20" height="1.00" fill="#2578a0"/>
<rect x="149.20" y="91.41" width="6.20" height="0.50" fill="#6aa8c4"/>
<rect x="149.20" y="91.91" width="6.20" height="0.65" fill="#19467a"/>
<rect x="149.20" y="92.56" width="6.20" height="0.81" fill="#2578a0"/>
<rect x="149.20" y="93.37" width="6.20" height="0.61" fill="#19467a"/>
<rect x="149.20" y="93.98" width="6.20" height="1.13" fill="#2578a0"/>
<rect x="149.20" y="95.11" width="6.20" height="0.50" fill="#6aa8c4"/>
<rect x="149.20" y="95.61" width="6.20" height="0.71" fill="#174272"/>
<rect x="149.20" y="96.32" width="6.20" height="1.25" fill="#2270a0"/>
<rect x="149.20" y="97.57" width="6.20" height="0.81" fill="#174272"/>
<rect x="149.20" y="98.39" width="6.20" height="0.81" fill="#2270a0"/>
<rect x="149.20" y="99.20" width="6.20" height="1.06" fill="#1c5086"/>
<rect x="149.20" y="100.26" width="6.20" height="1.13" fill="#2578a0"/>
<rect x="149.20" y="101.39" width="6.20" height="0.50" fill="#78b4cc"/>
<rect x="149.20" y="101.89" width="6.20" height="0.91" fill="#174272"/>
<rect x="149.20" y="102.79" width="6.20" height="0.94" fill="#2a84a0"/>
<rect x="149.20" y="103.74" width="6.20" height="0.61" fill="#1c5086"/>
<rect x="149.20" y="104.35" width="6.20" height="1.14" fill="#318ea4"/>
<rect x="149.20" y="105.49" width="6.20" height="0.50" fill="#8cc4d8"/>
<rect x="149.20" y="105.99" width="6.20" height="1.01" fill="#19467a"/>
<rect x="149.20" y="107.00" width="6.20" height="0.83" fill="#2a84a0"/>
<rect x="149.20" y="107.83" width="6.20" height="1.04" fill="#1c5086"/>
<rect x="149.20" y="108.87" width="6.20" height="1.11" fill="#2578a0"/>
<rect x="149.20" y="109.98" width="6.20" height="0.50" fill="#78b4cc"/>
<rect x="149.20" y="110.48" width="6.20" height="1.07" fill="#1c5086"/>
<rect x="149.20" y="111.55" width="6.20" height="0.84" fill="#318ea4"/>
<rect x="149.20" y="112.38" width="6.20" height="0.89" fill="#19467a"/>
<rect x="149.20" y="113.27" width="6.20" height="1.00" fill="#2a84a0"/>
<rect x="149.20" y="114.27" width="6.20" height="0.50" fill="#8cc4d8"/>
<rect x="149.20" y="114.77" width="6.20" height="0.73" fill="#1c5086"/>
<rect x="149.20" y="115.49" width="6.20" height="0.86" fill="#2a84a0"/>
<rect x="149.20" y="116.35" width="6.20" height="1.08" fill="#1c5086"/>
<rect x="149.20" y="117.43" width="6.20" height="1.15" fill="#2270a0"/>
<rect x="149.20" y="118.58" width="6.20" height="0.50" fill="#6aa8c4"/>
<rect x="149.20" y="119.08" width="6.20" height="0.96" fill="#1c5086"/>
<rect x="149.20" y="120.04" width="6.20" height="1.05" fill="#2a84a0"/>
<rect x="149.20" y="121.09" width="6.20" height="0.50" fill="#8cc4d8"/>
<rect x="149.20" y="121.59" width="6.20" height="0.73" fill="#19467a"/>
<rect x="149.20" y="122.33" width="6.20" height="1.06" fill="#318ea4"/>
<rect x="149.20" y="123.39" width="6.20" height="0.50" fill="#6aa8c4"/>
<rect x="149.20" y="123.89" width="6.20" height="1.02" fill="#1c5086"/>
<rect x="149.20" y="124.91" width="6.20" height="0.95" fill="#2270a0"/>
<rect x="149.20" y="125.86" width="6.20" height="0.50" fill="#8cc4d8"/>
<rect x="149.20" y="126.36" width="6.20" height="0.87" fill="#174272"/>
<rect x="149.20" y="127.23" width="6.20" height="1.15" fill="#318ea4"/>
<rect x="149.20" y="128.38" width="6.20" height="0.64" fill="#19467a"/>
<rect x="149.20" y="129.01" width="6.20" height="0.89" fill="#2a84a0"/>
<rect x="149.20" y="129.90" width="6.20" height="1.00" fill="#1c5086"/>
<rect x="149.20" y="130.90" width="6.20" height="1.26" fill="#2a84a0"/>
<rect x="149.20" y="132.16" width="6.20" height="0.66" fill="#174272"/>
<rect x="149.20" y="132.82" width="6.20" height="0.95" fill="#2a84a0"/>
<rect x="149.20" y="133.77" width="6.20" height="0.50" fill="#6aa8c4"/>
<rect x="149.20" y="134.27" width="6.20" height="0.82" fill="#174272"/>
<rect x="149.20" y="135.09" width="6.20" height="1.06" fill="#318ea4"/>
<rect x="149.20" y="136.15" width="6.20" height="0.50" fill="#6aa8c4"/>
<rect x="149.20" y="136.65" width="6.20" height="0.76" fill="#1c5086"/>
<rect x="149.20" y="137.41" width="6.20" height="0.92" fill="#2a84a0"/>
<rect x="149.20" y="138.34" width="6.20" height="0.83" fill="#19467a"/>
<rect x="149.20" y="139.17" width="6.20" height="1.15" fill="#2578a0"/>
<rect x="149.20" y="140.32" width="6.20" height="0.50" fill="#8cc4d8"/>
<rect x="149.20" y="140.82" width="6.20" height="0.83" fill="#174272"/>
<rect x="149.20" y="141.65" width="6.20" height="1.16" fill="#2578a0"/>
<rect x="149.20" y="142.81" width="6.20" height="0.80" fill="#1c5086"/>
<rect x="149.20" y="143.61" width="6.20" height="0.83" fill="#2578a0"/>
<rect x="149.20" y="144.44" width="6.20" height="0.50" fill="#8cc4d8"/>
<rect x="149.20" y="144.94" width="6.20" height="0.95" fill="#174272"/>
<rect x="149.20" y="145.89" width="6.20" height="1.04" fill="#2270a0"/>
<rect x="149.20" y="146.93" width="6.20" height="0.98" fill="#1c5086"/>
<rect x="149.20" y="147.91" width="6.20" height="1.23" fill="#2a84a0"/>
<rect x="149.20" y="149.13" width="6.20" height="0.50" fill="#6aa8c4"/>
<rect x="149.20" y="149.63" width="6.20" height="1.01" fill="#19467a"/>
<rect x="149.20" y="150.64" width="6.20" height="0.99" fill="#2270a0"/>
<rect x="149.20" y="151.63" width="6.20" height="0.83" fill="#19467a"/>
<rect x="149.20" y="152.46" width="6.20" height="1.16" fill="#318ea4"/>
<rect x="149.20" y="153.62" width="6.20" height="1.01" fill="#174272"/>
<rect x="149.20" y="154.63" width="6.20" height="0.81" fill="#2578a0"/>
<rect x="149.20" y="155.44" width="6.20" height="1.05" fill="#174272"/>
<rect x="149.20" y="156.49" width="6.20" height="1.24" fill="#2270a0"/>
<rect x="149.20" y="157.73" width="6.20" height="0.50" fill="#6aa8c4"/>
<rect x="149.20" y="158.23" width="6.20" height="0.97" fill="#19467a"/>
<rect x="149.20" y="159.20" width="6.20" height="1.09" fill="#318ea4"/>
<rect x="149.20" y="160.30" width="6.20" height="0.50" fill="#6aa8c4"/>
<rect x="149.20" y="160.80" width="6.20" height="0.91" fill="#19467a"/>
<rect x="149.20" y="161.70" width="6.20" height="1.02" fill="#2a84a0"/>
<rect x="149.20" y="162.72" width="6.20" height="0.50" fill="#6aa8c4"/>
<rect x="149.20" y="163.22" width="6.20" height="0.96" fill="#19467a"/>
<rect x="149.20" y="164.18" width="6.20" height="1.29" fill="#2270a0"/>
<rect x="149.20" y="165.46" width="6.20" height="1.05" fill="#1c5086"/>
<rect x="149.20" y="166.52" width="6.20" height="1.07" fill="#2a84a0"/>
<rect x="149.20" y="167.58" width="6.20" height="1.06" fill="#19467a"/>
<rect x="149.20" y="168.64" width="6.20" height="1.26" fill="#2270a0"/>
<rect x="149.20" y="169.91" width="6.20" height="0.50" fill="#6aa8c4"/>
<rect x="149.20" y="170.41" width="6.20" height="1.09" fill="#1c5086"/>
<rect x="149.20" y="171.50" width="6.20" height="1.11" fill="#2a84a0"/>
<rect x="149.20" y="172.61" width="6.20" height="0.50" fill="#8cc4d8"/>
<rect x="149.20" y="173.11" width="6.20" height="0.63" fill="#1c5086"/>
<rect x="149.20" y="173.73" width="6.20" height="1.05" fill="#2578a0"/>
<rect x="149.20" y="174.78" width="6.20" height="0.68" fill="#174272"/>
<rect x="149.20" y="175.46" width="6.20" height="0.94" fill="#318ea4"/>
<rect x="149.20" y="176.40" width="6.20" height="0.50" fill="#78b4cc"/>
<rect x="149.20" y="176.90" width="6.20" height="0.87" fill="#1c5086"/>
<rect x="149.20" y="177.77" width="6.20" height="0.99" fill="#2a84a0"/>
<rect x="149.20" y="178.76" width="6.20" height="0.50" fill="#6aa8c4"/>
<rect x="149.20" y="179.26" width="6.20" height="0.92" fill="#1c5086"/>
<rect x="149.20" y="180.19" width="6.20" height="1.04" fill="#2270a0"/>
<rect x="149.20" y="181.23" width="6.20" height="0.73" fill="#1c5086"/>
<rect x="149.20" y="181.96" width="6.20" height="0.96" fill="#2a84a0"/>
<rect x="149.20" y="182.91" width="6.20" height="0.50" fill="#8cc4d8"/>
<rect x="149.20" y="183.41" width="6.20" height="0.59" fill="#174272"/>
<rect x="155.40" y="27.30" width="1.20" height="156.70" fill="#c4e6f5"/>
<rect x="148.30" y="27.80" width="0.8" height="1.01" fill="#3a3a4a" opacity="0.41" class="a"/>
<rect x="148.30" y="30.92" width="0.8" height="1.35" fill="#3a3a4a" opacity="0.37" class="a"/>
<rect x="148.30" y="34.18" width="0.8" height="0.59" fill="#3a3a4a" opacity="0.32" class="a"/>
<rect x="148.30" y="37.66" width="0.8" height="1.06" fill="#3a3a4a" opacity="0.56" class="a"/>
<rect x="148.30" y="39.65" width="0.8" height="0.61" fill="#3a3a4a" opacity="0.64" class="a"/>
<rect x="148.30" y="42.80" width="0.8" height="1.36" fill="#3a3a4a" opacity="0.41" class="a"/>
<rect x="148.30" y="45.74" width="0.8" height="0.83" fill="#3a3a4a" opacity="0.48" class="a"/>
<rect x="148.30" y="48.47" width="0.8" height="1.37" fill="#3a3a4a" opacity="0.53" class="a"/>
<rect x="148.30" y="50.93" width="0.8" height="1.22" fill="#3a3a4a" opacity="0.80" class="a"/>
<rect x="148.30" y="53.42" width="0.8" height="0.77" fill="#3a3a4a" opacity="0.38" class="a"/>
<rect x="148.30" y="56.95" width="0.8" height="0.97" fill="#3a3a4a" opacity="0.68" class="a"/>
<rect x="148.30" y="60.58" width="0.8" height="0.69" fill="#3a3a4a" opacity="0.37" class="a"/>
<rect x="148.30" y="62.36" width="0.8" height="0.77" fill="#3a3a4a" opacity="0.58" class="a"/>
<rect x="148.30" y="64.76" width="0.8" height="1.31" fill="#3a3a4a" opacity="0.67" class="a"/>
<rect x="148.30" y="67.49" width="0.8" height="1.22" fill="#3a3a4a" opacity="0.60" class="a"/>
<rect x="148.30" y="70.79" width="0.8" height="1.23" fill="#3a3a4a" opacity="0.46" class="a"/>
<rect x="148.30" y="73.70" width="0.8" height="1.21" fill="#3a3a4a" opacity="0.65" class="a"/>
<rect x="148.30" y="77.10" width="0.8" height="1.47" fill="#3a3a4a" opacity="0.66" class="a"/>
<rect x="148.30" y="80.54" width="0.8" height="1.14" fill="#3a3a4a" opacity="0.34" class="a"/>
<rect x="148.30" y="83.16" width="0.8" height="0.98" fill="#3a3a4a" opacity="0.43" class="a"/>
<rect x="148.30" y="86.93" width="0.8" height="0.94" fill="#3a3a4a" opacity="0.34" class="a"/>
<rect x="148.30" y="90.70" width="0.8" height="0.81" fill="#3a3a4a" opacity="0.49" class="a"/>
<rect x="148.30" y="94.44" width="0.8" height="0.60" fill="#3a3a4a" opacity="0.38" class="a"/>
<rect x="148.30" y="96.02" width="0.8" height="1.38" fill="#3a3a4a" opacity="0.67" class="a"/>
<rect x="148.30" y="99.63" width="0.8" height="0.51" fill="#3a3a4a" opacity="0.46" class="a"/>
<rect x="148.30" y="102.75" width="0.8" height="1.09" fill="#3a3a4a" opacity="0.57" class="a"/>
<rect x="148.30" y="105.68" width="0.8" height="1.40" fill="#3a3a4a" opacity="0.48" class="a"/>
<rect x="148.30" y="108.32" width="0.8" height="1.00" fill="#3a3a4a" opacity="0.79" class="a"/>
<rect x="148.30" y="111.85" width="0.8" height="0.83" fill="#3a3a4a" opacity="0.37" class="a"/>
<rect x="148.30" y="114.27" width="0.8" height="0.59" fill="#3a3a4a" opacity="0.39" class="a"/>
<rect x="148.30" y="117.22" width="0.8" height="1.23" fill="#3a3a4a" opacity="0.32" class="a"/>
<rect x="148.30" y="121.31" width="0.8" height="1.15" fill="#3a3a4a" opacity="0.61" class="a"/>
<rect x="148.30" y="125.16" width="0.8" height="0.68" fill="#3a3a4a" opacity="0.33" class="a"/>
<rect x="148.30" y="127.61" width="0.8" height="0.77" fill="#3a3a4a" opacity="0.46" class="a"/>
<rect x="148.30" y="130.45" width="0.8" height="0.62" fill="#3a3a4a" opacity="0.62" class="a"/>
<rect x="148.30" y="133.43" width="0.8" height="1.46" fill="#3a3a4a" opacity="0.41" class="a"/>
<rect x="148.30" y="135.81" width="0.8" height="1.27" fill="#3a3a4a" opacity="0.54" class="a"/>
<rect x="148.30" y="139.79" width="0.8" height="1.04" fill="#3a3a4a" opacity="0.61" class="a"/>
<rect x="148.30" y="141.84" width="0.8" height="1.01" fill="#3a3a4a" opacity="0.63" class="a"/>
<rect x="148.30" y="144.74" width="0.8" height="0.90" fill="#3a3a4a" opacity="0.65" class="a"/>
<rect x="148.30" y="146.81" width="0.8" height="0.89" fill="#3a3a4a" opacity="0.53" class="a"/>
<rect x="148.30" y="150.43" width="0.8" height="0.95" fill="#3a3a4a" opacity="0.60" class="a"/>
<rect x="148.30" y="152.44" width="0.8" height="1.42" fill="#3a3a4a" opacity="0.55" class="a"/>
<rect x="148.30" y="155.05" width="0.8" height="0.89" fill="#3a3a4a" opacity="0.53" class="a"/>
<rect x="148.30" y="158.30" width="0.8" height="0.75" fill="#3a3a4a" opacity="0.63" class="a"/>
<rect x="148.30" y="160.34" width="0.8" height="0.52" fill="#3a3a4a" opacity="0.51" class="a"/>
<rect x="148.30" y="163.82" width="0.8" height="0.84" fill="#3a3a4a" opacity="0.71" class="a"/>
<rect x="148.30" y="166.48" width="0.8" height="1.36" fill="#3a3a4a" opacity="0.54" class="a"/>
<rect x="148.30" y="168.78" width="0.8" height="0.64" fill="#3a3a4a" opacity="0.32" class="a"/>
<rect x="148.30" y="171.75" width="0.8" height="1.04" fill="#3a3a4a" opacity="0.32" class="a"/>
<rect x="148.30" y="174.80" width="0.8" height="0.51" fill="#3a3a4a" opacity="0.71" class="a"/>
<rect x="148.30" y="176.85" width="0.8" height="1.03" fill="#3a3a4a" opacity="0.42" class="a"/>
<rect x="148.30" y="179.49" width="0.8" height="0.50" fill="#3a3a4a" opacity="0.57" class="a"/>
<rect x="148.30" y="181.34" width="0.8" height="0.97" fill="#3a3a4a" opacity="0.70" class="a"/>
<rect x="322.80" y="27.00" width="71.52" height="154.50" fill="#2f55ab"/>
<rect x="322.80" y="50.90" width="11.92" height="2.90" fill="#f48a70"/>
<rect x="322.80" y="56.70" width="11.92" height="2.00" fill="#f25f45"/>
<rect x="322.80" y="58.70" width="11.92" height="1.30" fill="#f1593f"/>
<rect x="322.80" y="60.00" width="11.92" height="2.00" fill="#f15a40"/>
<rect x="322.80" y="62.00" width="11.92" height="1.10" fill="#f36a51"/>
<rect x="322.80" y="63.10" width="11.92" height="1.60" fill="#f26046"/>
<rect x="322.80" y="64.70" width="11.92" height="2.00" fill="#f25e44"/>
<rect x="322.80" y="66.70" width="11.92" height="0.90" fill="#f15a40"/>
<rect x="322.80" y="67.60" width="11.92" height="1.60" fill="#ef5137"/>
<rect x="322.80" y="69.20" width="11.92" height="1.60" fill="#f36349"/>
<rect x="322.80" y="70.80" width="11.92" height="1.60" fill="#f5826c"/>
<rect x="322.80" y="72.40" width="11.92" height="1.10" fill="#f26248"/>
<rect x="322.80" y="73.50" width="11.92" height="5.80" fill="#f7bcae"/>
<rect x="322.80" y="79.30" width="11.92" height="1.30" fill="#f26349"/>
<rect x="322.80" y="80.60" width="11.92" height="0.90" fill="#f05339"/>
<rect x="322.80" y="81.50" width="11.92" height="1.60" fill="#f0553b"/>
<rect x="322.80" y="83.10" width="11.92" height="2.00" fill="#f47a63"/>
<rect x="322.80" y="85.10" width="11.92" height="2.00" fill="#f68f7b"/>
<rect x="322.80" y="87.10" width="11.92" height="0.90" fill="#f3694f"/>
<rect x="322.80" y="88.00" width="11.92" height="0.90" fill="#f47b64"/>
<rect x="322.80" y="88.90" width="11.92" height="1.10" fill="#ef4d33"/>
<rect x="322.80" y="90.00" width="11.92" height="1.60" fill="#f26349"/>
<rect x="322.80" y="91.60" width="11.92" height="1.10" fill="#ef4f35"/>
<rect x="322.80" y="92.70" width="11.92" height="1.30" fill="#f15c42"/>
<rect x="322.80" y="94.00" width="11.92" height="1.10" fill="#f46d55"/>
<rect x="322.80" y="95.10" width="11.92" height="1.60" fill="#ee4a30"/>
<rect x="322.80" y="96.70" width="11.92" height="1.30" fill="#f26147"/>
<rect x="322.80" y="98.00" width="11.92" height="2.00" fill="#f1593f"/>
<rect x="322.80" y="100.00" width="11.92" height="1.30" fill="#ee4a30"/>
<rect x="322.80" y="101.30" width="11.92" height="2.00" fill="#f0563c"/>
<rect x="322.80" y="103.30" width="11.92" height="1.10" fill="#f5826c"/>
<rect x="322.80" y="104.40" width="11.92" height="1.60" fill="#f0563c"/>
<rect x="322.80" y="106.00" width="11.92" height="0.90" fill="#f26147"/>
<rect x="322.80" y="106.90" width="11.92" height="1.10" fill="#f47962"/>
<rect x="322.80" y="108.00" width="11.92" height="1.30" fill="#f26046"/>
<rect x="322.80" y="109.30" width="11.92" height="0.30" fill="#f1593f"/>
<rect x="322.80" y="109.60" width="11.92" height="7.40" fill="#f7bcae"/>
<rect x="322.80" y="117.00" width="11.92" height="5.00" fill="#f3ecf0"/>
<rect x="322.80" y="134.60" width="11.92" height="1.90" fill="#c5bfe4"/>
<rect x="322.80" y="167.80" width="11.92" height="3.90" fill="#c5bfe4"/>
<rect x="322.80" y="175.50" width="11.92" height="4.80" fill="#c5bfe4"/>
<rect x="334.72" y="26.90" width="11.92" height="1.30" fill="#f0543a"/>
<rect x="334.72" y="28.20" width="11.92" height="1.30" fill="#ef5238"/>
<rect x="334.72" y="29.50" width="11.92" height="1.60" fill="#f15b41"/>
<rect x="334.72" y="31.10" width="11.92" height="1.60" fill="#f36b52"/>
<rect x="334.72" y="32.70" width="11.92" height="2.00" fill="#f5816b"/>
<rect x="334.72" y="34.70" width="11.92" height="2.00" fill="#f15d43"/>
<rect x="334.72" y="36.70" width="11.92" height="1.60" fill="#f68f7a"/>
<rect x="334.72" y="38.30" width="11.92" height="0.90" fill="#f25f45"/>
<rect x="334.72" y="39.20" width="11.92" height="0.90" fill="#f58670"/>
<rect x="334.72" y="40.10" width="11.92" height="1.10" fill="#f26349"/>
<rect x="334.72" y="41.20" width="11.92" height="1.10" fill="#f15a40"/>
<rect x="334.72" y="42.30" width="11.92" height="1.30" fill="#f68f7b"/>
<rect x="334.72" y="43.60" width="11.92" height="1.30" fill="#f0563c"/>
<rect x="334.72" y="44.90" width="11.92" height="0.90" fill="#f26248"/>
<rect x="334.72" y="45.80" width="11.92" height="2.00" fill="#f25f45"/>
<rect x="334.72" y="47.80" width="11.92" height="1.60" fill="#f05238"/>
<rect x="334.72" y="49.40" width="11.92" height="2.00" fill="#f58974"/>
<rect x="334.72" y="51.40" width="11.92" height="0.90" fill="#f5826b"/>
<rect x="334.72" y="52.30" width="11.92" height="0.50" fill="#f5826c"/>
<rect x="334.72" y="55.70" width="11.92" height="6.30" fill="#f48a70"/>
<rect x="334.72" y="62.00" width="11.92" height="5.80" fill="#f7bcae"/>
<rect x="334.72" y="67.80" width="11.92" height="1.90" fill="#f3ecf0"/>
<rect x="334.72" y="69.70" width="11.92" height="5.80" fill="#f48a70"/>
<rect x="334.72" y="75.50" width="11.92" height="5.50" fill="#f7bcae"/>
<rect x="334.72" y="81.00" width="11.92" height="6.00" fill="#c5bfe4"/>
<rect x="334.72" y="122.00" width="11.92" height="1.30" fill="#f4765e"/>
<rect x="334.72" y="123.30" width="11.92" height="1.10" fill="#f3644a"/>
<rect x="334.72" y="124.40" width="11.92" height="2.00" fill="#f0543a"/>
<rect x="334.72" y="126.40" width="11.92" height="1.60" fill="#f26046"/>
<rect x="334.72" y="128.00" width="11.92" height="1.10" fill="#f25f45"/>
<rect x="334.72" y="129.10" width="11.92" height="2.00" fill="#ee4a30"/>
<rect x="334.72" y="131.10" width="11.92" height="1.60" fill="#f3684e"/>
<rect x="334.72" y="132.70" width="11.92" height="1.10" fill="#ee4a30"/>
<rect x="334.72" y="133.80" width="11.92" height="0.20" fill="#f3694f"/>
<rect x="334.72" y="134.00" width="11.92" height="0.90" fill="#f69582"/>
<rect x="334.72" y="134.90" width="11.92" height="1.60" fill="#f3664c"/>
<rect x="334.72" y="136.50" width="11.92" height="2.00" fill="#f15c42"/>
<rect x="334.72" y="138.50" width="11.92" height="1.30" fill="#f15b41"/>
<rect x="334.72" y="139.80" width="11.92" height="1.60" fill="#f3644a"/>
<rect x="334.72" y="141.40" width="11.92" height="1.10" fill="#f0563c"/>
<rect x="334.72" y="142.50" width="11.92" height="1.30" fill="#f79a87"/>
<rect x="334.72" y="143.80" width="11.92" height="8.60" fill="#f7bcae"/>
<rect x="334.72" y="157.20" width="11.92" height="7.80" fill="#f8d8d0"/>
<rect x="334.72" y="167.80" width="11.92" height="12.50" fill="#c5bfe4"/>
<rect x="346.64" y="26.90" width="11.92" height="0.90" fill="#f05339"/>
<rect x="346.64" y="27.80" width="11.92" height="1.10" fill="#ee4b31"/>
<rect x="346.64" y="28.90" width="11.92" height="2.00" fill="#ef4e34"/>
<rect x="346.64" y="30.90" width="11.92" height="1.10" fill="#f3644a"/>
<rect x="346.64" y="32.00" width="11.92" height="1.10" fill="#ee4a30"/>
<rect x="346.64" y="33.10" width="11.92" height="1.60" fill="#f68c77"/>
<rect x="346.64" y="34.70" width="11.92" height="2.00" fill="#f0573d"/>
<rect x="346.64" y="36.70" width="11.92" height="2.00" fill="#f4725a"/>
<rect x="346.64" y="38.70" width="11.92" height="0.70" fill="#f0563c"/>
<rect x="346.64" y="39.40" width="11.92" height="2.90" fill="#f8d8d0"/>
<rect x="346.64" y="45.20" width="11.92" height="3.80" fill="#f7bcae"/>
<rect x="346.64" y="49.00" width="11.92" height="3.80" fill="#f05a40"/>
<rect x="346.64" y="57.60" width="11.92" height="10.20" fill="#f8d8d0"/>
<rect x="346.64" y="77.40" width="11.92" height="2.90" fill="#c5bfe4"/>
<rect x="346.64" y="89.90" width="11.92" height="2.90" fill="#f8d8d0"/>
<rect x="346.64" y="123.00" width="11.92" height="9.70" fill="#f8d8d0"/>
<rect x="346.64" y="132.70" width="11.92" height="5.80" fill="#c5bfe4"/>
<rect x="346.64" y="157.20" width="11.92" height="5.80" fill="#c5bfe4"/>
<rect x="346.64" y="163.00" width="11.92" height="3.00" fill="#f8d8d0"/>
<rect x="346.64" y="166.00" width="11.92" height="9.50" fill="#c5bfe4"/>
<rect x="358.56" y="26.90" width="11.92" height="1.10" fill="#f26147"/>
<rect x="370.48" y="26.90" width="11.92" height="1.10" fill="#f3654b"/>
<rect x="382.40" y="26.90" width="11.92" height="1.10" fill="#f36a51"/>
<rect x="358.56" y="28.00" width="11.92" height="0.90" fill="#f3654b"/>
<rect x="370.48" y="28.00" width="11.92" height="0.90" fill="#f3654b"/>
<rect x="382.40" y="28.00" width="11.92" height="0.90" fill="#f26046"/>
<rect x="358.56" y="28.90" width="11.92" height="2.00" fill="#f3664c"/>
<rect x="370.48" y="28.90" width="11.92" height="2.00" fill="#f46e56"/>
<rect x="382.40" y="28.90" width="11.92" height="2.00" fill="#f3644a"/>
<rect x="358.56" y="30.90" width="11.92" height="1.60" fill="#f0563c"/>
<rect x="370.48" y="30.90" width="11.92" height="1.60" fill="#f25e44"/>
<rect x="382.40" y="30.90" width="11.92" height="1.60" fill="#f15d43"/>
<rect x="358.56" y="32.50" width="11.92" height="2.00" fill="#f58974"/>
<rect x="370.48" y="32.50" width="11.92" height="2.00" fill="#f4755e"/>
<rect x="382.40" y="32.50" width="11.92" height="2.00" fill="#f58872"/>
<rect x="358.56" y="34.50" width="11.92" height="1.10" fill="#f5806a"/>
<rect x="370.48" y="34.50" width="11.92" height="1.10" fill="#f4765e"/>
<rect x="382.40" y="34.50" width="11.92" height="1.10" fill="#f47962"/>
<rect x="358.56" y="35.60" width="11.92" height="0.90" fill="#f58772"/>
<rect x="370.48" y="35.60" width="11.92" height="0.90" fill="#f58873"/>
<rect x="382.40" y="35.60" width="11.92" height="0.90" fill="#f69885"/>
<rect x="358.56" y="36.50" width="11.92" height="1.10" fill="#f36a50"/>
<rect x="370.48" y="36.50" width="11.92" height="1.10" fill="#f26248"/>
<rect x="382.40" y="36.50" width="11.92" height="1.10" fill="#f26147"/>
<rect x="358.56" y="37.60" width="11.92" height="1.10" fill="#f26046"/>
<rect x="370.48" y="37.60" width="11.92" height="1.10" fill="#f1593f"/>
<rect x="382.40" y="37.60" width="11.92" height="1.10" fill="#f15b41"/>
<rect x="358.56" y="38.70" width="11.92" height="2.00" fill="#f3664c"/>
<rect x="370.48" y="38.70" width="11.92" height="2.00" fill="#f3644a"/>
<rect x="382.40" y="38.70" width="11.92" height="2.00" fill="#f3644a"/>
<rect x="358.56" y="40.70" width="11.92" height="2.00" fill="#f26046"/>
<rect x="370.48" y="40.70" width="11.92" height="2.00" fill="#f25f45"/>
<rect x="382.40" y="40.70" width="11.92" height="2.00" fill="#f1593f"/>
<rect x="358.56" y="42.70" width="11.92" height="1.60" fill="#f15d43"/>
<rect x="370.48" y="42.70" width="11.92" height="1.60" fill="#f15c42"/>
<rect x="382.40" y="42.70" width="11.92" height="1.60" fill="#f25e44"/>
<rect x="358.56" y="44.30" width="11.92" height="2.00" fill="#f5816a"/>
<rect x="370.48" y="44.30" width="11.92" height="2.00" fill="#f58671"/>
<rect x="382.40" y="44.30" width="11.92" height="2.00" fill="#f4745b"/>
<rect x="358.56" y="46.30" width="11.92" height="1.30" fill="#f0553b"/>
<rect x="370.48" y="46.30" width="11.92" height="1.30" fill="#f05339"/>
<rect x="382.40" y="46.30" width="11.92" height="1.30" fill="#f0573d"/>
<rect x="358.56" y="47.60" width="11.92" height="2.00" fill="#f0583e"/>
<rect x="370.48" y="47.60" width="11.92" height="2.00" fill="#f15c42"/>
<rect x="382.40" y="47.60" width="11.92" height="2.00" fill="#f15b41"/>
<rect x="358.56" y="49.60" width="11.92" height="1.60" fill="#f3654b"/>
<rect x="370.48" y="49.60" width="11.92" height="1.60" fill="#f26349"/>
<rect x="382.40" y="49.60" width="11.92" height="1.60" fill="#f26046"/>
<rect x="358.56" y="51.20" width="11.92" height="1.60" fill="#f36349"/>
<rect x="370.48" y="51.20" width="11.92" height="1.60" fill="#f3654b"/>
<rect x="382.40" y="51.20" width="11.92" height="1.60" fill="#f3644a"/>
<rect x="358.56" y="52.80" width="11.92" height="1.10" fill="#f4745c"/>
<rect x="370.48" y="52.80" width="11.92" height="1.10" fill="#f36c52"/>
<rect x="382.40" y="52.80" width="11.92" height="1.10" fill="#f57d67"/>
<rect x="358.56" y="53.90" width="11.92" height="0.90" fill="#f36d53"/>
<rect x="370.48" y="53.90" width="11.92" height="0.90" fill="#f3654b"/>
<rect x="382.40" y="53.90" width="11.92" height="0.90" fill="#f26248"/>
<rect x="358.56" y="54.80" width="11.92" height="0.90" fill="#f26046"/>
<rect x="370.48" y="54.80" width="11.92" height="0.90" fill="#f1593f"/>
<rect x="382.40" y="54.80" width="11.92" height="0.90" fill="#f15d43"/>
<rect x="358.56" y="55.70" width="11.92" height="0.10" fill="#f3674e"/>
<rect x="370.48" y="55.70" width="11.92" height="0.10" fill="#f25e44"/>
<rect x="382.40" y="55.70" width="11.92" height="0.10" fill="#f26046"/>
<rect x="358.56" y="93.30" width="35.76" height="1.00" fill="#c5bfe4"/>
<rect x="358.56" y="151.50" width="35.76" height="1.50" fill="#c5bfe4"/>
<rect x="358.56" y="153.00" width="35.76" height="3.30" fill="#aba6dc"/>
<rect x="358.56" y="58.50" width="11.92" height="2.00" fill="#c5bfe4"/>
<rect x="358.56" y="70.20" width="11.92" height="1.00" fill="#c5bfe4"/>
<rect x="358.56" y="84.50" width="11.92" height="1.00" fill="#c5bfe4"/>
<rect x="358.56" y="151.50" width="11.92" height="4.80" fill="#f3ecf0"/>
<rect x="370.48" y="90.44" width="23.84" height="0.64" fill="#516db8" class="a"/>
<rect x="358.56" y="65.90" width="11.92" height="0.55" fill="#5c75bc" class="a"/>
<rect x="382.40" y="95.26" width="11.92" height="0.75" fill="#4f6cb7" class="a"/>
<rect x="382.40" y="73.61" width="11.92" height="0.84" fill="#5872bb" class="a"/>
<rect x="358.56" y="145.23" width="35.76" height="0.78" fill="#6279bf" class="a"/>
<rect x="358.56" y="170.52" width="23.84" height="0.81" fill="#5a74bb" class="a"/>
<rect x="358.56" y="175.41" width="23.84" height="0.80" fill="#526eb8" class="a"/>
<rect x="370.48" y="95.99" width="23.84" height="0.80" fill="#7b8bc8" class="a"/>
<rect x="382.40" y="138.27" width="11.92" height="0.78" fill="#6e81c3" class="a"/>
<rect x="382.40" y="88.28" width="11.92" height="0.65" fill="#677cc0" class="a"/>
<rect x="358.56" y="82.79" width="35.76" height="0.60" fill="#7687c6" class="a"/>
<rect x="370.48" y="144.52" width="23.84" height="0.65" fill="#5872bb" class="a"/>
<rect x="382.40" y="103.74" width="11.92" height="0.72" fill="#6a7fc1" class="a"/>
<rect x="382.40" y="64.61" width="11.92" height="0.75" fill="#7c8cc8" class="a"/>
<rect x="346.64" y="118.65" width="11.92" height="0.84" fill="#6c80c2" class="a"/>
<rect x="334.72" y="104.80" width="23.84" height="0.82" fill="#697ec1" class="a"/>
<rect x="346.64" y="100.64" width="11.92" height="0.84" fill="#7889c7" class="a"/>
<rect x="396.70" y="26.90" width="5.80" height="28.80" fill="#2f55ab"/>
<rect x="396.70" y="56.70" width="5.80" height="7.30" fill="#f3ecf0"/>
<rect x="396.70" y="64.00" width="5.80" height="3.00" fill="#c5bfe4"/>
<rect x="396.70" y="67.00" width="5.80" height="3.00" fill="#f3ecf0"/>
<rect x="396.70" y="70.00" width="5.80" height="3.00" fill="#c5bfe4"/>
<rect x="396.70" y="73.00" width="5.80" height="3.00" fill="#f3ecf0"/>
<rect x="396.70" y="76.00" width="5.80" height="4.00" fill="#9a9bd4"/>
<rect x="396.70" y="80.00" width="5.80" height="4.00" fill="#c5bfe4"/>
<rect x="396.70" y="84.00" width="5.80" height="4.00" fill="#f3ecf0"/>
<rect x="396.70" y="88.00" width="5.80" height="4.00" fill="#c5bfe4"/>
<rect x="396.70" y="92.00" width="5.80" height="4.00" fill="#9a9bd4"/>
<rect x="396.70" y="96.00" width="5.80" height="4.00" fill="#c5bfe4"/>
<rect x="396.70" y="100.00" width="5.80" height="81.50" fill="#2f55ab"/>
<rect x="396.70" y="108.00" width="5.80" height="2.00" fill="#c5bfe4"/>
<rect x="396.70" y="116.00" width="5.80" height="2.00" fill="#c5bfe4"/>
<rect x="396.70" y="124.00" width="5.80" height="3.00" fill="#c5bfe4"/>
<rect x="396.70" y="132.00" width="5.80" height="2.00" fill="#9a9bd4"/>
<rect x="396.70" y="140.00" width="5.80" height="2.00" fill="#c5bfe4"/>
<rect x="396.70" y="150.00" width="5.80" height="2.00" fill="#c5bfe4"/>
<rect x="396.70" y="160.00" width="5.80" height="2.00" fill="#c5bfe4"/>
<rect x="396.70" y="168.80" width="5.80" height="2.90" fill="#f3ecf0"/>
<rect x="396.70" y="175.00" width="5.80" height="2.00" fill="#c5bfe4"/>
<rect x="396.70" y="56.70" width="5.80" height="1.75" fill="#e4e0f0"/>
<rect x="396.70" y="58.45" width="5.80" height="1.66" fill="#aba6dc"/>
<rect x="396.70" y="60.12" width="5.80" height="1.97" fill="#aba6dc"/>
<rect x="396.70" y="62.09" width="5.80" height="1.68" fill="#e4e0f0"/>
<rect x="396.70" y="63.77" width="5.80" height="1.54" fill="#e4e0f0"/>
<rect x="396.70" y="65.31" width="5.80" height="1.76" fill="#aba6dc"/>
<rect x="396.70" y="67.07" width="5.80" height="1.19" fill="#e4e0f0"/>
<rect x="396.70" y="68.26" width="5.80" height="1.83" fill="#aba6dc"/>
<rect x="396.70" y="70.09" width="5.80" height="2.14" fill="#7e7fc8"/>
<rect x="396.70" y="72.24" width="5.80" height="1.97" fill="#e4e0f0"/>
<rect x="396.70" y="74.21" width="5.80" height="0.91" fill="#e4e0f0"/>
<rect x="396.70" y="75.11" width="5.80" height="1.31" fill="#aba6dc"/>
<rect x="396.70" y="76.42" width="5.80" height="1.96" fill="#aba6dc"/>
<rect x="396.70" y="78.38" width="5.80" height="1.69" fill="#aba6dc"/>
<rect x="396.70" y="80.07" width="5.80" height="0.85" fill="#aba6dc"/>
<rect x="396.70" y="80.92" width="5.80" height="1.10" fill="#e4e0f0"/>
<rect x="396.70" y="82.02" width="5.80" height="0.81" fill="#aba6dc"/>
<rect x="396.70" y="82.83" width="5.80" height="2.07" fill="#e4e0f0"/>
<rect x="396.70" y="84.91" width="5.80" height="1.61" fill="#e4e0f0"/>
<rect x="396.70" y="86.52" width="5.80" height="1.29" fill="#e4e0f0"/>
<rect x="396.70" y="87.81" width="5.80" height="2.00" fill="#aba6dc"/>
<rect x="396.70" y="89.82" width="5.80" height="2.06" fill="#e4e0f0"/>
<rect x="396.70" y="91.87" width="5.80" height="1.81" fill="#aba6dc"/>
<rect x="396.70" y="93.68" width="5.80" height="1.51" fill="#7e7fc8"/>
<rect x="396.70" y="95.19" width="5.80" height="1.67" fill="#e4e0f0"/>
<rect x="396.70" y="96.87" width="5.80" height="1.80" fill="#aba6dc"/>
<rect x="396.70" y="98.67" width="5.80" height="1.10" fill="#aba6dc"/>
<rect x="396.70" y="99.77" width="5.80" height="0.23" fill="#aba6dc"/>
<rect x="396.70" y="56.70" width="5.80" height="7.30" fill="#f3ecf0"/>
<rect x="396.70" y="100.00" width="5.80" height="1.70" fill="#2f55ab"/>
<rect x="396.70" y="101.70" width="5.80" height="1.81" fill="#2f55ab"/>
<rect x="396.70" y="103.51" width="5.80" height="1.78" fill="#2f55ab"/>
<rect x="396.70" y="105.29" width="5.80" height="1.65" fill="#2f55ab"/>
<rect x="396.70" y="106.94" width="5.80" height="1.28" fill="#2f55ab"/>
<rect x="396.70" y="108.22" width="5.80" height="1.26" fill="#aba6dc"/>
<rect x="396.70" y="109.48" width="5.80" height="1.46" fill="#7e7fc8"/>
<rect x="396.70" y="110.94" width="5.80" height="1.62" fill="#2f55ab"/>
<rect x="396.70" y="112.56" width="5.80" height="1.66" fill="#2f55ab"/>
<rect x="396.70" y="114.22" width="5.80" height="1.00" fill="#2f55ab"/>
<rect x="396.70" y="115.21" width="5.80" height="0.82" fill="#2f55ab"/>
<rect x="396.70" y="116.03" width="5.80" height="1.55" fill="#aba6dc"/>
<rect x="396.70" y="117.58" width="5.80" height="2.14" fill="#2f55ab"/>
<rect x="396.70" y="119.73" width="5.80" height="0.83" fill="#2f55ab"/>
<rect x="396.70" y="120.56" width="5.80" height="1.15" fill="#aba6dc"/>
<rect x="396.70" y="121.71" width="5.80" height="2.05" fill="#2f55ab"/>
<rect x="396.70" y="123.76" width="5.80" height="1.88" fill="#2f55ab"/>
<rect x="396.70" y="125.64" width="5.80" height="1.06" fill="#2f55ab"/>
<rect x="396.70" y="126.70" width="5.80" height="1.39" fill="#2f55ab"/>
<rect x="396.70" y="128.08" width="5.80" height="1.17" fill="#2f55ab"/>
<rect x="396.70" y="129.25" width="5.80" height="1.77" fill="#2f55ab"/>
<rect x="396.70" y="131.02" width="5.80" height="1.32" fill="#2f55ab"/>
<rect x="396.70" y="132.34" width="5.80" height="1.82" fill="#2f55ab"/>
<rect x="396.70" y="134.16" width="5.80" height="1.84" fill="#2f55ab"/>
<rect x="396.70" y="136.00" width="5.80" height="2.00" fill="#2f55ab"/>
<rect x="396.70" y="137.99" width="5.80" height="2.11" fill="#aba6dc"/>
<rect x="396.70" y="140.10" width="5.80" height="1.98" fill="#2f55ab"/>
<rect x="396.70" y="142.08" width="5.80" height="1.85" fill="#2f55ab"/>
<rect x="396.70" y="143.93" width="5.80" height="2.04" fill="#2f55ab"/>
<rect x="396.70" y="145.97" width="5.80" height="1.29" fill="#7e7fc8"/>
<rect x="396.70" y="147.26" width="5.80" height="2.19" fill="#2f55ab"/>
<rect x="396.70" y="149.45" width="5.80" height="1.00" fill="#2f55ab"/>
<rect x="396.70" y="150.45" width="5.80" height="1.72" fill="#2f55ab"/>
<rect x="396.70" y="152.17" width="5.80" height="1.62" fill="#2f55ab"/>
<rect x="396.70" y="153.79" width="5.80" height="1.92" fill="#2f55ab"/>
<rect x="396.70" y="155.71" width="5.80" height="1.00" fill="#2f55ab"/>
<rect x="396.70" y="156.71" width="5.80" height="1.85" fill="#2f55ab"/>
<rect x="396.70" y="158.56" width="5.80" height="1.84" fill="#2f55ab"/>
<rect x="396.70" y="160.40" width="5.80" height="0.85" fill="#aba6dc"/>
<rect x="396.70" y="161.25" width="5.80" height="1.71" fill="#2f55ab"/>
<rect x="396.70" y="162.95" width="5.80" height="0.92" fill="#aba6dc"/>
<rect x="396.70" y="163.87" width="5.80" height="1.73" fill="#2f55ab"/>
<rect x="396.70" y="165.61" width="5.80" height="1.17" fill="#2f55ab"/>
<rect x="396.70" y="166.77" width="5.80" height="0.83" fill="#2f55ab"/>
<rect x="396.70" y="167.60" width="5.80" height="1.14" fill="#2f55ab"/>
<rect x="396.70" y="168.74" width="5.80" height="1.53" fill="#7e7fc8"/>
<rect x="396.70" y="170.27" width="5.80" height="0.91" fill="#aba6dc"/>
<rect x="396.70" y="171.18" width="5.80" height="1.66" fill="#2f55ab"/>
<rect x="396.70" y="172.84" width="5.80" height="1.70" fill="#aba6dc"/>
<rect x="396.70" y="174.54" width="5.80" height="1.16" fill="#2f55ab"/>
<rect x="396.70" y="175.71" width="5.80" height="1.68" fill="#2f55ab"/>
<rect x="396.70" y="177.38" width="5.80" height="1.06" fill="#2f55ab"/>
<rect x="396.70" y="178.44" width="5.80" height="1.80" fill="#2f55ab"/>
<rect x="396.70" y="180.24" width="5.80" height="1.25" fill="#2f55ab"/>
<rect x="396.70" y="181.49" width="5.80" height="0.01" fill="#aba6dc"/>
<rect x="402.50" y="26.90" width="5.80" height="28.80" fill="#f8d8d0"/>
<rect x="402.50" y="50.00" width="5.80" height="2.00" fill="#f7bcae"/>
<rect x="402.50" y="55.70" width="5.80" height="125.80" fill="#2f55ab"/>
<rect x="402.50" y="93.30" width="5.80" height="1.00" fill="#f3ecf0"/>
<rect x="402.50" y="151.50" width="5.80" height="4.80" fill="#f3ecf0"/>
<rect x="314.80" y="27.00" width="6.20" height="154.50" fill="#1f5e8c"/>
<rect x="314.80" y="27.00" width="6.20" height="0.84" fill="#19467a"/>
<rect x="314.80" y="27.84" width="6.20" height="1.09" fill="#21795e"/>
<rect x="314.80" y="28.93" width="6.20" height="1.10" fill="#1c5086"/>
<rect x="314.80" y="30.03" width="6.20" height="1.04" fill="#25836a"/>
<rect x="314.80" y="31.06" width="6.20" height="0.72" fill="#1c5086"/>
<rect x="314.80" y="31.78" width="6.20" height="0.88" fill="#25836a"/>
<rect x="314.80" y="32.65" width="6.20" height="0.94" fill="#1c5086"/>
<rect x="314.80" y="33.59" width="6.20" height="0.83" fill="#2a84a0"/>
<rect x="314.80" y="34.42" width="6.20" height="0.75" fill="#174272"/>
<rect x="314.80" y="35.17" width="6.20" height="0.82" fill="#2a84a0"/>
<rect x="314.80" y="35.99" width="6.20" height="0.96" fill="#1c5086"/>
<rect x="314.80" y="36.94" width="6.20" height="1.26" fill="#2270a0"/>
<rect x="314.80" y="38.20" width="6.20" height="0.50" fill="#6aa8c4"/>
<rect x="314.80" y="38.70" width="6.20" height="1.04" fill="#1c5086"/>
<rect x="314.80" y="39.74" width="6.20" height="0.85" fill="#2578a0"/>
<rect x="314.80" y="40.59" width="6.20" height="0.50" fill="#78b4cc"/>
<rect x="314.80" y="41.09" width="6.20" height="0.99" fill="#1c5086"/>
<rect x="314.80" y="42.08" width="6.20" height="1.23" fill="#2270a0"/>
<rect x="314.80" y="43.31" width="6.20" height="0.50" fill="#8cc4d8"/>
<rect x="314.80" y="43.81" width="6.20" height="0.87" fill="#174272"/>
<rect x="314.80" y="44.68" width="6.20" height="1.00" fill="#318ea4"/>
<rect x="314.80" y="45.68" width="6.20" height="0.50" fill="#8cc4d8"/>
<rect x="314.80" y="46.18" width="6.20" height="1.03" fill="#174272"/>
<rect x="314.80" y="47.21" width="6.20" height="1.30" fill="#2a84a0"/>
<rect x="314.80" y="48.50" width="6.20" height="1.08" fill="#19467a"/>
<rect x="314.80" y="49.59" width="6.20" height="1.25" fill="#318ea4"/>
<rect x="314.80" y="50.84" width="6.20" height="0.92" fill="#174272"/>
<rect x="314.80" y="51.75" width="6.20" height="1.29" fill="#2578a0"/>
<rect x="314.80" y="53.05" width="6.20" height="0.50" fill="#78b4cc"/>
<rect x="314.80" y="53.55" width="6.20" height="1.03" fill="#19467a"/>
<rect x="314.80" y="54.58" width="6.20" height="1.29" fill="#2270a0"/>
<rect x="314.80" y="55.87" width="6.20" height="0.50" fill="#78b4cc"/>
<rect x="314.80" y="56.37" width="6.20" height="0.61" fill="#1c5086"/>
<rect x="314.80" y="56.98" width="6.20" height="1.01" fill="#2578a0"/>
<rect x="314.80" y="57.99" width="6.20" height="0.50" fill="#78b4cc"/>
<rect x="314.80" y="58.49" width="6.20" height="0.79" fill="#19467a"/>
<rect x="314.80" y="59.28" width="6.20" height="1.09" fill="#2a84a0"/>
<rect x="314.80" y="60.38" width="6.20" height="1.10" fill="#1c5086"/>
<rect x="314.80" y="61.48" width="6.20" height="0.95" fill="#2578a0"/>
<rect x="314.80" y="62.43" width="6.20" height="0.50" fill="#6aa8c4"/>
<rect x="314.80" y="62.93" width="6.20" height="1.07" fill="#174272"/>
<rect x="314.80" y="64.00" width="6.20" height="1.29" fill="#2a84a0"/>
<rect x="314.80" y="65.29" width="6.20" height="0.50" fill="#8cc4d8"/>
<rect x="314.80" y="65.79" width="6.20" height="1.09" fill="#19467a"/>
<rect x="314.80" y="66.88" width="6.20" height="0.97" fill="#2a84a0"/>
<rect x="314.80" y="67.85" width="6.20" height="0.50" fill="#78b4cc"/>
<rect x="314.80" y="68.35" width="6.20" height="0.83" fill="#1c5086"/>
<rect x="314.80" y="69.18" width="6.20" height="1.06" fill="#2270a0"/>
<rect x="314.80" y="70.24" width="6.20" height="0.91" fill="#174272"/>
<rect x="314.80" y="71.15" width="6.20" height="1.27" fill="#2a84a0"/>
<rect x="314.80" y="72.42" width="6.20" height="1.07" fill="#1c5086"/>
<rect x="314.80" y="73.49" width="6.20" height="1.02" fill="#2578a0"/>
<rect x="314.80" y="74.51" width="6.20" height="0.50" fill="#8cc4d8"/>
<rect x="314.80" y="75.01" width="6.20" height="0.61" fill="#174272"/>
<rect x="314.80" y="75.61" width="6.20" height="1.01" fill="#318ea4"/>
<rect x="314.80" y="76.62" width="6.20" height="0.91" fill="#19467a"/>
<rect x="314.80" y="77.53" width="6.20" height="1.12" fill="#2270a0"/>
<rect x="314.80" y="78.65" width="6.20" height="0.50" fill="#6aa8c4"/>
<rect x="314.80" y="79.15" width="6.20" height="0.78" fill="#1c5086"/>
<rect x="314.80" y="79.92" width="6.20" height="1.26" fill="#2270a0"/>
<rect x="314.80" y="81.18" width="6.20" height="0.61" fill="#1c5086"/>
<rect x="314.80" y="81.79" width="6.20" height="0.83" fill="#2270a0"/>
<rect x="314.80" y="82.62" width="6.20" height="0.91" fill="#1c5086"/>
<rect x="314.80" y="83.54" width="6.20" height="0.95" fill="#318ea4"/>
<rect x="314.80" y="84.49" width="6.20" height="0.69" fill="#19467a"/>
<rect x="314.80" y="85.18" width="6.20" height="1.18" fill="#318ea4"/>
<rect x="314.80" y="86.36" width="6.20" height="0.99" fill="#1c5086"/>
<rect x="314.80" y="87.35" width="6.20" height="0.85" fill="#318ea4"/>
<rect x="314.80" y="88.20" width="6.20" height="0.76" fill="#174272"/>
<rect x="314.80" y="88.96" width="6.20" height="0.91" fill="#2578a0"/>
<rect x="314.80" y="89.87" width="6.20" height="0.69" fill="#19467a"/>
<rect x="314.80" y="90.56" width="6.20" height="1.02" fill="#318ea4"/>
<rect x="314.80" y="91.58" width="6.20" height="1.07" fill="#19467a"/>
<rect x="314.80" y="92.65" width="6.20" height="1.14" fill="#318ea4"/>
<rect x="314.80" y="93.79" width="6.20" height="0.50" fill="#78b4cc"/>
<rect x="314.80" y="94.29" width="6.20" height="0.97" fill="#19467a"/>
<rect x="314.80" y="95.26" width="6.20" height="0.91" fill="#318ea4"/>
<rect x="314.80" y="96.17" width="6.20" height="0.99" fill="#1c5086"/>
<rect x="314.80" y="97.17" width="6.20" height="0.82" fill="#2578a0"/>
<rect x="314.80" y="97.98" width="6.20" height="1.03" fill="#1c5086"/>
<rect x="314.80" y="99.01" width="6.20" height="0.97" fill="#2578a0"/>
<rect x="314.80" y="99.98" width="6.20" height="0.89" fill="#19467a"/>
<rect x="314.80" y="100.88" width="6.20" height="1.01" fill="#318ea4"/>
<rect x="314.80" y="101.89" width="6.20" height="0.77" fill="#1c5086"/>
<rect x="314.80" y="102.66" width="6.20" height="1.01" fill="#2270a0"/>
<rect x="314.80" y="103.67" width="6.20" height="0.50" fill="#8cc4d8"/>
<rect x="314.80" y="104.17" width="6.20" height="0.68" fill="#19467a"/>
<rect x="314.80" y="104.85" width="6.20" height="0.80" fill="#2270a0"/>
<rect x="314.80" y="105.65" width="6.20" height="0.88" fill="#174272"/>
<rect x="314.80" y="106.53" width="6.20" height="1.29" fill="#2270a0"/>
<rect x="314.80" y="107.82" width="6.20" height="1.02" fill="#19467a"/>
<rect x="314.80" y="108.84" width="6.20" height="1.13" fill="#2270a0"/>
<rect x="314.80" y="109.97" width="6.20" height="1.04" fill="#1c5086"/>
<rect x="314.80" y="111.02" width="6.20" height="1.23" fill="#318ea4"/>
<rect x="314.80" y="112.25" width="6.20" height="1.01" fill="#1c5086"/>
<rect x="314.80" y="113.26" width="6.20" height="0.82" fill="#2a84a0"/>
<rect x="314.80" y="114.08" width="6.20" height="1.05" fill="#174272"/>
<rect x="314.80" y="115.13" width="6.20" height="1.25" fill="#2578a0"/>
<rect x="314.80" y="116.38" width="6.20" height="0.97" fill="#19467a"/>
<rect x="314.80" y="117.35" width="6.20" height="0.89" fill="#2270a0"/>
<rect x="314.80" y="118.23" width="6.20" height="0.50" fill="#6aa8c4"/>
<rect x="314.80" y="118.73" width="6.20" height="0.63" fill="#19467a"/>
<rect x="314.80" y="119.36" width="6.20" height="1.26" fill="#2270a0"/>
<rect x="314.80" y="120.62" width="6.20" height="0.50" fill="#78b4cc"/>
<rect x="314.80" y="121.12" width="6.20" height="1.01" fill="#1c5086"/>
<rect x="314.80" y="122.12" width="6.20" height="0.83" fill="#2270a0"/>
<rect x="314.80" y="122.95" width="6.20" height="0.50" fill="#78b4cc"/>
<rect x="314.80" y="123.45" width="6.20" height="0.69" fill="#174272"/>
<rect x="314.80" y="124.14" width="6.20" height="1.20" fill="#2a84a0"/>
<rect x="314.80" y="125.34" width="6.20" height="0.84" fill="#19467a"/>
<rect x="314.80" y="126.18" width="6.20" height="1.09" fill="#2a84a0"/>
<rect x="314.80" y="127.26" width="6.20" height="0.50" fill="#8cc4d8"/>
<rect x="314.80" y="127.76" width="6.20" height="0.91" fill="#19467a"/>
<rect x="314.80" y="128.67" width="6.20" height="1.06" fill="#318ea4"/>
<rect x="314.80" y="129.73" width="6.20" height="0.50" fill="#8cc4d8"/>
<rect x="314.80" y="130.23" width="6.20" height="0.99" fill="#19467a"/>
<rect x="314.80" y="131.22" width="6.20" height="0.82" fill="#2a84a0"/>
<rect x="314.80" y="132.04" width="6.20" height="0.50" fill="#8cc4d8"/>
<rect x="314.80" y="132.54" width="6.20" height="0.86" fill="#19467a"/>
<rect x="314.80" y="133.40" width="6.20" height="1.04" fill="#2a84a0"/>
<rect x="314.80" y="134.45" width="6.20" height="0.50" fill="#78b4cc"/>
<rect x="314.80" y="134.95" width="6.20" height="0.92" fill="#1c5086"/>
<rect x="314.80" y="135.87" width="6.20" height="1.09" fill="#2270a0"/>
<rect x="314.80" y="136.96" width="6.20" height="0.50" fill="#78b4cc"/>
<rect x="314.80" y="137.46" width="6.20" height="0.66" fill="#1c5086"/>
<rect x="314.80" y="138.13" width="6.20" height="1.08" fill="#2270a0"/>
<rect x="314.80" y="139.20" width="6.20" height="0.88" fill="#1c5086"/>
<rect x="314.80" y="140.09" width="6.20" height="0.82" fill="#2a84a0"/>
<rect x="314.80" y="140.91" width="6.20" height="0.50" fill="#6aa8c4"/>
<rect x="314.80" y="141.41" width="6.20" height="0.92" fill="#174272"/>
<rect x="314.80" y="142.33" width="6.20" height="0.82" fill="#2270a0"/>
<rect x="314.80" y="143.15" width="6.20" height="0.91" fill="#19467a"/>
<rect x="314.80" y="144.06" width="6.20" height="1.18" fill="#318ea4"/>
<rect x="314.80" y="145.24" width="6.20" height="0.50" fill="#6aa8c4"/>
<rect x="314.80" y="145.74" width="6.20" height="0.61" fill="#1c5086"/>
<rect x="314.80" y="146.35" width="6.20" height="0.91" fill="#2270a0"/>
<rect x="314.80" y="147.26" width="6.20" height="0.50" fill="#6aa8c4"/>
<rect x="314.80" y="147.76" width="6.20" height="0.71" fill="#19467a"/>
<rect x="314.80" y="148.47" width="6.20" height="0.87" fill="#2270a0"/>
<rect x="314.80" y="149.34" width="6.20" height="0.50" fill="#8cc4d8"/>
<rect x="314.80" y="149.84" width="6.20" height="0.66" fill="#1c5086"/>
<rect x="314.80" y="150.50" width="6.20" height="1.15" fill="#318ea4"/>
<rect x="314.80" y="151.64" width="6.20" height="0.93" fill="#174272"/>
<rect x="314.80" y="152.58" width="6.20" height="1.17" fill="#2270a0"/>
<rect x="314.80" y="153.74" width="6.20" height="0.84" fill="#19467a"/>
<rect x="314.80" y="154.58" width="6.20" height="0.92" fill="#2a84a0"/>
<rect x="314.80" y="155.50" width="6.20" height="0.50" fill="#6aa8c4"/>
<rect x="314.80" y="156.00" width="6.20" height="0.93" fill="#19467a"/>
<rect x="314.80" y="156.93" width="6.20" height="0.99" fill="#2a84a0"/>
<rect x="314.80" y="157.92" width="6.20" height="0.61" fill="#1c5086"/>
<rect x="314.80" y="158.53" width="6.20" height="0.86" fill="#2a84a0"/>
<rect x="314.80" y="159.39" width="6.20" height="0.50" fill="#6aa8c4"/>
<rect x="314.80" y="159.89" width="6.20" height="1.00" fill="#1c5086"/>
<rect x="314.80" y="160.89" width="6.20" height="0.82" fill="#318ea4"/>
<rect x="314.80" y="161.70" width="6.20" height="0.65" fill="#174272"/>
<rect x="314.80" y="162.36" width="6.20" height="1.17" fill="#2578a0"/>
<rect x="314.80" y="163.53" width="6.20" height="1.03" fill="#19467a"/>
<rect x="314.80" y="164.57" width="6.20" height="0.89" fill="#318ea4"/>
<rect x="314.80" y="165.46" width="6.20" height="0.50" fill="#78b4cc"/>
<rect x="314.80" y="165.96" width="6.20" height="0.83" fill="#174272"/>
<rect x="314.80" y="166.78" width="6.20" height="1.15" fill="#2578a0"/>
<rect x="314.80" y="167.93" width="6.20" height="0.90" fill="#1c5086"/>
<rect x="314.80" y="168.83" width="6.20" height="1.27" fill="#318ea4"/>
<rect x="314.80" y="170.10" width="6.20" height="0.85" fill="#19467a"/>
<rect x="314.80" y="170.95" width="6.20" height="1.29" fill="#2270a0"/>
<rect x="314.80" y="172.24" width="6.20" height="0.50" fill="#6aa8c4"/>
<rect x="314.80" y="172.74" width="6.20" height="0.95" fill="#19467a"/>
<rect x="314.80" y="173.69" width="6.20" height="1.18" fill="#2270a0"/>
<rect x="314.80" y="174.86" width="6.20" height="0.68" fill="#174272"/>
<rect x="314.80" y="175.54" width="6.20" height="1.00" fill="#2270a0"/>
<rect x="314.80" y="176.54" width="6.20" height="0.85" fill="#19467a"/>
<rect x="314.80" y="177.39" width="6.20" height="1.04" fill="#2a84a0"/>
<rect x="314.80" y="178.43" width="6.20" height="0.67" fill="#1c5086"/>
<rect x="314.80" y="179.10" width="6.20" height="1.18" fill="#2578a0"/>
<rect x="314.80" y="180.28" width="6.20" height="0.50" fill="#6aa8c4"/>
<rect x="314.80" y="180.78" width="6.20" height="0.72" fill="#1c5086"/>
<rect x="321.00" y="27.00" width="1.20" height="154.50" fill="#c4e6f5"/>
<rect x="313.90" y="27.50" width="0.8" height="1.28" fill="#3a3a4a" opacity="0.64" class="a"/>
<rect x="313.90" y="31.46" width="0.8" height="1.10" fill="#3a3a4a" opacity="0.59" class="a"/>
<rect x="313.90" y="35.52" width="0.8" height="1.39" fill="#3a3a4a" opacity="0.45" class="a"/>
<rect x="313.90" y="38.30" width="0.8" height="1.30" fill="#3a3a4a" opacity="0.40" class="a"/>
<rect x="313.90" y="41.66" width="0.8" height="0.74" fill="#3a3a4a" opacity="0.54" class="a"/>
<rect x="313.90" y="45.10" width="0.8" height="0.92" fill="#3a3a4a" opacity="0.65" class="a"/>
<rect x="313.90" y="48.36" width="0.8" height="0.71" fill="#3a3a4a" opacity="0.59" class="a"/>
<rect x="313.90" y="51.85" width="0.8" height="1.15" fill="#3a3a4a" opacity="0.31" class="a"/>
<rect x="313.90" y="55.98" width="0.8" height="0.57" fill="#3a3a4a" opacity="0.77" class="a"/>
<rect x="313.90" y="59.08" width="0.8" height="1.38" fill="#3a3a4a" opacity="0.32" class="a"/>
<rect x="313.90" y="63.27" width="0.8" height="1.39" fill="#3a3a4a" opacity="0.62" class="a"/>
<rect x="313.90" y="67.17" width="0.8" height="0.57" fill="#3a3a4a" opacity="0.41" class="a"/>
<rect x="313.90" y="69.10" width="0.8" height="1.39" fill="#3a3a4a" opacity="0.69" class="a"/>
<rect x="313.90" y="71.59" width="0.8" height="1.12" fill="#3a3a4a" opacity="0.64" class="a"/>
<rect x="313.90" y="73.59" width="0.8" height="1.43" fill="#3a3a4a" opacity="0.38" class="a"/>
<rect x="313.90" y="75.92" width="0.8" height="0.68" fill="#3a3a4a" opacity="0.35" class="a"/>
<rect x="313.90" y="79.16" width="0.8" height="0.62" fill="#3a3a4a" opacity="0.43" class="a"/>
<rect x="313.90" y="82.59" width="0.8" height="0.54" fill="#3a3a4a" opacity="0.53" class="a"/>
<rect x="313.90" y="85.54" width="0.8" height="0.84" fill="#3a3a4a" opacity="0.31" class="a"/>
<rect x="313.90" y="87.91" width="0.8" height="0.88" fill="#3a3a4a" opacity="0.34" class="a"/>
<rect x="313.90" y="91.01" width="0.8" height="1.24" fill="#3a3a4a" opacity="0.54" class="a"/>
<rect x="313.90" y="93.33" width="0.8" height="0.82" fill="#3a3a4a" opacity="0.74" class="a"/>
<rect x="313.90" y="95.11" width="0.8" height="0.93" fill="#3a3a4a" opacity="0.52" class="a"/>
<rect x="313.90" y="98.00" width="0.8" height="0.75" fill="#3a3a4a" opacity="0.56" class="a"/>
<rect x="313.90" y="101.10" width="0.8" height="1.18" fill="#3a3a4a" opacity="0.48" class="a"/>
<rect x="313.90" y="104.07" width="0.8" height="1.16" fill="#3a3a4a" opacity="0.63" class="a"/>
<rect x="313.90" y="108.11" width="0.8" height="1.32" fill="#3a3a4a" opacity="0.35" class="a"/>
<rect x="313.90" y="112.30" width="0.8" height="0.84" fill="#3a3a4a" opacity="0.58" class="a"/>
<rect x="313.90" y="115.10" width="0.8" height="1.17" fill="#3a3a4a" opacity="0.55" class="a"/>
<rect x="313.90" y="117.19" width="0.8" height="0.79" fill="#3a3a4a" opacity="0.66" class="a"/>
<rect x="313.90" y="120.42" width="0.8" height="1.15" fill="#3a3a4a" opacity="0.67" class="a"/>
<rect x="313.90" y="122.70" width="0.8" height="0.87" fill="#3a3a4a" opacity="0.76" class="a"/>
<rect x="313.90" y="125.37" width="0.8" height="0.61" fill="#3a3a4a" opacity="0.58" class="a"/>
<rect x="313.90" y="128.80" width="0.8" height="1.14" fill="#3a3a4a" opacity="0.62" class="a"/>
<rect x="313.90" y="131.67" width="0.8" height="0.80" fill="#3a3a4a" opacity="0.39" class="a"/>
<rect x="313.90" y="134.33" width="0.8" height="1.28" fill="#3a3a4a" opacity="0.65" class="a"/>
<rect x="313.90" y="136.65" width="0.8" height="0.68" fill="#3a3a4a" opacity="0.58" class="a"/>
<rect x="313.90" y="139.40" width="0.8" height="0.89" fill="#3a3a4a" opacity="0.35" class="a"/>
<rect x="313.90" y="141.69" width="0.8" height="0.55" fill="#3a3a4a" opacity="0.37" class="a"/>
<rect x="313.90" y="144.09" width="0.8" height="0.77" fill="#3a3a4a" opacity="0.65" class="a"/>
<rect x="313.90" y="146.80" width="0.8" height="1.38" fill="#3a3a4a" opacity="0.77" class="a"/>
<rect x="313.90" y="149.96" width="0.8" height="1.31" fill="#3a3a4a" opacity="0.33" class="a"/>
<rect x="313.90" y="153.16" width="0.8" height="1.50" fill="#3a3a4a" opacity="0.38" class="a"/>
<rect x="313.90" y="156.76" width="0.8" height="1.18" fill="#3a3a4a" opacity="0.58" class="a"/>
<rect x="313.90" y="160.74" width="0.8" height="0.61" fill="#3a3a4a" opacity="0.65" class="a"/>
<rect x="313.90" y="163.40" width="0.8" height="1.17" fill="#3a3a4a" opacity="0.50" class="a"/>
<rect x="313.90" y="167.53" width="0.8" height="0.63" fill="#3a3a4a" opacity="0.60" class="a"/>
<rect x="313.90" y="170.85" width="0.8" height="1.30" fill="#3a3a4a" opacity="0.57" class="a"/>
<rect x="313.90" y="173.33" width="0.8" height="0.68" fill="#3a3a4a" opacity="0.73" class="a"/>
<rect x="313.90" y="175.62" width="0.8" height="0.79" fill="#3a3a4a" opacity="0.72" class="a"/>
<rect x="313.90" y="178.19" width="0.8" height="0.91" fill="#3a3a4a" opacity="0.71" class="a"/>
<rect x="313.90" y="180.59" width="0.8" height="1.41" fill="#3a3a4a" opacity="0.45" class="a"/>
<rect x="26.90" y="183.20" width="35.94" height="5.62" fill="#1f72bf" class="a"/>
<rect x="62.84" y="183.20" width="35.94" height="5.62" fill="#e8ba26" class="a"/>
<rect x="26.90" y="189.62" width="71.88" height="5.62" fill="#1f4fa3" class="a"/>
<rect x="26.90" y="196.04" width="11.98" height="5.62" fill="#454545" class="a"/>
<rect x="38.88" y="196.04" width="11.98" height="5.62" fill="#9b9b9b" class="a"/>
<rect x="50.86" y="196.04" width="11.98" height="5.62" fill="#454545" class="a"/>
<rect x="62.84" y="196.04" width="35.94" height="5.62" fill="#9b9b9b" class="a"/>
<rect x="26.90" y="202.46" width="71.88" height="5.62" fill="#c8c8c8" class="a"/>
<rect x="26.90" y="208.88" width="71.88" height="5.62" fill="#c8c8c8" class="a"/>
<rect x="26.90" y="215.30" width="23.96" height="5.62" fill="#c9c9c9" class="a"/>
<rect x="50.86" y="215.30" width="47.92" height="5.62" fill="#92c6e6" class="a"/>
<rect x="26.90" y="221.72" width="35.94" height="5.62" fill="#c9c9c9" class="a"/>
<rect x="62.84" y="221.72" width="35.94" height="5.62" fill="#cf1f2f" class="a"/>
<rect x="26.90" y="228.14" width="23.96" height="5.62" fill="#c9c9c9" class="a"/>
<rect x="50.86" y="228.14" width="23.96" height="5.62" fill="#92c6e6" class="a"/>
<rect x="74.82" y="228.14" width="11.98" height="5.62" fill="#f6a283" class="a"/>
<rect x="86.80" y="228.14" width="11.98" height="5.62" fill="#92c6e6" class="a"/>
<rect x="156.60" y="185.60" width="60.00" height="5.65" fill="#1f72bf" class="a"/>
<rect x="216.60" y="185.60" width="36.00" height="5.65" fill="#e8ba26" class="a"/>
<rect x="252.60" y="185.60" width="12.00" height="5.65" fill="#1f72bf" class="a"/>
<rect x="156.60" y="192.05" width="36.00" height="5.65" fill="#1f4fa3" class="a"/>
<rect x="192.60" y="192.05" width="12.00" height="5.65" fill="#99183a" class="a"/>
<rect x="204.60" y="192.05" width="12.00" height="5.65" fill="#1f4fa3" class="a"/>
<rect x="216.60" y="192.05" width="36.00" height="5.65" fill="#d9c0c8" class="a"/>
<rect x="252.60" y="192.05" width="12.00" height="5.65" fill="#1f4fa3" class="a"/>
<rect x="156.60" y="198.50" width="108.00" height="5.65" fill="#9b9b9b" class="a"/>
<rect x="156.60" y="204.95" width="108.00" height="5.65" fill="#c8c8c8" class="a"/>
<rect x="156.60" y="211.40" width="108.00" height="5.65" fill="#c8c8c8" class="a"/>
<rect x="156.60" y="217.85" width="12.00" height="5.65" fill="#92c6e6" class="a"/>
<rect x="168.60" y="217.85" width="36.00" height="5.65" fill="#c9c9c9" class="a"/>
<rect x="204.60" y="217.85" width="60.00" height="5.65" fill="#92c6e6" class="a"/>
<rect x="156.60" y="224.30" width="36.00" height="5.65" fill="#c9c9c9" class="a"/>
<rect x="192.60" y="224.30" width="24.00" height="5.65" fill="#f6a283" class="a"/>
<rect x="216.60" y="224.30" width="12.00" height="5.65" fill="#c9c9c9" class="a"/>
<rect x="228.60" y="224.30" width="24.00" height="5.65" fill="#f6a283" class="a"/>
<rect x="252.60" y="224.30" width="12.00" height="5.65" fill="#c9c9c9" class="a"/>
<rect x="156.60" y="230.75" width="12.00" height="5.65" fill="#c9c9c9" class="a"/>
<rect x="168.60" y="230.75" width="12.00" height="5.65" fill="#1c68ae" class="a"/>
<rect x="180.60" y="230.75" width="24.00" height="5.65" fill="#92c6e6" class="a"/>
<rect x="204.60" y="230.75" width="60.00" height="5.65" fill="#f6a283" class="a"/>
<rect x="322.80" y="183.20" width="35.76" height="5.62" fill="#1f72bf" class="a"/>
<rect x="358.56" y="183.20" width="35.76" height="5.62" fill="#e8ba26" class="a"/>
<rect x="322.80" y="189.62" width="11.92" height="5.62" fill="#99183a" class="a"/>
<rect x="334.72" y="189.62" width="59.60" height="5.62" fill="#1f4fa3" class="a"/>
<rect x="322.80" y="196.04" width="71.52" height="5.62" fill="#9b9b9b" class="a"/>
<rect x="322.80" y="202.46" width="71.52" height="5.62" fill="#34a05c" class="a"/>
<rect x="322.80" y="208.88" width="71.52" height="5.62" fill="#c8c8c8" class="a"/>
<rect x="322.80" y="215.30" width="71.52" height="5.62" fill="#92c6e6" class="a"/>
<rect x="322.80" y="221.72" width="47.68" height="5.62" fill="#cf1f2f" class="a"/>
<rect x="370.48" y="221.72" width="23.84" height="5.62" fill="#f6a283" class="a"/>
<rect x="322.80" y="228.14" width="35.76" height="5.62" fill="#c9c9c9" class="a"/>
<rect x="358.56" y="228.14" width="11.92" height="5.62" fill="#f6a283" class="a"/>
<rect x="370.48" y="228.14" width="11.92" height="5.62" fill="#c9c9c9" class="a"/>
<rect x="382.40" y="228.14" width="11.92" height="5.62" fill="#f6a283" class="a"/>
<text x="100.60" y="188.16" font-size="5" text-anchor="start" fill="#2b2b2b">Type</text>
<text x="100.60" y="194.58" font-size="5" text-anchor="start" fill="#2b2b2b">Histology</text>
<text x="100.60" y="201.00" font-size="5" text-anchor="start" fill="#2b2b2b">ERG</text>
<text x="100.60" y="207.42" font-size="5" text-anchor="start" fill="#2b2b2b">TP53</text>
<text x="100.60" y="213.84" font-size="5" text-anchor="start" fill="#2b2b2b">SPOP</text>
<text x="100.60" y="220.26" font-size="5" text-anchor="start" fill="#2b2b2b">PTEN</text>
<text x="100.60" y="226.68" font-size="5" text-anchor="start" fill="#2b2b2b">AR</text>
<text x="100.60" y="233.10" font-size="5" text-anchor="start" fill="#2b2b2b">CHD1</text>
<text x="266.20" y="190.57" font-size="5" text-anchor="start" fill="#2b2b2b">Type</text>
<text x="266.20" y="197.02" font-size="5" text-anchor="start" fill="#2b2b2b">Histology</text>
<text x="266.20" y="203.47" font-size="5" text-anchor="start" fill="#2b2b2b">ERG</text>
<text x="266.20" y="209.92" font-size="5" text-anchor="start" fill="#2b2b2b">TP53</text>
<text x="266.20" y="216.38" font-size="5" text-anchor="start" fill="#2b2b2b">SPOP</text>
<text x="266.20" y="222.82" font-size="5" text-anchor="start" fill="#2b2b2b">PTEN</text>
<text x="266.20" y="229.28" font-size="5" text-anchor="start" fill="#2b2b2b">AR</text>
<text x="266.20" y="235.72" font-size="5" text-anchor="start" fill="#2b2b2b">CHD1</text>
<text x="396.20" y="188.16" font-size="5" text-anchor="start" fill="#2b2b2b">Type</text>
<text x="396.20" y="194.58" font-size="5" text-anchor="start" fill="#2b2b2b">Histology</text>
<text x="396.20" y="201.00" font-size="5" text-anchor="start" fill="#2b2b2b">ERG</text>
<text x="396.20" y="207.42" font-size="5" text-anchor="start" fill="#2b2b2b">TP53</text>
<text x="396.20" y="213.84" font-size="5" text-anchor="start" fill="#2b2b2b">SPOP</text>
<text x="396.20" y="220.26" font-size="5" text-anchor="start" fill="#2b2b2b">PTEN</text>
<text x="396.20" y="226.68" font-size="5" text-anchor="start" fill="#2b2b2b">AR</text>
<text x="396.20" y="233.10" font-size="5" text-anchor="start" fill="#2b2b2b">CHD1</text>
<text transform="translate(24.60,184.00) rotate(-90)" font-size="5" text-anchor="end" fill="#2b2b2b">CpG Class</text>
<text transform="translate(154.00,186.00) rotate(-90)" font-size="5" text-anchor="end" fill="#2b2b2b">CpG Class</text>
<text transform="translate(319.80,184.00) rotate(-90)" font-size="5" text-anchor="end" fill="#2b2b2b">CpG Class</text>
<text transform="translate(34.59,235.60) rotate(-90)" font-size="5.05" text-anchor="end" fill="#2b2b2b">19–14–8–1</text>
<text transform="translate(46.57,235.60) rotate(-90)" font-size="5.05" text-anchor="end" fill="#2b2b2b">19–14–10–1</text>
<text transform="translate(58.55,235.60) rotate(-90)" font-size="5.05" text-anchor="end" fill="#2b2b2b">19–14–9–1</text>
<text transform="translate(70.53,235.60) rotate(-90)" font-size="5.05" text-anchor="end" fill="#2b2b2b">19–14–11–1</text>
<text transform="translate(82.51,235.60) rotate(-90)" font-size="5.05" text-anchor="end" fill="#2b2b2b">19–14–12–1</text>
<text transform="translate(94.49,235.60) rotate(-90)" font-size="5.05" text-anchor="end" fill="#2b2b2b">19–14–13–1</text>
<text transform="translate(164.30,238.60) rotate(-90)" font-size="5.05" text-anchor="end" fill="#2b2b2b">19–1–7–1</text>
<text transform="translate(176.30,238.60) rotate(-90)" font-size="5.05" text-anchor="end" fill="#2b2b2b">19–1–5–1</text>
<text transform="translate(188.30,238.60) rotate(-90)" font-size="5.05" text-anchor="end" fill="#2b2b2b">19–1–6–1</text>
<text transform="translate(200.30,238.60) rotate(-90)" font-size="5.05" text-anchor="end" fill="#2b2b2b">19–1–11–1</text>
<text transform="translate(212.30,238.60) rotate(-90)" font-size="5.05" text-anchor="end" fill="#2b2b2b">19–1–12–1</text>
<text transform="translate(224.30,238.60) rotate(-90)" font-size="5.05" text-anchor="end" fill="#2b2b2b">19–1–8–1</text>
<text transform="translate(236.30,238.60) rotate(-90)" font-size="5.05" text-anchor="end" fill="#2b2b2b">19–1–9–1</text>
<text transform="translate(248.30,238.60) rotate(-90)" font-size="5.05" text-anchor="end" fill="#2b2b2b">19–1–10–1</text>
<text transform="translate(260.30,238.60) rotate(-90)" font-size="5.05" text-anchor="end" fill="#2b2b2b">19–1–13–1</text>
<text transform="translate(330.46,235.40) rotate(-90)" font-size="5.05" text-anchor="end" fill="#2b2b2b">19–49–5–1</text>
<text transform="translate(342.38,235.40) rotate(-90)" font-size="5.05" text-anchor="end" fill="#2b2b2b">19–49–6–1</text>
<text transform="translate(354.30,235.40) rotate(-90)" font-size="5.05" text-anchor="end" fill="#2b2b2b">19–49–7–1</text>
<text transform="translate(366.22,235.40) rotate(-90)" font-size="5.05" text-anchor="end" fill="#2b2b2b">19–49–10–1</text>
<text transform="translate(378.14,235.40) rotate(-90)" font-size="5.05" text-anchor="end" fill="#2b2b2b">19–49–8–1</text>
<text transform="translate(390.06,235.40) rotate(-90)" font-size="5.05" text-anchor="end" fill="#2b2b2b">19–49–9–1</text>
<text x="62.50" y="5.20" font-size="6" text-anchor="middle" fill="#2b2b2b">P14</text>
<text x="207.80" y="5.30" font-size="6" text-anchor="middle" fill="#2b2b2b">P1</text>
<text x="357.80" y="5.40" font-size="6" text-anchor="middle" fill="#2b2b2b">P49</text>
<text x="106.80" y="6.40" font-size="3.2" text-anchor="middle" fill="#666" style="stroke:none">Tiss</text>
<path d="M99.80,9.5 Q99.80,8.5 100.60,8.5 L113.00,8.5 Q113.80,8.5 113.80,9.5" stroke="#777" stroke-width="0.5" fill="none"/>
<text transform="translate(105.07,25) rotate(-90)" font-size="2.9" fill="#555" style="stroke:none">Primary</text>
<text transform="translate(110.90,25) rotate(-90)" font-size="2.9" fill="#555" style="stroke:none">Metastasis</text>
<text x="272.20" y="6.40" font-size="3.2" text-anchor="middle" fill="#666" style="stroke:none">Tiss</text>
<path d="M265.00,9.5 Q265.00,8.5 265.80,8.5 L278.60,8.5 Q279.40,8.5 279.40,9.5" stroke="#777" stroke-width="0.5" fill="none"/>
<text transform="translate(270.38,25) rotate(-90)" font-size="2.9" fill="#555" style="stroke:none">Primary</text>
<text transform="translate(276.40,25) rotate(-90)" font-size="2.9" fill="#555" style="stroke:none">Metastasis</text>
<text x="402.30" y="6.40" font-size="3.2" text-anchor="middle" fill="#666" style="stroke:none">Tiss</text>
<path d="M395.20,9.5 Q395.20,8.5 396.00,8.5 L408.60,8.5 Q409.40,8.5 409.40,9.5" stroke="#777" stroke-width="0.5" fill="none"/>
<text transform="translate(400.53,25) rotate(-90)" font-size="2.9" fill="#555" style="stroke:none">Primary</text>
<text transform="translate(406.45,25) rotate(-90)" font-size="2.9" fill="#555" style="stroke:none">Metastasis</text>
<path d="M44.87,27.00 L44.87,19.00 L56.85,19.00 L56.85,27.00" stroke="#8a8a8a" stroke-width="0.6" fill="none"/>
<path d="M32.89,27.00 L32.89,17.50 L50.86,17.50 L50.86,19.00" stroke="#8a8a8a" stroke-width="0.6" fill="none"/>
<path d="M68.83,27.00 L68.83,26.30 L80.81,26.30 L80.81,27.00" stroke="#8a8a8a" stroke-width="0.6" fill="none"/>
<path d="M74.82,26.30 L74.82,23.50 L92.79,23.50 L92.79,27.00" stroke="#8a8a8a" stroke-width="0.6" fill="none"/>
<path d="M41.88,17.50 L41.88,8.50 L83.81,8.50 L83.81,23.50" stroke="#8a8a8a" stroke-width="0.6" fill="none"/>
<path d="M174.60,27.30 L174.60,23.00 L186.60,23.00 L186.60,27.30" stroke="#8a8a8a" stroke-width="0.6" fill="none"/>
<path d="M162.60,27.30 L162.60,18.00 L180.60,18.00 L180.60,23.00" stroke="#8a8a8a" stroke-width="0.6" fill="none"/>
<path d="M198.60,27.30 L198.60,17.30 L228.60,17.30 L228.60,23.00" stroke="#8a8a8a" stroke-width="0.6" fill="none"/>
<path d="M210.60,27.30 L210.60,23.00 L246.60,23.00 L246.60,24.00" stroke="#8a8a8a" stroke-width="0.6" fill="none"/>
<path d="M222.60,27.30 L222.60,24.00 L258.60,24.00 L258.60,27.30" stroke="#8a8a8a" stroke-width="0.6" fill="none"/>
<path d="M234.60,27.30 L234.60,25.60 L246.60,25.60 L246.60,27.30" stroke="#8a8a8a" stroke-width="0.6" fill="none"/>
<path d="M171.60,18.00 L171.60,8.50 L213.60,8.50 L213.60,17.30" stroke="#8a8a8a" stroke-width="0.6" fill="none"/>
<path d="M340.68,27.00 L340.68,18.30 L352.60,18.30 L352.60,27.00" stroke="#8a8a8a" stroke-width="0.6" fill="none"/>
<path d="M376.44,27.00 L376.44,25.00 L388.36,25.00 L388.36,27.00" stroke="#8a8a8a" stroke-width="0.6" fill="none"/>
<path d="M364.52,27.00 L364.52,23.50 L382.40,23.50 L382.40,25.00" stroke="#8a8a8a" stroke-width="0.6" fill="none"/>
<path d="M346.64,18.30 L346.64,11.90 L373.46,11.90 L373.46,23.50" stroke="#8a8a8a" stroke-width="0.6" fill="none"/>
<path d="M328.76,27.00 L328.76,8.10 L360.05,8.10 L360.05,11.90" stroke="#8a8a8a" stroke-width="0.6" fill="none"/>
<path d="M0.80,44.40 L13.50,44.40" stroke="#8a8a8a" stroke-width="0.6" fill="none"/>
<path d="M0.80,44.40 L0.80,94.80" stroke="#8a8a8a" stroke-width="0.6" fill="none"/>
<path d="M0.80,94.80 L9.60,94.80" stroke="#8a8a8a" stroke-width="0.6" fill="none"/>
<path d="M13.50,31.00 L13.50,58.30" stroke="#8a8a8a" stroke-width="0.6" fill="none"/>
<path d="M13.50,31.00 L16.50,31.00" stroke="#8a8a8a" stroke-width="0.6" fill="none"/>
<path d="M13.50,58.30 L16.00,58.30" stroke="#8a8a8a" stroke-width="0.6" fill="none"/>
<path d="M13.50,40.00 L15.50,40.00" stroke="#8a8a8a" stroke-width="0.6" fill="none"/>
<path d="M15.50,35.00 L15.50,48.00" stroke="#8a8a8a" stroke-width="0.6" fill="none"/>
<path d="M9.60,76.00 L9.60,146.00" stroke="#8a8a8a" stroke-width="0.6" fill="none"/>
<path d="M9.60,76.00 L15.50,76.00" stroke="#8a8a8a" stroke-width="0.6" fill="none"/>
<path d="M9.60,89.60 L12.80,89.60" stroke="#8a8a8a" stroke-width="0.6" fill="none"/>
<path d="M9.60,135.00 L13.00,135.00" stroke="#8a8a8a" stroke-width="0.6" fill="none"/>
<path d="M12.80,82.00 L12.80,104.00" stroke="#8a8a8a" stroke-width="0.6" fill="none"/>
<path d="M12.80,82.00 L16.00,82.00" stroke="#8a8a8a" stroke-width="0.6" fill="none"/>
<path d="M12.80,104.00 L15.00,104.00" stroke="#8a8a8a" stroke-width="0.6" fill="none"/>
<path d="M15.00,98.00 L15.00,118.00" stroke="#8a8a8a" stroke-width="0.6" fill="none"/>
<path d="M12.80,96.00 L14.00,96.00" stroke="#8a8a8a" stroke-width="0.6" fill="none"/>
<path d="M13.00,125.00 L13.00,145.00" stroke="#8a8a8a" stroke-width="0.6" fill="none"/>
<path d="M13.00,125.00 L16.50,125.00" stroke="#8a8a8a" stroke-width="0.6" fill="none"/>
<path d="M13.00,145.00 L16.00,145.00" stroke="#8a8a8a" stroke-width="0.6" fill="none"/>
<path d="M9.60,146.00 L11.00,146.00" stroke="#8a8a8a" stroke-width="0.6" fill="none"/>
<path d="M11.00,146.00 L11.00,160.00" stroke="#8a8a8a" stroke-width="0.6" fill="none"/>
<path d="M11.00,151.00 L14.50,151.00" stroke="#8a8a8a" stroke-width="0.6" fill="none"/>
<path d="M14.50,151.00 L14.50,170.00" stroke="#8a8a8a" stroke-width="0.6" fill="none"/>
<path d="M11.00,160.00 L16.00,160.00" stroke="#8a8a8a" stroke-width="0.6" fill="none"/>
<path d="M14.50,170.00 L16.50,170.00" stroke="#8a8a8a" stroke-width="0.6" fill="none"/>
<path d="M16.00,160.00 L16.00,178.00" stroke="#8a8a8a" stroke-width="0.6" fill="none"/>
<path d="M16.38,28.00 L18.40,28.00" stroke="#8a8a8a" stroke-width="0.4" fill="none"/>
<path d="M15.10,29.98 L18.40,29.98" stroke="#8a8a8a" stroke-width="0.4" fill="none"/>
<path d="M16.23,31.84 L18.40,31.84" stroke="#8a8a8a" stroke-width="0.4" fill="none"/>
<path d="M17.10,33.86 L18.40,33.86" stroke="#8a8a8a" stroke-width="0.4" fill="none"/>
<path d="M15.90,35.77 L18.40,35.77" stroke="#8a8a8a" stroke-width="0.4" fill="none"/>
<path d="M17.35,38.08 L18.40,38.08" stroke="#8a8a8a" stroke-width="0.4" fill="none"/>
<path d="M17.36,39.71 L18.40,39.71" stroke="#8a8a8a" stroke-width="0.4" fill="none"/>
<path d="M15.73,42.04 L18.40,42.04" stroke="#8a8a8a" stroke-width="0.4" fill="none"/>
<path d="M14.95,43.30 L18.40,43.30" stroke="#8a8a8a" stroke-width="0.4" fill="none"/>
<path d="M15.83,45.85 L18.40,45.85" stroke="#8a8a8a" stroke-width="0.4" fill="none"/>
<path d="M17.17,47.91 L18.40,47.91" stroke="#8a8a8a" stroke-width="0.4" fill="none"/>
<path d="M16.17,49.14 L18.40,49.14" stroke="#8a8a8a" stroke-width="0.4" fill="none"/>
<path d="M17.09,50.42 L18.40,50.42" stroke="#8a8a8a" stroke-width="0.4" fill="none"/>
<path d="M17.52,51.96 L18.40,51.96" stroke="#8a8a8a" stroke-width="0.4" fill="none"/>
<path d="M16.41,53.81 L18.40,53.81" stroke="#8a8a8a" stroke-width="0.4" fill="none"/>
<path d="M16.20,56.19 L18.40,56.19" stroke="#8a8a8a" stroke-width="0.4" fill="none"/>
<path d="M16.25,58.28 L18.40,58.28" stroke="#8a8a8a" stroke-width="0.4" fill="none"/>
<path d="M16.37,60.41 L18.40,60.41" stroke="#8a8a8a" stroke-width="0.4" fill="none"/>
<path d="M14.91,62.00 L18.40,62.00" stroke="#8a8a8a" stroke-width="0.4" fill="none"/>
<path d="M15.33,64.59 L18.40,64.59" stroke="#8a8a8a" stroke-width="0.4" fill="none"/>
<path d="M16.75,66.78 L18.40,66.78" stroke="#8a8a8a" stroke-width="0.4" fill="none"/>
<path d="M16.82,68.31 L18.40,68.31" stroke="#8a8a8a" stroke-width="0.4" fill="none"/>
<path d="M15.53,69.60 L18.40,69.60" stroke="#8a8a8a" stroke-width="0.4" fill="none"/>
<path d="M15.31,71.36 L18.40,71.36" stroke="#8a8a8a" stroke-width="0.4" fill="none"/>
<path d="M15.01,73.11 L18.40,73.11" stroke="#8a8a8a" stroke-width="0.4" fill="none"/>
<path d="M17.60,75.49 L18.40,75.49" stroke="#8a8a8a" stroke-width="0.4" fill="none"/>
<path d="M15.14,76.99 L18.40,76.99" stroke="#8a8a8a" stroke-width="0.4" fill="none"/>
<path d="M14.95,78.84 L18.40,78.84" stroke="#8a8a8a" stroke-width="0.4" fill="none"/>
<path d="M17.40,80.60 L18.40,80.60" stroke="#8a8a8a" stroke-width="0.4" fill="none"/>
<path d="M15.50,82.68 L18.40,82.68" stroke="#8a8a8a" stroke-width="0.4" fill="none"/>
<path d="M17.36,84.26 L18.40,84.26" stroke="#8a8a8a" stroke-width="0.4" fill="none"/>
<path d="M15.00,85.92 L18.40,85.92" stroke="#8a8a8a" stroke-width="0.4" fill="none"/>
<path d="M17.28,88.19 L18.40,88.19" stroke="#8a8a8a" stroke-width="0.4" fill="none"/>
<path d="M17.33,89.73 L18.40,89.73" stroke="#8a8a8a" stroke-width="0.4" fill="none"/>
<path d="M15.45,91.01 L18.40,91.01" stroke="#8a8a8a" stroke-width="0.4" fill="none"/>
<path d="M16.09,92.46 L18.40,92.46" stroke="#8a8a8a" stroke-width="0.4" fill="none"/>
<path d="M17.09,94.29 L18.40,94.29" stroke="#8a8a8a" stroke-width="0.4" fill="none"/>
<path d="M17.25,96.51 L18.40,96.51" stroke="#8a8a8a" stroke-width="0.4" fill="none"/>
<path d="M17.29,98.62 L18.40,98.62" stroke="#8a8a8a" stroke-width="0.4" fill="none"/>
<path d="M17.03,100.40 L18.40,100.40" stroke="#8a8a8a" stroke-width="0.4" fill="none"/>
<path d="M14.98,101.98 L18.40,101.98" stroke="#8a8a8a" stroke-width="0.4" fill="none"/>
<path d="M16.78,104.31 L18.40,104.31" stroke="#8a8a8a" stroke-width="0.4" fill="none"/>
<path d="M17.03,106.75 L18.40,106.75" stroke="#8a8a8a" stroke-width="0.4" fill="none"/>
<path d="M15.29,108.50 L18.40,108.50" stroke="#8a8a8a" stroke-width="0.4" fill="none"/>
<path d="M17.33,110.60 L18.40,110.60" stroke="#8a8a8a" stroke-width="0.4" fill="none"/>
<path d="M17.02,113.18 L18.40,113.18" stroke="#8a8a8a" stroke-width="0.4" fill="none"/>
<path d="M15.51,114.74 L18.40,114.74" stroke="#8a8a8a" stroke-width="0.4" fill="none"/>
<path d="M16.80,116.40 L18.40,116.40" stroke="#8a8a8a" stroke-width="0.4" fill="none"/>
<path d="M17.36,117.71 L18.40,117.71" stroke="#8a8a8a" stroke-width="0.4" fill="none"/>
<path d="M16.94,119.72 L18.40,119.72" stroke="#8a8a8a" stroke-width="0.4" fill="none"/>
<path d="M16.60,121.76 L18.40,121.76" stroke="#8a8a8a" stroke-width="0.4" fill="none"/>
<path d="M15.01,123.60 L18.40,123.60" stroke="#8a8a8a" stroke-width="0.4" fill="none"/>
<path d="M16.05,125.48 L18.40,125.48" stroke="#8a8a8a" stroke-width="0.4" fill="none"/>
<path d="M17.11,127.89 L18.40,127.89" stroke="#8a8a8a" stroke-width="0.4" fill="none"/>
<path d="M15.15,129.30 L18.40,129.30" stroke="#8a8a8a" stroke-width="0.4" fill="none"/>
<path d="M16.93,131.65 L18.40,131.65" stroke="#8a8a8a" stroke-width="0.4" fill="none"/>
<path d="M15.60,133.12 L18.40,133.12" stroke="#8a8a8a" stroke-width="0.4" fill="none"/>
<path d="M17.07,135.63 L18.40,135.63" stroke="#8a8a8a" stroke-width="0.4" fill="none"/>
<path d="M15.22,138.16 L18.40,138.16" stroke="#8a8a8a" stroke-width="0.4" fill="none"/>
<path d="M16.46,140.21 L18.40,140.21" stroke="#8a8a8a" stroke-width="0.4" fill="none"/>
<path d="M17.50,141.55 L18.40,141.55" stroke="#8a8a8a" stroke-width="0.4" fill="none"/>
<path d="M16.96,144.10 L18.40,144.10" stroke="#8a8a8a" stroke-width="0.4" fill="none"/>
<path d="M16.91,146.29 L18.40,146.29" stroke="#8a8a8a" stroke-width="0.4" fill="none"/>
<path d="M15.99,148.64 L18.40,148.64" stroke="#8a8a8a" stroke-width="0.4" fill="none"/>
<path d="M17.13,150.25 L18.40,150.25" stroke="#8a8a8a" stroke-width="0.4" fill="none"/>
<path d="M17.41,152.46 L18.40,152.46" stroke="#8a8a8a" stroke-width="0.4" fill="none"/>
<path d="M16.09,153.98 L18.40,153.98" stroke="#8a8a8a" stroke-width="0.4" fill="none"/>
<path d="M15.94,156.37 L18.40,156.37" stroke="#8a8a8a" stroke-width="0.4" fill="none"/>
<path d="M15.12,157.96 L18.40,157.96" stroke="#8a8a8a" stroke-width="0.4" fill="none"/>
<path d="M17.56,159.45 L18.40,159.45" stroke="#8a8a8a" stroke-width="0.4" fill="none"/>
<path d="M16.40,161.03 L18.40,161.03" stroke="#8a8a8a" stroke-width="0.4" fill="none"/>
<path d="M17.12,162.31 L18.40,162.31" stroke="#8a8a8a" stroke-width="0.4" fill="none"/>
<path d="M16.06,164.03 L18.40,164.03" stroke="#8a8a8a" stroke-width="0.4" fill="none"/>
<path d="M16.62,165.41 L18.40,165.41" stroke="#8a8a8a" stroke-width="0.4" fill="none"/>
<path d="M14.95,167.86 L18.40,167.86" stroke="#8a8a8a" stroke-width="0.4" fill="none"/>
<path d="M15.73,169.98 L18.40,169.98" stroke="#8a8a8a" stroke-width="0.4" fill="none"/>
<path d="M17.22,172.00 L18.40,172.00" stroke="#8a8a8a" stroke-width="0.4" fill="none"/>
<path d="M17.55,173.25 L18.40,173.25" stroke="#8a8a8a" stroke-width="0.4" fill="none"/>
<path d="M15.71,175.72 L18.40,175.72" stroke="#8a8a8a" stroke-width="0.4" fill="none"/>
<path d="M17.54,178.27 L18.40,178.27" stroke="#8a8a8a" stroke-width="0.4" fill="none"/>
<path d="M16.30,180.36 L18.40,180.36" stroke="#8a8a8a" stroke-width="0.4" fill="none"/>
<path d="M130.50,35.60 L143.80,35.60" stroke="#8a8a8a" stroke-width="0.6" fill="none"/>
<path d="M130.50,35.60 L130.50,99.20" stroke="#8a8a8a" stroke-width="0.6" fill="none"/>
<path d="M130.50,99.20 L136.50,99.20" stroke="#8a8a8a" stroke-width="0.6" fill="none"/>
<path d="M143.80,29.50 L143.80,55.30" stroke="#8a8a8a" stroke-width="0.6" fill="none"/>
<path d="M143.80,29.50 L146.50,29.50" stroke="#8a8a8a" stroke-width="0.6" fill="none"/>
<path d="M143.80,55.30 L146.00,55.30" stroke="#8a8a8a" stroke-width="0.6" fill="none"/>
<path d="M146.00,50.00 L146.00,60.00" stroke="#8a8a8a" stroke-width="0.6" fill="none"/>
<path d="M136.50,72.00 L136.50,124.20" stroke="#8a8a8a" stroke-width="0.6" fill="none"/>
<path d="M136.50,72.00 L143.00,72.00" stroke="#8a8a8a" stroke-width="0.6" fill="none"/>
<path d="M136.50,124.20 L141.40,124.20" stroke="#8a8a8a" stroke-width="0.6" fill="none"/>
<path d="M143.00,62.00 L143.00,88.00" stroke="#8a8a8a" stroke-width="0.6" fill="none"/>
<path d="M143.00,62.00 L146.00,62.00" stroke="#8a8a8a" stroke-width="0.6" fill="none"/>
<path d="M143.00,88.00 L146.50,88.00" stroke="#8a8a8a" stroke-width="0.6" fill="none"/>
<path d="M145.00,88.00 L145.00,100.00" stroke="#8a8a8a" stroke-width="0.6" fill="none"/>
<path d="M141.40,109.70 L141.40,142.00" stroke="#8a8a8a" stroke-width="0.6" fill="none"/>
<path d="M141.40,109.70 L145.00,109.70" stroke="#8a8a8a" stroke-width="0.6" fill="none"/>
<path d="M141.40,142.00 L143.00,142.00" stroke="#8a8a8a" stroke-width="0.6" fill="none"/>
<path d="M143.00,142.00 L143.00,174.00" stroke="#8a8a8a" stroke-width="0.6" fill="none"/>
<path d="M143.00,150.00 L146.00,150.00" stroke="#8a8a8a" stroke-width="0.6" fill="none"/>
<path d="M143.00,174.00 L146.50,174.00" stroke="#8a8a8a" stroke-width="0.6" fill="none"/>
<path d="M145.50,118.00 L145.50,135.00" stroke="#8a8a8a" stroke-width="0.6" fill="none"/>
<path d="M141.40,126.00 L145.50,126.00" stroke="#8a8a8a" stroke-width="0.6" fill="none"/>
<path d="M146.72,28.30 L148.80,28.30" stroke="#8a8a8a" stroke-width="0.4" fill="none"/>
<path d="M146.20,30.42 L148.80,30.42" stroke="#8a8a8a" stroke-width="0.4" fill="none"/>
<path d="M147.97,31.82 L148.80,31.82" stroke="#8a8a8a" stroke-width="0.4" fill="none"/>
<path d="M147.26,33.54 L148.80,33.54" stroke="#8a8a8a" stroke-width="0.4" fill="none"/>
<path d="M146.14,35.88 L148.80,35.88" stroke="#8a8a8a" stroke-width="0.4" fill="none"/>
<path d="M146.49,37.92 L148.80,37.92" stroke="#8a8a8a" stroke-width="0.4" fill="none"/>
<path d="M147.61,40.05 L148.80,40.05" stroke="#8a8a8a" stroke-width="0.4" fill="none"/>
<path d="M147.56,41.86 L148.80,41.86" stroke="#8a8a8a" stroke-width="0.4" fill="none"/>
<path d="M147.84,44.33 L148.80,44.33" stroke="#8a8a8a" stroke-width="0.4" fill="none"/>
<path d="M147.80,46.68 L148.80,46.68" stroke="#8a8a8a" stroke-width="0.4" fill="none"/>
<path d="M147.09,48.84 L148.80,48.84" stroke="#8a8a8a" stroke-width="0.4" fill="none"/>
<path d="M145.73,50.61 L148.80,50.61" stroke="#8a8a8a" stroke-width="0.4" fill="none"/>
<path d="M147.84,51.83 L148.80,51.83" stroke="#8a8a8a" stroke-width="0.4" fill="none"/>
<path d="M146.63,54.31 L148.80,54.31" stroke="#8a8a8a" stroke-width="0.4" fill="none"/>
<path d="M145.33,55.64 L148.80,55.64" stroke="#8a8a8a" stroke-width="0.4" fill="none"/>
<path d="M147.70,58.17 L148.80,58.17" stroke="#8a8a8a" stroke-width="0.4" fill="none"/>
<path d="M147.64,59.96 L148.80,59.96" stroke="#8a8a8a" stroke-width="0.4" fill="none"/>
<path d="M146.32,61.60 L148.80,61.60" stroke="#8a8a8a" stroke-width="0.4" fill="none"/>
<path d="M146.12,63.02 L148.80,63.02" stroke="#8a8a8a" stroke-width="0.4" fill="none"/>
<path d="M147.54,64.30 L148.80,64.30" stroke="#8a8a8a" stroke-width="0.4" fill="none"/>
<path d="M146.92,66.64 L148.80,66.64" stroke="#8a8a8a" stroke-width="0.4" fill="none"/>
<path d="M146.39,68.43 L148.80,68.43" stroke="#8a8a8a" stroke-width="0.4" fill="none"/>
<path d="M146.96,70.29 L148.80,70.29" stroke="#8a8a8a" stroke-width="0.4" fill="none"/>
<path d="M146.04,71.54 L148.80,71.54" stroke="#8a8a8a" stroke-width="0.4" fill="none"/>
<path d="M145.36,74.09 L148.80,74.09" stroke="#8a8a8a" stroke-width="0.4" fill="none"/>
<path d="M147.04,76.22 L148.80,76.22" stroke="#8a8a8a" stroke-width="0.4" fill="none"/>
<path d="M146.14,77.93 L148.80,77.93" stroke="#8a8a8a" stroke-width="0.4" fill="none"/>
<path d="M147.69,80.07 L148.80,80.07" stroke="#8a8a8a" stroke-width="0.4" fill="none"/>
<path d="M147.02,81.60 L148.80,81.60" stroke="#8a8a8a" stroke-width="0.4" fill="none"/>
<path d="M145.81,83.52 L148.80,83.52" stroke="#8a8a8a" stroke-width="0.4" fill="none"/>
<path d="M147.92,85.42 L148.80,85.42" stroke="#8a8a8a" stroke-width="0.4" fill="none"/>
<path d="M146.84,87.77 L148.80,87.77" stroke="#8a8a8a" stroke-width="0.4" fill="none"/>
<path d="M147.40,89.69 L148.80,89.69" stroke="#8a8a8a" stroke-width="0.4" fill="none"/>
<path d="M146.95,91.49 L148.80,91.49" stroke="#8a8a8a" stroke-width="0.4" fill="none"/>
<path d="M147.72,93.77 L148.80,93.77" stroke="#8a8a8a" stroke-width="0.4" fill="none"/>
<path d="M147.52,95.74 L148.80,95.74" stroke="#8a8a8a" stroke-width="0.4" fill="none"/>
<path d="M147.90,97.92 L148.80,97.92" stroke="#8a8a8a" stroke-width="0.4" fill="none"/>
<path d="M147.07,99.50 L148.80,99.50" stroke="#8a8a8a" stroke-width="0.4" fill="none"/>
<path d="M147.86,101.60 L148.80,101.60" stroke="#8a8a8a" stroke-width="0.4" fill="none"/>
<path d="M147.44,103.44 L148.80,103.44" stroke="#8a8a8a" stroke-width="0.4" fill="none"/>
<path d="M146.71,105.03 L148.80,105.03" stroke="#8a8a8a" stroke-width="0.4" fill="none"/>
<path d="M146.70,107.58 L148.80,107.58" stroke="#8a8a8a" stroke-width="0.4" fill="none"/>
<path d="M147.55,110.11 L148.80,110.11" stroke="#8a8a8a" stroke-width="0.4" fill="none"/>
<path d="M147.02,112.61 L148.80,112.61" stroke="#8a8a8a" stroke-width="0.4" fill="none"/>
<path d="M145.98,114.07 L148.80,114.07" stroke="#8a8a8a" stroke-width="0.4" fill="none"/>
<path d="M147.98,116.55 L148.80,116.55" stroke="#8a8a8a" stroke-width="0.4" fill="none"/>
<path d="M145.92,118.12 L148.80,118.12" stroke="#8a8a8a" stroke-width="0.4" fill="none"/>
<path d="M147.35,119.80 L148.80,119.80" stroke="#8a8a8a" stroke-width="0.4" fill="none"/>
<path d="M147.89,121.02 L148.80,121.02" stroke="#8a8a8a" stroke-width="0.4" fill="none"/>
<path d="M145.34,123.08 L148.80,123.08" stroke="#8a8a8a" stroke-width="0.4" fill="none"/>
<path d="M146.64,125.68 L148.80,125.68" stroke="#8a8a8a" stroke-width="0.4" fill="none"/>
<path d="M147.13,126.91 L148.80,126.91" stroke="#8a8a8a" stroke-width="0.4" fill="none"/>
<path d="M145.75,129.22 L148.80,129.22" stroke="#8a8a8a" stroke-width="0.4" fill="none"/>
<path d="M147.38,131.31 L148.80,131.31" stroke="#8a8a8a" stroke-width="0.4" fill="none"/>
<path d="M146.71,133.25 L148.80,133.25" stroke="#8a8a8a" stroke-width="0.4" fill="none"/>
<path d="M147.29,135.33 L148.80,135.33" stroke="#8a8a8a" stroke-width="0.4" fill="none"/>
<path d="M145.59,137.85 L148.80,137.85" stroke="#8a8a8a" stroke-width="0.4" fill="none"/>
<path d="M147.21,139.28 L148.80,139.28" stroke="#8a8a8a" stroke-width="0.4" fill="none"/>
<path d="M147.25,141.70 L148.80,141.70" stroke="#8a8a8a" stroke-width="0.4" fill="none"/>
<path d="M146.61,144.22 L148.80,144.22" stroke="#8a8a8a" stroke-width="0.4" fill="none"/>
<path d="M146.10,146.40 L148.80,146.40" stroke="#8a8a8a" stroke-width="0.4" fill="none"/>
<path d="M147.23,147.90 L148.80,147.90" stroke="#8a8a8a" stroke-width="0.4" fill="none"/>
<path d="M146.16,149.45 L148.80,149.45" stroke="#8a8a8a" stroke-width="0.4" fill="none"/>
<path d="M147.64,151.63 L148.80,151.63" stroke="#8a8a8a" stroke-width="0.4" fill="none"/>
<path d="M146.87,154.07 L148.80,154.07" stroke="#8a8a8a" stroke-width="0.4" fill="none"/>
<path d="M146.82,155.60 L148.80,155.60" stroke="#8a8a8a" stroke-width="0.4" fill="none"/>
<path d="M146.49,158.18 L148.80,158.18" stroke="#8a8a8a" stroke-width="0.4" fill="none"/>
<path d="M145.52,160.25 L148.80,160.25" stroke="#8a8a8a" stroke-width="0.4" fill="none"/>
<path d="M145.95,162.80 L148.80,162.80" stroke="#8a8a8a" stroke-width="0.4" fill="none"/>
<path d="M146.41,164.58 L148.80,164.58" stroke="#8a8a8a" stroke-width="0.4" fill="none"/>
<path d="M145.87,167.04 L148.80,167.04" stroke="#8a8a8a" stroke-width="0.4" fill="none"/>
<path d="M147.06,169.06 L148.80,169.06" stroke="#8a8a8a" stroke-width="0.4" fill="none"/>
<path d="M146.01,170.77 L148.80,170.77" stroke="#8a8a8a" stroke-width="0.4" fill="none"/>
<path d="M147.95,172.76 L148.80,172.76" stroke="#8a8a8a" stroke-width="0.4" fill="none"/>
<path d="M145.56,174.95 L148.80,174.95" stroke="#8a8a8a" stroke-width="0.4" fill="none"/>
<path d="M145.58,177.27 L148.80,177.27" stroke="#8a8a8a" stroke-width="0.4" fill="none"/>
<path d="M146.56,179.75 L148.80,179.75" stroke="#8a8a8a" stroke-width="0.4" fill="none"/>
<path d="M146.98,182.05 L148.80,182.05" stroke="#8a8a8a" stroke-width="0.4" fill="none"/>
<path d="M147.05,183.39 L148.80,183.39" stroke="#8a8a8a" stroke-width="0.4" fill="none"/>
<path d="M296.60,47.70 L308.70,47.70" stroke="#8a8a8a" stroke-width="0.6" fill="none"/>
<path d="M296.60,47.70 L296.60,109.70" stroke="#8a8a8a" stroke-width="0.6" fill="none"/>
<path d="M296.60,109.70 L305.50,109.70" stroke="#8a8a8a" stroke-width="0.6" fill="none"/>
<path d="M308.70,38.00 L308.70,56.00" stroke="#8a8a8a" stroke-width="0.6" fill="none"/>
<path d="M308.70,38.00 L312.00,38.00" stroke="#8a8a8a" stroke-width="0.6" fill="none"/>
<path d="M308.70,56.00 L311.50,56.00" stroke="#8a8a8a" stroke-width="0.6" fill="none"/>
<path d="M311.00,30.00 L311.00,44.00" stroke="#8a8a8a" stroke-width="0.6" fill="none"/>
<path d="M305.50,61.40 L305.50,148.40" stroke="#8a8a8a" stroke-width="0.6" fill="none"/>
<path d="M305.50,61.40 L310.00,61.40" stroke="#8a8a8a" stroke-width="0.6" fill="none"/>
<path d="M305.50,72.00 L310.50,72.00" stroke="#8a8a8a" stroke-width="0.6" fill="none"/>
<path d="M305.50,148.40 L311.00,148.40" stroke="#8a8a8a" stroke-width="0.6" fill="none"/>
<path d="M305.50,92.00 L309.00,92.00" stroke="#8a8a8a" stroke-width="0.6" fill="none"/>
<path d="M310.00,61.40 L310.00,68.00" stroke="#8a8a8a" stroke-width="0.6" fill="none"/>
<path d="M310.50,72.00 L310.50,88.00" stroke="#8a8a8a" stroke-width="0.6" fill="none"/>
<path d="M309.00,92.00 L309.00,118.00" stroke="#8a8a8a" stroke-width="0.6" fill="none"/>
<path d="M309.00,118.00 L312.00,118.00" stroke="#8a8a8a" stroke-width="0.6" fill="none"/>
<path d="M311.00,125.80 L311.00,174.00" stroke="#8a8a8a" stroke-width="0.6" fill="none"/>
<path d="M311.00,126.00 L313.00,126.00" stroke="#8a8a8a" stroke-width="0.6" fill="none"/>
<path d="M311.00,174.00 L313.00,174.00" stroke="#8a8a8a" stroke-width="0.6" fill="none"/>
<path d="M312.50,150.00 L312.50,162.00" stroke="#8a8a8a" stroke-width="0.6" fill="none"/>
<path d="M312.90,28.00 L314.40,28.00" stroke="#8a8a8a" stroke-width="0.4" fill="none"/>
<path d="M311.75,30.16 L314.40,30.16" stroke="#8a8a8a" stroke-width="0.4" fill="none"/>
<path d="M313.10,32.55 L314.40,32.55" stroke="#8a8a8a" stroke-width="0.4" fill="none"/>
<path d="M313.20,34.07 L314.40,34.07" stroke="#8a8a8a" stroke-width="0.4" fill="none"/>
<path d="M311.62,35.59 L314.40,35.59" stroke="#8a8a8a" stroke-width="0.4" fill="none"/>
<path d="M312.17,36.97 L314.40,36.97" stroke="#8a8a8a" stroke-width="0.4" fill="none"/>
<path d="M312.80,38.47 L314.40,38.47" stroke="#8a8a8a" stroke-width="0.4" fill="none"/>
<path d="M311.34,40.27 L314.40,40.27" stroke="#8a8a8a" stroke-width="0.4" fill="none"/>
<path d="M313.56,42.32 L314.40,42.32" stroke="#8a8a8a" stroke-width="0.4" fill="none"/>
<path d="M313.20,43.91 L314.40,43.91" stroke="#8a8a8a" stroke-width="0.4" fill="none"/>
<path d="M311.41,46.33 L314.40,46.33" stroke="#8a8a8a" stroke-width="0.4" fill="none"/>
<path d="M311.37,48.66 L314.40,48.66" stroke="#8a8a8a" stroke-width="0.4" fill="none"/>
<path d="M311.04,50.90 L314.40,50.90" stroke="#8a8a8a" stroke-width="0.4" fill="none"/>
<path d="M312.91,53.21 L314.40,53.21" stroke="#8a8a8a" stroke-width="0.4" fill="none"/>
<path d="M312.29,55.60 L314.40,55.60" stroke="#8a8a8a" stroke-width="0.4" fill="none"/>
<path d="M312.08,57.86 L314.40,57.86" stroke="#8a8a8a" stroke-width="0.4" fill="none"/>
<path d="M312.62,59.66 L314.40,59.66" stroke="#8a8a8a" stroke-width="0.4" fill="none"/>
<path d="M312.75,61.46 L314.40,61.46" stroke="#8a8a8a" stroke-width="0.4" fill="none"/>
<path d="M311.39,62.83 L314.40,62.83" stroke="#8a8a8a" stroke-width="0.4" fill="none"/>
<path d="M310.94,65.14 L314.40,65.14" stroke="#8a8a8a" stroke-width="0.4" fill="none"/>
<path d="M312.10,67.31 L314.40,67.31" stroke="#8a8a8a" stroke-width="0.4" fill="none"/>
<path d="M313.24,69.56 L314.40,69.56" stroke="#8a8a8a" stroke-width="0.4" fill="none"/>
<path d="M312.40,71.71 L314.40,71.71" stroke="#8a8a8a" stroke-width="0.4" fill="none"/>
<path d="M313.05,73.15 L314.40,73.15" stroke="#8a8a8a" stroke-width="0.4" fill="none"/>
<path d="M312.92,75.09 L314.40,75.09" stroke="#8a8a8a" stroke-width="0.4" fill="none"/>
<path d="M311.97,76.93 L314.40,76.93" stroke="#8a8a8a" stroke-width="0.4" fill="none"/>
<path d="M313.25,78.68 L314.40,78.68" stroke="#8a8a8a" stroke-width="0.4" fill="none"/>
<path d="M312.96,80.57 L314.40,80.57" stroke="#8a8a8a" stroke-width="0.4" fill="none"/>
<path d="M313.07,82.10 L314.40,82.10" stroke="#8a8a8a" stroke-width="0.4" fill="none"/>
<path d="M313.40,83.81 L314.40,83.81" stroke="#8a8a8a" stroke-width="0.4" fill="none"/>
<path d="M311.03,85.93 L314.40,85.93" stroke="#8a8a8a" stroke-width="0.4" fill="none"/>
<path d="M311.66,87.67 L314.40,87.67" stroke="#8a8a8a" stroke-width="0.4" fill="none"/>
<path d="M313.48,90.18 L314.40,90.18" stroke="#8a8a8a" stroke-width="0.4" fill="none"/>
<path d="M311.42,91.58 L314.40,91.58" stroke="#8a8a8a" stroke-width="0.4" fill="none"/>
<path d="M311.87,93.95 L314.40,93.95" stroke="#8a8a8a" stroke-width="0.4" fill="none"/>
<path d="M312.48,95.37 L314.40,95.37" stroke="#8a8a8a" stroke-width="0.4" fill="none"/>
<path d="M311.21,97.79 L314.40,97.79" stroke="#8a8a8a" stroke-width="0.4" fill="none"/>
<path d="M313.05,100.11 L314.40,100.11" stroke="#8a8a8a" stroke-width="0.4" fill="none"/>
<path d="M312.59,102.51 L314.40,102.51" stroke="#8a8a8a" stroke-width="0.4" fill="none"/>
<path d="M313.23,104.71 L314.40,104.71" stroke="#8a8a8a" stroke-width="0.4" fill="none"/>
<path d="M311.97,107.27 L314.40,107.27" stroke="#8a8a8a" stroke-width="0.4" fill="none"/>
<path d="M313.03,109.48 L314.40,109.48" stroke="#8a8a8a" stroke-width="0.4" fill="none"/>
<path d="M312.03,111.55 L314.40,111.55" stroke="#8a8a8a" stroke-width="0.4" fill="none"/>
<path d="M312.63,113.57 L314.40,113.57" stroke="#8a8a8a" stroke-width="0.4" fill="none"/>
<path d="M312.68,115.79 L314.40,115.79" stroke="#8a8a8a" stroke-width="0.4" fill="none"/>
<path d="M313.16,117.41 L314.40,117.41" stroke="#8a8a8a" stroke-width="0.4" fill="none"/>
<path d="M313.30,119.56 L314.40,119.56" stroke="#8a8a8a" stroke-width="0.4" fill="none"/>
<path d="M313.41,121.08 L314.40,121.08" stroke="#8a8a8a" stroke-width="0.4" fill="none"/>
<path d="M312.10,123.18 L314.40,123.18" stroke="#8a8a8a" stroke-width="0.4" fill="none"/>
<path d="M313.50,125.14 L314.40,125.14" stroke="#8a8a8a" stroke-width="0.4" fill="none"/>
<path d="M312.67,126.96 L314.40,126.96" stroke="#8a8a8a" stroke-width="0.4" fill="none"/>
<path d="M313.59,128.29 L314.40,128.29" stroke="#8a8a8a" stroke-width="0.4" fill="none"/>
<path d="M313.27,130.88 L314.40,130.88" stroke="#8a8a8a" stroke-width="0.4" fill="none"/>
<path d="M312.87,132.51 L314.40,132.51" stroke="#8a8a8a" stroke-width="0.4" fill="none"/>
<path d="M313.39,134.54 L314.40,134.54" stroke="#8a8a8a" stroke-width="0.4" fill="none"/>
<path d="M312.61,136.40 L314.40,136.40" stroke="#8a8a8a" stroke-width="0.4" fill="none"/>
<path d="M313.58,138.77 L314.40,138.77" stroke="#8a8a8a" stroke-width="0.4" fill="none"/>
<path d="M312.26,140.44 L314.40,140.44" stroke="#8a8a8a" stroke-width="0.4" fill="none"/>
<path d="M312.20,142.99 L314.40,142.99" stroke="#8a8a8a" stroke-width="0.4" fill="none"/>
<path d="M311.79,144.86 L314.40,144.86" stroke="#8a8a8a" stroke-width="0.4" fill="none"/>
<path d="M313.51,146.47 L314.40,146.47" stroke="#8a8a8a" stroke-width="0.4" fill="none"/>
<path d="M311.14,148.38 L314.40,148.38" stroke="#8a8a8a" stroke-width="0.4" fill="none"/>
<path d="M312.90,150.61 L314.40,150.61" stroke="#8a8a8a" stroke-width="0.4" fill="none"/>
<path d="M311.31,152.77 L314.40,152.77" stroke="#8a8a8a" stroke-width="0.4" fill="none"/>
<path d="M312.01,154.33 L314.40,154.33" stroke="#8a8a8a" stroke-width="0.4" fill="none"/>
<path d="M312.94,156.03 L314.40,156.03" stroke="#8a8a8a" stroke-width="0.4" fill="none"/>
<path d="M313.05,157.63 L314.40,157.63" stroke="#8a8a8a" stroke-width="0.4" fill="none"/>
<path d="M313.50,159.32 L314.40,159.32" stroke="#8a8a8a" stroke-width="0.4" fill="none"/>
<path d="M313.37,161.08 L314.40,161.08" stroke="#8a8a8a" stroke-width="0.4" fill="none"/>
<path d="M311.98,163.34 L314.40,163.34" stroke="#8a8a8a" stroke-width="0.4" fill="none"/>
<path d="M311.51,164.54 L314.40,164.54" stroke="#8a8a8a" stroke-width="0.4" fill="none"/>
<path d="M312.30,166.01 L314.40,166.01" stroke="#8a8a8a" stroke-width="0.4" fill="none"/>
<path d="M312.70,167.99 L314.40,167.99" stroke="#8a8a8a" stroke-width="0.4" fill="none"/>
<path d="M312.43,169.59 L314.40,169.59" stroke="#8a8a8a" stroke-width="0.4" fill="none"/>
<path d="M311.27,170.98 L314.40,170.98" stroke="#8a8a8a" stroke-width="0.4" fill="none"/>
<path d="M311.38,172.34 L314.40,172.34" stroke="#8a8a8a" stroke-width="0.4" fill="none"/>
<path d="M312.78,173.85 L314.40,173.85" stroke="#8a8a8a" stroke-width="0.4" fill="none"/>
<path d="M313.51,175.59 L314.40,175.59" stroke="#8a8a8a" stroke-width="0.4" fill="none"/>
<path d="M312.63,176.97 L314.40,176.97" stroke="#8a8a8a" stroke-width="0.4" fill="none"/>
<path d="M311.23,178.79 L314.40,178.79" stroke="#8a8a8a" stroke-width="0.4" fill="none"/>
<text x="435.90" y="5.00" font-size="5.85" text-anchor="start" fill="#2b2b2b">Type</text>
<rect x="436.20" y="7.40" width="3.90" height="4.20" fill="#1f6fba"/>
<text x="441.80" y="11.10" font-size="5.05" text-anchor="start" fill="#2b2b2b">Primary</text>
<rect x="466.00" y="7.40" width="3.90" height="4.20" fill="#e6be22"/>
<text x="471.60" y="11.10" font-size="5.05" text-anchor="start" fill="#2b2b2b">Metastasis</text>
<text x="435.90" y="25.70" font-size="5.85" text-anchor="start" fill="#2b2b2b">CpG Class</text>
<rect x="436.20" y="28.50" width="3.90" height="4.20" fill="#1d8a4e"/>
<text x="441.80" y="32.20" font-size="5.05" text-anchor="start" fill="#2b2b2b">CpG Island</text>
<rect x="436.20" y="33.87" width="3.90" height="4.20" fill="#f2a93b"/>
<text x="441.80" y="37.57" font-size="5.05" text-anchor="start" fill="#2b2b2b">North Shelf</text>
<rect x="436.20" y="39.24" width="3.90" height="4.20" fill="#fdf3c8"/>
<text x="441.80" y="42.94" font-size="5.05" text-anchor="start" fill="#2b2b2b">North Shore</text>
<rect x="436.20" y="44.61" width="3.90" height="4.20" fill="#1b4f97"/>
<text x="441.80" y="48.31" font-size="5.05" text-anchor="start" fill="#2b2b2b">Open Sea</text>
<rect x="436.20" y="49.98" width="3.90" height="4.20" fill="#313a8e"/>
<text x="441.80" y="53.68" font-size="5.05" text-anchor="start" fill="#2b2b2b">South Shelf</text>
<rect x="436.20" y="55.35" width="3.90" height="4.20" fill="#d6c9e6"/>
<text x="441.80" y="59.05" font-size="5.05" text-anchor="start" fill="#2b2b2b">South Shore</text>
<text x="435.9" y="74.3" font-size="5.85" fill="#2b2b2b">β value</text>
<defs><linearGradient id="gb" x1="0" y1="0" x2="0" y2="1">
<stop offset="0" stop-color="#d7302a"/><stop offset="0.25" stop-color="#f08a74"/><stop offset="0.5" stop-color="#f6f2f6"/><stop offset="0.75" stop-color="#8d94cf"/><stop offset="1" stop-color="#2c4ea3"/></linearGradient></defs>
<rect x="436.20" y="76.70" width="4.50" height="25.60" fill="url(#gb)"/>
<text x="441.80" y="80.00" font-size="5" text-anchor="start" fill="#2b2b2b">1</text>
<text x="441.80" y="92.00" font-size="5" text-anchor="start" fill="#2b2b2b">0.5</text>
<text x="441.80" y="103.30" font-size="5" text-anchor="start" fill="#2b2b2b">0</text>
<text x="460.3" y="74.0" font-size="5.85" fill="#2b2b2b">log<tspan font-size="3.6" dy="1.2">2</tspan><tspan dy="-1.2"> change vs. normal</tspan></text>
<rect x="460.30" y="76.70" width="4.30" height="25.60" fill="url(#gb)"/>
<text x="466.00" y="80.00" font-size="5" text-anchor="start" fill="#2b2b2b">5</text>
<text x="466.00" y="92.00" font-size="5" text-anchor="start" fill="#2b2b2b">0</text>
<text x="465.60" y="103.30" font-size="5" text-anchor="start" fill="#2b2b2b">−5</text>
<text x="435.60" y="117.10" font-size="5.85" text-anchor="start" fill="#2b2b2b">Histology</text>
<rect x="436.20" y="119.60" width="3.90" height="4.20" fill="#1d4f9f"/>
<text x="441.80" y="123.30" font-size="5.05" text-anchor="start" fill="#2b2b2b">Acinar adenocarcinoma (AA)</text>
<rect x="436.20" y="125.00" width="3.90" height="4.20" fill="#dcc3c9"/>
<text x="441.80" y="128.70" font-size="5.05" text-anchor="start" fill="#2b2b2b">PCa with NE differentiation</text>
<rect x="436.20" y="130.40" width="3.90" height="4.20" fill="#8b1a3a"/>
<text x="441.80" y="134.10" font-size="5.05" text-anchor="start" fill="#2b2b2b">Small cell NE-carcinoma (SCC)</text>
<text x="435.9" y="148.6" font-size="5.85" fill="#2b2b2b"><tspan font-style="italic">TMPRSS2–ERG</tspan> fusion</text>
<rect x="436.20" y="152.80" width="3.90" height="4.20" fill="#454545"/>
<text x="441.80" y="156.50" font-size="5.05" text-anchor="start" fill="#2b2b2b">Yes</text>
<rect x="436.20" y="157.70" width="3.90" height="4.20" fill="#9a9a9a"/>
<text x="441.80" y="161.40" font-size="5.05" text-anchor="start" fill="#2b2b2b">No</text>
<text x="435.9" y="182.5" font-size="5.85" fill="#2b2b2b"><tspan font-style="italic">TP53/SPOP</tspan> mutation</text>
<rect x="436.20" y="185.60" width="3.90" height="4.20" fill="#28a4d8"/>
<text x="441.80" y="189.30" font-size="5.05" text-anchor="start" fill="#2b2b2b">Frameshift deletion</text>
<rect x="436.20" y="191.00" width="3.90" height="4.20" fill="#34a05c"/>
<text x="441.80" y="194.70" font-size="5.05" text-anchor="start" fill="#2b2b2b">Missense mutation</text>
<rect x="436.20" y="196.40" width="3.90" height="4.20" fill="#5f5a52"/>
<text x="441.80" y="200.10" font-size="5.05" text-anchor="start" fill="#2b2b2b">Splice site</text>
<rect x="436.20" y="201.80" width="3.90" height="4.20" fill="#c4c4c4"/>
<text x="441.80" y="205.50" font-size="5.05" text-anchor="start" fill="#2b2b2b">None</text>
<text x="435.9" y="219.8" font-size="5.85" fill="#2b2b2b" font-style="italic">PTEN/AR CNA</text>
<rect x="436.20" y="222.90" width="3.90" height="4.20" fill="#c81e2e"/>
<text x="441.80" y="226.60" font-size="5.05" text-anchor="start" fill="#2b2b2b">Amplification</text>
<rect x="436.20" y="228.25" width="3.90" height="4.20" fill="#f5a283"/>
<text x="441.80" y="231.95" font-size="5.05" text-anchor="start" fill="#2b2b2b">Gain</text>
<rect x="436.20" y="233.60" width="3.90" height="4.20" fill="#d3d3d3"/>
<text x="441.80" y="237.30" font-size="5.05" text-anchor="start" fill="#2b2b2b">No change</text>
<rect x="436.20" y="238.95" width="3.90" height="4.20" fill="#93c6e6"/>
<text x="441.80" y="242.65" font-size="5.05" text-anchor="start" fill="#2b2b2b">Loss</text>
<rect x="436.20" y="244.30" width="3.90" height="4.20" fill="#1f68ae"/>
<text x="441.80" y="248.00" font-size="5.05" text-anchor="start" fill="#2b2b2b">Deletion</text>
</svg>
</body></html>
